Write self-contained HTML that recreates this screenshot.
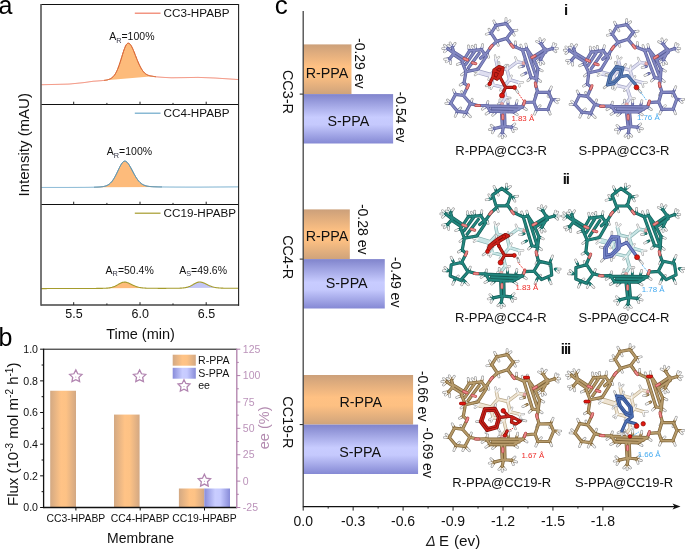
<!DOCTYPE html>
<html><head><meta charset="utf-8"><style>
html,body{margin:0;padding:0;background:#fff;}
svg{display:block;filter:blur(0.3px);}
text{font-family:"Liberation Sans", sans-serif;}
</style></head><body>
<svg width="685" height="549" viewBox="0 0 685 549">
<defs>
<linearGradient id="gRh" x1="0" x2="1" y1="0" y2="0">
 <stop offset="0" stop-color="#d3a983"/><stop offset="0.42" stop-color="#ffc386"/><stop offset="0.62" stop-color="#fdc285"/><stop offset="1" stop-color="#d3a883"/>
</linearGradient>
<linearGradient id="gSh" x1="0" x2="1" y1="0" y2="0">
 <stop offset="0" stop-color="#888cda"/><stop offset="0.42" stop-color="#c9cdff"/><stop offset="0.62" stop-color="#c6caff"/><stop offset="1" stop-color="#878bd8"/>
</linearGradient>
<linearGradient id="gRv" x1="0" x2="0" y1="0" y2="1">
 <stop offset="0" stop-color="#cca07a"/><stop offset="0.45" stop-color="#ffc183"/><stop offset="0.62" stop-color="#fdc082"/><stop offset="1" stop-color="#cfa37b"/>
</linearGradient>
<linearGradient id="gSv" x1="0" x2="0" y1="0" y2="1">
 <stop offset="0" stop-color="#8084cc"/><stop offset="0.47" stop-color="#c8ccff"/><stop offset="0.62" stop-color="#c5c9fd"/><stop offset="1" stop-color="#8589d4"/>
</linearGradient>
</defs>

<text x="-1.6" y="14.2" font-size="25">a</text>
<text x="-1.6" y="345.6" font-size="25">b</text>
<text x="274.7" y="14.4" font-size="26">c</text>
<path d="M106.00,80.13 L106.50,80.04 L107.00,79.95 L107.50,79.82 L108.00,79.68 L108.50,79.53 L109.00,79.35 L109.50,79.16 L110.00,78.93 L110.50,78.68 L111.00,78.39 L111.50,78.07 L112.00,77.70 L112.50,77.29 L113.00,76.82 L113.50,76.30 L114.00,75.71 L114.50,75.06 L115.00,74.33 L115.50,73.52 L116.00,72.64 L116.50,71.67 L117.00,70.62 L117.50,69.48 L118.00,68.26 L118.50,66.96 L119.00,65.59 L119.50,64.14 L120.00,62.63 L120.50,61.07 L121.00,59.47 L121.50,57.84 L122.00,56.21 L122.50,54.58 L123.00,52.97 L123.50,51.42 L124.00,49.94 L124.50,48.55 L125.00,47.27 L125.50,46.14 L126.00,45.17 L126.50,44.38 L127.00,43.79 L127.50,43.42 L128.00,43.27 L128.50,43.23 L129.00,43.36 L129.50,43.66 L130.00,44.11 L130.50,44.70 L131.00,45.43 L131.50,46.27 L132.00,47.23 L132.50,48.27 L133.00,49.39 L133.50,50.57 L134.00,51.80 L134.50,53.06 L135.00,54.35 L135.50,55.64 L136.00,56.93 L136.50,58.22 L137.00,59.48 L137.50,60.71 L138.00,61.90 L138.50,63.05 L139.00,64.15 L139.50,65.20 L140.00,66.20 L140.50,67.18 L141.00,68.10 L141.50,68.96 L142.00,69.75 L142.50,70.49 L143.00,71.16 L143.50,71.78 L144.00,72.35 L144.50,72.86 L145.00,73.31 L145.50,73.73 L146.00,74.09 L146.50,74.42 L147.00,74.71 L147.50,74.96 L148.00,75.19 L148.50,75.38 L149.00,75.55 L149.50,75.69 L150.00,75.82 L150.50,75.92 L151.00,76.01 L151.50,76.09 L152.00,76.15 L152.50,76.25 L153.00,76.35 Z" fill="#fdbb7b"/>
<path d="M41.00,84.74 L41.50,84.73 L42.00,84.72 L42.50,84.71 L43.00,84.70 L43.50,84.69 L44.00,84.67 L44.50,84.66 L45.00,84.65 L45.50,84.64 L46.00,84.63 L46.50,84.62 L47.00,84.61 L47.50,84.59 L48.00,84.58 L48.50,84.57 L49.00,84.56 L49.50,84.55 L50.00,84.54 L50.50,84.52 L51.00,84.51 L51.50,84.50 L52.00,84.49 L52.50,84.48 L53.00,84.47 L53.50,84.45 L54.00,84.44 L54.50,84.43 L55.00,84.42 L55.50,84.41 L56.00,84.40 L56.50,84.38 L57.00,84.37 L57.50,84.36 L58.00,84.35 L58.50,84.34 L59.00,84.32 L59.50,84.31 L60.00,84.30 L60.50,84.29 L61.00,84.28 L61.50,84.26 L62.00,84.25 L62.50,84.24 L63.00,84.23 L63.50,84.21 L64.00,84.20 L64.50,84.19 L65.00,84.18 L65.50,84.17 L66.00,84.15 L66.50,84.14 L67.00,84.13 L67.50,84.12 L68.00,84.10 L68.50,84.09 L69.00,84.08 L69.50,84.03 L70.00,83.98 L70.50,83.93 L71.00,83.88 L71.50,83.83 L72.00,83.78 L72.50,83.73 L73.00,83.69 L73.50,83.64 L74.00,83.59 L74.50,83.54 L75.00,83.49 L75.50,83.44 L76.00,83.39 L76.50,83.34 L77.00,83.29 L77.50,83.24 L78.00,83.19 L78.50,83.14 L79.00,83.09 L79.50,83.04 L80.00,82.99 L80.50,82.94 L81.00,82.89 L81.50,82.84 L82.00,82.79 L82.50,82.74 L83.00,82.68 L83.50,82.63 L84.00,82.58 L84.50,82.51 L85.00,82.44 L85.50,82.37 L86.00,82.29 L86.50,82.22 L87.00,82.15 L87.50,82.08 L88.00,82.00 L88.50,81.93 L89.00,81.86 L89.50,81.78 L90.00,81.71 L90.50,81.64 L91.00,81.56 L91.50,81.49 L92.00,81.41 L92.50,81.34 L93.00,81.26 L93.50,81.23 L94.00,81.20 L94.50,81.17 L95.00,81.14 L95.50,81.10 L96.00,81.07 L96.50,81.04 L97.00,81.00 L97.50,80.97 L98.00,80.93 L98.50,80.89 L99.00,80.86 L99.50,80.82 L100.00,80.78 L100.50,80.74 L101.00,80.70 L101.50,80.66 L102.00,80.61 L102.50,80.56 L103.00,80.51 L103.50,80.46 L104.00,80.41 L104.50,80.34 L105.00,80.28 L105.50,80.21 L106.00,80.13 L106.50,80.04 L107.00,79.95 L107.50,79.82 L108.00,79.68 L108.50,79.53 L109.00,79.35 L109.50,79.16 L110.00,78.93 L110.50,78.68 L111.00,78.39 L111.50,78.07 L112.00,77.70 L112.50,77.29 L113.00,76.82 L113.50,76.30 L114.00,75.71 L114.50,75.06 L115.00,74.33 L115.50,73.52 L116.00,72.64 L116.50,71.67 L117.00,70.62 L117.50,69.48 L118.00,68.26 L118.50,66.96 L119.00,65.59 L119.50,64.14 L120.00,62.63 L120.50,61.07 L121.00,59.47 L121.50,57.84 L122.00,56.21 L122.50,54.58 L123.00,52.97 L123.50,51.42 L124.00,49.94 L124.50,48.55 L125.00,47.27 L125.50,46.14 L126.00,45.17 L126.50,44.38 L127.00,43.79 L127.50,43.42 L128.00,43.27 L128.50,43.23 L129.00,43.36 L129.50,43.66 L130.00,44.11 L130.50,44.70 L131.00,45.43 L131.50,46.27 L132.00,47.23 L132.50,48.27 L133.00,49.39 L133.50,50.57 L134.00,51.80 L134.50,53.06 L135.00,54.35 L135.50,55.64 L136.00,56.93 L136.50,58.22 L137.00,59.48 L137.50,60.71 L138.00,61.90 L138.50,63.05 L139.00,64.15 L139.50,65.20 L140.00,66.20 L140.50,67.18 L141.00,68.10 L141.50,68.96 L142.00,69.75 L142.50,70.49 L143.00,71.16 L143.50,71.78 L144.00,72.35 L144.50,72.86 L145.00,73.31 L145.50,73.73 L146.00,74.09 L146.50,74.42 L147.00,74.71 L147.50,74.96 L148.00,75.19 L148.50,75.38 L149.00,75.55 L149.50,75.69 L150.00,75.82 L150.50,75.92 L151.00,76.01 L151.50,76.09 L152.00,76.15 L152.50,76.25 L153.00,76.35 L153.50,76.43 L154.00,76.51 L154.50,76.59 L155.00,76.65 L155.50,76.71 L156.00,76.77 L156.50,76.83 L157.00,76.88 L157.50,76.92 L158.00,76.97 L158.50,77.01 L159.00,77.05 L159.50,77.09 L160.00,77.13 L160.50,77.17 L161.00,77.20 L161.50,77.24 L162.00,77.27 L162.50,77.30 L163.00,77.34 L163.50,77.37 L164.00,77.40 L164.50,77.43 L165.00,77.46 L165.50,77.48 L166.00,77.51 L166.50,77.54 L167.00,77.57 L167.50,77.59 L168.00,77.62 L168.50,77.65 L169.00,77.67 L169.50,77.70 L170.00,77.72 L170.50,77.74 L171.00,77.77 L171.50,77.77 L172.00,77.76 L172.50,77.76 L173.00,77.75 L173.50,77.75 L174.00,77.75 L174.50,77.74 L175.00,77.74 L175.50,77.73 L176.00,77.73 L176.50,77.72 L177.00,77.71 L177.50,77.71 L178.00,77.70 L178.50,77.70 L179.00,77.69 L179.50,77.68 L180.00,77.68 L180.50,77.67 L181.00,77.66 L181.50,77.66 L182.00,77.65 L182.50,77.64 L183.00,77.63 L183.50,77.63 L184.00,77.62 L184.50,77.61 L185.00,77.60 L185.50,77.60 L186.00,77.59 L186.50,77.58 L187.00,77.57 L187.50,77.56 L188.00,77.56 L188.50,77.55 L189.00,77.54 L189.50,77.53 L190.00,77.52 L190.50,77.51 L191.00,77.50 L191.50,77.50 L192.00,77.49 L192.50,77.48 L193.00,77.47 L193.50,77.46 L194.00,77.45 L194.50,77.44 L195.00,77.43 L195.50,77.42 L196.00,77.41 L196.50,77.41 L197.00,77.40 L197.50,77.39 L198.00,77.38 L198.50,77.40 L199.00,77.42 L199.50,77.44 L200.00,77.45 L200.50,77.47 L201.00,77.49 L201.50,77.51 L202.00,77.53 L202.50,77.55 L203.00,77.57 L203.50,77.59 L204.00,77.61 L204.50,77.63 L205.00,77.65 L205.50,77.66 L206.00,77.68 L206.50,77.70 L207.00,77.72 L207.50,77.74 L208.00,77.76 L208.50,77.78 L209.00,77.80 L209.50,77.82 L210.00,77.83 L210.50,77.85 L211.00,77.87 L211.50,77.89 L212.00,77.91 L212.50,77.93 L213.00,77.95 L213.50,77.96 L214.00,77.98 L214.50,78.00 L215.00,78.02 L215.50,78.05 L216.00,78.09 L216.50,78.12 L217.00,78.15 L217.50,78.18 L218.00,78.22 L218.50,78.25 L219.00,78.28 L219.50,78.32 L220.00,78.35 L220.50,78.38 L221.00,78.41 L221.50,78.45 L222.00,78.48 L222.50,78.51 L223.00,78.54 L223.50,78.58 L224.00,78.61 L224.50,78.64 L225.00,78.67 L225.50,78.71 L226.00,78.74 L226.50,78.77 L227.00,78.80 L227.50,78.84 L228.00,78.87 L228.50,78.90 L229.00,78.93 L229.50,78.97 L230.00,79.00 L230.50,79.03 L231.00,79.06 L231.50,79.10 L232.00,79.13 L232.50,79.16 L233.00,79.19 L233.50,79.23 L234.00,79.26 L234.50,79.29 L235.00,79.32 L235.50,79.36 L236.00,79.39 L236.50,79.42 L237.00,79.45 L237.50,79.49 L238.00,79.52 L238.50,79.55" fill="none" stroke="#ef7b63" stroke-width="1"/>
<path d="M104.00,80.41 L104.50,80.34 L105.00,80.28 L105.50,80.21 L106.00,80.13 L106.50,80.04 L107.00,79.95 L107.50,79.82 L108.00,79.68 L108.50,79.53 L109.00,79.35 L109.50,79.16 L110.00,78.93 L110.50,78.68 L111.00,78.39 L111.50,78.07 L112.00,77.70 L112.50,77.29 L113.00,76.82 L113.50,76.30 L114.00,75.71 L114.50,75.06 L115.00,74.33 L115.50,73.52 L116.00,72.64 L116.50,71.67 L117.00,70.62 L117.50,69.48 L118.00,68.26 L118.50,66.96 L119.00,65.59 L119.50,64.14 L120.00,62.63 L120.50,61.07 L121.00,59.47 L121.50,57.84 L122.00,56.21 L122.50,54.58 L123.00,52.97 L123.50,51.42 L124.00,49.94 L124.50,48.55 L125.00,47.27 L125.50,46.14 L126.00,45.17 L126.50,44.38 L127.00,43.79 L127.50,43.42 L128.00,43.27 L128.50,43.23 L129.00,43.36 L129.50,43.66 L130.00,44.11 L130.50,44.70 L131.00,45.43 L131.50,46.27 L132.00,47.23 L132.50,48.27 L133.00,49.39 L133.50,50.57 L134.00,51.80 L134.50,53.06 L135.00,54.35 L135.50,55.64 L136.00,56.93 L136.50,58.22 L137.00,59.48 L137.50,60.71 L138.00,61.90 L138.50,63.05 L139.00,64.15 L139.50,65.20 L140.00,66.20 L140.50,67.18 L141.00,68.10 L141.50,68.96 L142.00,69.75 L142.50,70.49 L143.00,71.16 L143.50,71.78 L144.00,72.35 L144.50,72.86 L145.00,73.31 L145.50,73.73 L146.00,74.09 L146.50,74.42 L147.00,74.71 L147.50,74.96 L148.00,75.19 L148.50,75.38 L149.00,75.55 L149.50,75.69 L150.00,75.82 L150.50,75.92 L151.00,76.01 L151.50,76.09 L152.00,76.15 L152.50,76.25 L153.00,76.35 L153.50,76.43 L154.00,76.51 L154.50,76.59 L155.00,76.65 L155.50,76.71 L156.00,76.77" fill="none" stroke="#d4692e" stroke-width="1"/>
<path d="M94.00,187.20 L94.50,187.18 L95.00,187.17 L95.50,187.15 L96.00,187.13 L96.50,187.11 L97.00,187.09 L97.50,187.07 L98.00,187.04 L98.50,187.02 L99.00,186.99 L99.50,186.96 L100.00,186.92 L100.50,186.88 L101.00,186.84 L101.50,186.78 L102.00,186.73 L102.50,186.66 L103.00,186.58 L103.50,186.50 L104.00,186.40 L104.50,186.29 L105.00,186.16 L105.50,186.01 L106.00,185.85 L106.50,185.66 L107.00,185.44 L107.50,185.20 L108.00,184.93 L108.50,184.62 L109.00,184.28 L109.50,183.90 L110.00,183.48 L110.50,183.01 L111.00,182.50 L111.50,181.94 L112.00,181.33 L112.50,180.67 L113.00,179.97 L113.50,179.21 L114.00,178.40 L114.50,177.54 L115.00,176.64 L115.50,175.70 L116.00,174.73 L116.50,173.72 L117.00,172.69 L117.50,171.65 L118.00,170.59 L118.50,169.54 L119.00,168.50 L119.50,167.48 L120.00,166.49 L120.50,165.55 L121.00,164.67 L121.50,163.86 L122.00,163.14 L122.50,162.51 L123.00,161.99 L123.50,161.58 L124.00,161.30 L124.50,161.15 L125.00,161.13 L125.50,161.23 L126.00,161.44 L126.50,161.75 L127.00,162.17 L127.50,162.68 L128.00,163.27 L128.50,163.95 L129.00,164.69 L129.50,165.49 L130.00,166.34 L130.50,167.22 L131.00,168.14 L131.50,169.08 L132.00,170.04 L132.50,171.00 L133.00,171.95 L133.50,172.90 L134.00,173.83 L134.50,174.74 L135.00,175.62 L135.50,176.48 L136.00,177.30 L136.50,178.08 L137.00,178.82 L137.50,179.53 L138.00,180.19 L138.50,180.81 L139.00,181.39 L139.50,181.93 L140.00,182.43 L140.50,182.89 L141.00,183.31 L141.50,183.69 L142.00,184.04 L142.50,184.36 L143.00,184.64 L143.50,184.90 L144.00,185.13 L144.50,185.33 L145.00,185.52 L145.50,185.68 L146.00,185.83 L146.50,185.95 L147.00,186.07 L147.50,186.16 L148.00,186.25 L148.50,186.33 L149.00,186.40 L149.50,186.46 L150.00,186.51 L150.50,186.56 L151.00,186.60 L151.50,186.63 L152.00,186.67 L152.50,186.70 L153.00,186.72 L153.50,186.75 L154.00,186.77 L154.50,186.79 L155.00,186.81 L155.50,186.82 L156.00,186.84 L156.50,186.85 L157.00,186.87 L157.50,186.88 L158.00,186.89 L158.50,186.90 L159.00,186.91 L159.50,186.92 L160.00,186.93 L160.50,186.94 L161.00,186.94 L161.50,186.95 L162.00,186.96 Z" fill="#fdbb7b"/>
<path d="M41.00,187.45 L41.50,187.45 L42.00,187.45 L42.50,187.45 L43.00,187.45 L43.50,187.45 L44.00,187.45 L44.50,187.45 L45.00,187.45 L45.50,187.45 L46.00,187.45 L46.50,187.45 L47.00,187.45 L47.50,187.45 L48.00,187.45 L48.50,187.45 L49.00,187.45 L49.50,187.45 L50.00,187.45 L50.50,187.45 L51.00,187.45 L51.50,187.45 L52.00,187.45 L52.50,187.45 L53.00,187.45 L53.50,187.45 L54.00,187.45 L54.50,187.45 L55.00,187.45 L55.50,187.45 L56.00,187.45 L56.50,187.45 L57.00,187.45 L57.50,187.45 L58.00,187.45 L58.50,187.45 L59.00,187.45 L59.50,187.45 L60.00,187.45 L60.50,187.45 L61.00,187.45 L61.50,187.45 L62.00,187.45 L62.50,187.45 L63.00,187.45 L63.50,187.44 L64.00,187.44 L64.50,187.44 L65.00,187.44 L65.50,187.44 L66.00,187.44 L66.50,187.44 L67.00,187.44 L67.50,187.44 L68.00,187.44 L68.50,187.44 L69.00,187.44 L69.50,187.43 L70.00,187.43 L70.50,187.43 L71.00,187.43 L71.50,187.43 L72.00,187.43 L72.50,187.43 L73.00,187.42 L73.50,187.42 L74.00,187.42 L74.50,187.42 L75.00,187.42 L75.50,187.42 L76.00,187.41 L76.50,187.41 L77.00,187.41 L77.50,187.41 L78.00,187.40 L78.50,187.40 L79.00,187.40 L79.50,187.40 L80.00,187.39 L80.50,187.39 L81.00,187.39 L81.50,187.38 L82.00,187.38 L82.50,187.38 L83.00,187.37 L83.50,187.37 L84.00,187.36 L84.50,187.36 L85.00,187.36 L85.50,187.35 L86.00,187.35 L86.50,187.34 L87.00,187.34 L87.50,187.33 L88.00,187.32 L88.50,187.32 L89.00,187.31 L89.50,187.30 L90.00,187.30 L90.50,187.29 L91.00,187.28 L91.50,187.26 L92.00,187.25 L92.50,187.24 L93.00,187.23 L93.50,187.21 L94.00,187.20 L94.50,187.18 L95.00,187.17 L95.50,187.15 L96.00,187.13 L96.50,187.11 L97.00,187.09 L97.50,187.07 L98.00,187.04 L98.50,187.02 L99.00,186.99 L99.50,186.96 L100.00,186.92 L100.50,186.88 L101.00,186.84 L101.50,186.78 L102.00,186.73 L102.50,186.66 L103.00,186.58 L103.50,186.50 L104.00,186.40 L104.50,186.29 L105.00,186.16 L105.50,186.01 L106.00,185.85 L106.50,185.66 L107.00,185.44 L107.50,185.20 L108.00,184.93 L108.50,184.62 L109.00,184.28 L109.50,183.90 L110.00,183.48 L110.50,183.01 L111.00,182.50 L111.50,181.94 L112.00,181.33 L112.50,180.67 L113.00,179.97 L113.50,179.21 L114.00,178.40 L114.50,177.54 L115.00,176.64 L115.50,175.70 L116.00,174.73 L116.50,173.72 L117.00,172.69 L117.50,171.65 L118.00,170.59 L118.50,169.54 L119.00,168.50 L119.50,167.48 L120.00,166.49 L120.50,165.55 L121.00,164.67 L121.50,163.86 L122.00,163.14 L122.50,162.51 L123.00,161.99 L123.50,161.58 L124.00,161.30 L124.50,161.15 L125.00,161.13 L125.50,161.23 L126.00,161.44 L126.50,161.75 L127.00,162.17 L127.50,162.68 L128.00,163.27 L128.50,163.95 L129.00,164.69 L129.50,165.49 L130.00,166.34 L130.50,167.22 L131.00,168.14 L131.50,169.08 L132.00,170.04 L132.50,171.00 L133.00,171.95 L133.50,172.90 L134.00,173.83 L134.50,174.74 L135.00,175.62 L135.50,176.48 L136.00,177.30 L136.50,178.08 L137.00,178.82 L137.50,179.53 L138.00,180.19 L138.50,180.81 L139.00,181.39 L139.50,181.93 L140.00,182.43 L140.50,182.89 L141.00,183.31 L141.50,183.69 L142.00,184.04 L142.50,184.36 L143.00,184.64 L143.50,184.90 L144.00,185.13 L144.50,185.33 L145.00,185.52 L145.50,185.68 L146.00,185.83 L146.50,185.95 L147.00,186.07 L147.50,186.16 L148.00,186.25 L148.50,186.33 L149.00,186.40 L149.50,186.46 L150.00,186.51 L150.50,186.56 L151.00,186.60 L151.50,186.63 L152.00,186.67 L152.50,186.70 L153.00,186.72 L153.50,186.75 L154.00,186.77 L154.50,186.79 L155.00,186.81 L155.50,186.82 L156.00,186.84 L156.50,186.85 L157.00,186.87 L157.50,186.88 L158.00,186.89 L158.50,186.90 L159.00,186.91 L159.50,186.92 L160.00,186.93 L160.50,186.94 L161.00,186.94 L161.50,186.95 L162.00,186.96 L162.50,186.97 L163.00,186.97 L163.50,186.98 L164.00,186.98 L164.50,186.99 L165.00,187.00 L165.50,187.00 L166.00,187.01 L166.50,187.01 L167.00,187.02 L167.50,187.02 L168.00,187.03 L168.50,187.03 L169.00,187.03 L169.50,187.04 L170.00,187.04 L170.50,187.04 L171.00,187.05 L171.50,187.05 L172.00,187.05 L172.50,187.06 L173.00,187.06 L173.50,187.06 L174.00,187.07 L174.50,187.07 L175.00,187.07 L175.50,187.07 L176.00,187.08 L176.50,187.08 L177.00,187.08 L177.50,187.08 L178.00,187.08 L178.50,187.09 L179.00,187.09 L179.50,187.09 L180.00,187.09 L180.50,187.09 L181.00,187.09 L181.50,187.10 L182.00,187.10 L182.50,187.10 L183.00,187.10 L183.50,187.10 L184.00,187.10 L184.50,187.10 L185.00,187.10 L185.50,187.11 L186.00,187.11 L186.50,187.11 L187.00,187.11 L187.50,187.11 L188.00,187.11 L188.50,187.11 L189.00,187.11 L189.50,187.11 L190.00,187.11 L190.50,187.11 L191.00,187.11 L191.50,187.11 L192.00,187.11 L192.50,187.12 L193.00,187.12 L193.50,187.12 L194.00,187.12 L194.50,187.12 L195.00,187.12 L195.50,187.12 L196.00,187.12 L196.50,187.12 L197.00,187.12 L197.50,187.12 L198.00,187.12 L198.50,187.12 L199.00,187.12 L199.50,187.12 L200.00,187.12 L200.50,187.12 L201.00,187.11 L201.50,187.11 L202.00,187.11 L202.50,187.10 L203.00,187.10 L203.50,187.10 L204.00,187.10 L204.50,187.09 L205.00,187.09 L205.50,187.09 L206.00,187.08 L206.50,187.08 L207.00,187.08 L207.50,187.07 L208.00,187.07 L208.50,187.07 L209.00,187.06 L209.50,187.06 L210.00,187.06 L210.50,187.06 L211.00,187.05 L211.50,187.05 L212.00,187.05 L212.50,187.04 L213.00,187.04 L213.50,187.04 L214.00,187.03 L214.50,187.03 L215.00,187.03 L215.50,187.02 L216.00,187.02 L216.50,187.02 L217.00,187.01 L217.50,187.01 L218.00,187.01 L218.50,187.00 L219.00,187.00 L219.50,187.00 L220.00,186.99 L220.50,186.99 L221.00,186.99 L221.50,186.98 L222.00,186.98 L222.50,186.98 L223.00,186.97 L223.50,186.97 L224.00,186.97 L224.50,186.96 L225.00,186.96 L225.50,186.96 L226.00,186.95 L226.50,186.95 L227.00,186.95 L227.50,186.94 L228.00,186.94 L228.50,186.93 L229.00,186.93 L229.50,186.93 L230.00,186.92 L230.50,186.92 L231.00,186.92 L231.50,186.91 L232.00,186.91 L232.50,186.91 L233.00,186.90 L233.50,186.90 L234.00,186.90 L234.50,186.89 L235.00,186.89 L235.50,186.89 L236.00,186.88 L236.50,186.88 L237.00,186.87 L237.50,186.87 L238.00,186.87 L238.50,186.86" fill="none" stroke="#6ba7c9" stroke-width="1"/>
<path d="M94.00,187.20 L94.50,187.18 L95.00,187.17 L95.50,187.15 L96.00,187.13 L96.50,187.11 L97.00,187.09 L97.50,187.07 L98.00,187.04 L98.50,187.02 L99.00,186.99 L99.50,186.96 L100.00,186.92 L100.50,186.88 L101.00,186.84 L101.50,186.78 L102.00,186.73 L102.50,186.66 L103.00,186.58 L103.50,186.50 L104.00,186.40 L104.50,186.29 L105.00,186.16 L105.50,186.01 L106.00,185.85 L106.50,185.66 L107.00,185.44 L107.50,185.20 L108.00,184.93 L108.50,184.62 L109.00,184.28 L109.50,183.90 L110.00,183.48 L110.50,183.01 L111.00,182.50 L111.50,181.94 L112.00,181.33 L112.50,180.67 L113.00,179.97 L113.50,179.21 L114.00,178.40 L114.50,177.54 L115.00,176.64 L115.50,175.70 L116.00,174.73 L116.50,173.72 L117.00,172.69 L117.50,171.65 L118.00,170.59 L118.50,169.54 L119.00,168.50 L119.50,167.48 L120.00,166.49 L120.50,165.55 L121.00,164.67 L121.50,163.86 L122.00,163.14 L122.50,162.51 L123.00,161.99 L123.50,161.58 L124.00,161.30 L124.50,161.15 L125.00,161.13 L125.50,161.23 L126.00,161.44 L126.50,161.75 L127.00,162.17 L127.50,162.68 L128.00,163.27 L128.50,163.95 L129.00,164.69 L129.50,165.49 L130.00,166.34 L130.50,167.22 L131.00,168.14 L131.50,169.08 L132.00,170.04 L132.50,171.00 L133.00,171.95 L133.50,172.90 L134.00,173.83 L134.50,174.74 L135.00,175.62 L135.50,176.48 L136.00,177.30 L136.50,178.08 L137.00,178.82 L137.50,179.53 L138.00,180.19 L138.50,180.81 L139.00,181.39 L139.50,181.93 L140.00,182.43 L140.50,182.89 L141.00,183.31 L141.50,183.69 L142.00,184.04 L142.50,184.36 L143.00,184.64 L143.50,184.90 L144.00,185.13 L144.50,185.33 L145.00,185.52 L145.50,185.68 L146.00,185.83 L146.50,185.95 L147.00,186.07 L147.50,186.16 L148.00,186.25 L148.50,186.33 L149.00,186.40 L149.50,186.46 L150.00,186.51 L150.50,186.56 L151.00,186.60 L151.50,186.63 L152.00,186.67 L152.50,186.70 L153.00,186.72 L153.50,186.75 L154.00,186.77 L154.50,186.79 L155.00,186.81 L155.50,186.82 L156.00,186.84 L156.50,186.85 L157.00,186.87 L157.50,186.88 L158.00,186.89 L158.50,186.90 L159.00,186.91 L159.50,186.92 L160.00,186.93 L160.50,186.94 L161.00,186.94 L161.50,186.95 L162.00,186.96" fill="none" stroke="#5f8ea4" stroke-width="1"/>
<path d="M104.00,288.29 L104.50,288.28 L105.00,288.25 L105.50,288.23 L106.00,288.20 L106.50,288.17 L107.00,288.13 L107.50,288.09 L108.00,288.04 L108.50,287.98 L109.00,287.91 L109.50,287.84 L110.00,287.75 L110.50,287.66 L111.00,287.55 L111.50,287.43 L112.00,287.30 L112.50,287.15 L113.00,286.99 L113.50,286.81 L114.00,286.62 L114.50,286.41 L115.00,286.19 L115.50,285.95 L116.00,285.70 L116.50,285.44 L117.00,285.17 L117.50,284.89 L118.00,284.61 L118.50,284.32 L119.00,284.04 L119.50,283.76 L120.00,283.49 L120.50,283.23 L121.00,282.98 L121.50,282.76 L122.00,282.56 L122.50,282.40 L123.00,282.26 L123.50,282.17 L124.00,282.11 L124.50,282.10 L125.00,282.12 L125.50,282.17 L126.00,282.26 L126.50,282.37 L127.00,282.50 L127.50,282.66 L128.00,282.84 L128.50,283.04 L129.00,283.26 L129.50,283.48 L130.00,283.72 L130.50,283.96 L131.00,284.20 L131.50,284.45 L132.00,284.70 L132.50,284.94 L133.00,285.18 L133.50,285.41 L134.00,285.64 L134.50,285.85 L135.00,286.06 L135.50,286.26 L136.00,286.44 L136.50,286.62 L137.00,286.78 L137.50,286.93 L138.00,287.08 L138.50,287.21 L139.00,287.33 L139.50,287.43 L140.00,287.53 L140.50,287.62 L141.00,287.70 L141.50,287.78 L142.00,287.84 L142.50,287.90 L143.00,287.95 L143.50,288.00 L144.00,288.04 L144.50,288.07 L145.00,288.11 Z" fill="#fdbb7b"/>
<path d="M181.00,288.11 L181.50,288.08 L182.00,288.04 L182.50,288.00 L183.00,287.96 L183.50,287.90 L184.00,287.84 L184.50,287.77 L185.00,287.69 L185.50,287.60 L186.00,287.50 L186.50,287.38 L187.00,287.26 L187.50,287.12 L188.00,286.96 L188.50,286.79 L189.00,286.60 L189.50,286.40 L190.00,286.19 L190.50,285.96 L191.00,285.71 L191.50,285.46 L192.00,285.19 L192.50,284.92 L193.00,284.64 L193.50,284.35 L194.00,284.07 L194.50,283.78 L195.00,283.51 L195.50,283.24 L196.00,282.99 L196.50,282.76 L197.00,282.55 L197.50,282.37 L198.00,282.23 L198.50,282.12 L199.00,282.05 L199.50,282.02 L200.00,282.03 L200.50,282.07 L201.00,282.14 L201.50,282.24 L202.00,282.37 L202.50,282.52 L203.00,282.69 L203.50,282.88 L204.00,283.09 L204.50,283.31 L205.00,283.55 L205.50,283.79 L206.00,284.03 L206.50,284.28 L207.00,284.52 L207.50,284.77 L208.00,285.01 L208.50,285.25 L209.00,285.47 L209.50,285.70 L210.00,285.91 L210.50,286.11 L211.00,286.30 L211.50,286.48 L212.00,286.65 L212.50,286.81 L213.00,286.95 L213.50,287.09 L214.00,287.21 L214.50,287.33 L215.00,287.43 L215.50,287.52 L216.00,287.61 L216.50,287.69 L217.00,287.75 L217.50,287.82 L218.00,287.87 Z" fill="#c3c6f4"/>
<path d="M41.00,288.58 L41.50,288.58 L42.00,288.58 L42.50,288.58 L43.00,288.58 L43.50,288.58 L44.00,288.58 L44.50,288.58 L45.00,288.58 L45.50,288.58 L46.00,288.58 L46.50,288.58 L47.00,288.57 L47.50,288.57 L48.00,288.57 L48.50,288.57 L49.00,288.57 L49.50,288.57 L50.00,288.57 L50.50,288.57 L51.00,288.57 L51.50,288.57 L52.00,288.57 L52.50,288.57 L53.00,288.57 L53.50,288.56 L54.00,288.56 L54.50,288.56 L55.00,288.56 L55.50,288.56 L56.00,288.56 L56.50,288.56 L57.00,288.56 L57.50,288.56 L58.00,288.56 L58.50,288.56 L59.00,288.56 L59.50,288.55 L60.00,288.55 L60.50,288.55 L61.00,288.55 L61.50,288.55 L62.00,288.55 L62.50,288.55 L63.00,288.55 L63.50,288.55 L64.00,288.55 L64.50,288.55 L65.00,288.54 L65.50,288.54 L66.00,288.54 L66.50,288.54 L67.00,288.54 L67.50,288.54 L68.00,288.54 L68.50,288.54 L69.00,288.54 L69.50,288.54 L70.00,288.53 L70.50,288.53 L71.00,288.53 L71.50,288.53 L72.00,288.53 L72.50,288.53 L73.00,288.53 L73.50,288.53 L74.00,288.52 L74.50,288.52 L75.00,288.52 L75.50,288.52 L76.00,288.52 L76.50,288.52 L77.00,288.52 L77.50,288.52 L78.00,288.51 L78.50,288.51 L79.00,288.51 L79.50,288.51 L80.00,288.51 L80.50,288.51 L81.00,288.50 L81.50,288.50 L82.00,288.50 L82.50,288.50 L83.00,288.50 L83.50,288.50 L84.00,288.49 L84.50,288.49 L85.00,288.49 L85.50,288.49 L86.00,288.49 L86.50,288.48 L87.00,288.48 L87.50,288.48 L88.00,288.48 L88.50,288.47 L89.00,288.47 L89.50,288.47 L90.00,288.47 L90.50,288.46 L91.00,288.46 L91.50,288.46 L92.00,288.46 L92.50,288.45 L93.00,288.45 L93.50,288.45 L94.00,288.44 L94.50,288.44 L95.00,288.44 L95.50,288.43 L96.00,288.43 L96.50,288.42 L97.00,288.42 L97.50,288.41 L98.00,288.41 L98.50,288.40 L99.00,288.40 L99.50,288.39 L100.00,288.38 L100.50,288.38 L101.00,288.37 L101.50,288.36 L102.00,288.35 L102.50,288.34 L103.00,288.32 L103.50,288.31 L104.00,288.29 L104.50,288.28 L105.00,288.25 L105.50,288.23 L106.00,288.20 L106.50,288.17 L107.00,288.13 L107.50,288.09 L108.00,288.04 L108.50,287.98 L109.00,287.91 L109.50,287.84 L110.00,287.75 L110.50,287.66 L111.00,287.55 L111.50,287.43 L112.00,287.30 L112.50,287.15 L113.00,286.99 L113.50,286.81 L114.00,286.62 L114.50,286.41 L115.00,286.19 L115.50,285.95 L116.00,285.70 L116.50,285.44 L117.00,285.17 L117.50,284.89 L118.00,284.61 L118.50,284.32 L119.00,284.04 L119.50,283.76 L120.00,283.49 L120.50,283.23 L121.00,282.98 L121.50,282.76 L122.00,282.56 L122.50,282.40 L123.00,282.26 L123.50,282.17 L124.00,282.11 L124.50,282.10 L125.00,282.12 L125.50,282.17 L126.00,282.26 L126.50,282.37 L127.00,282.50 L127.50,282.66 L128.00,282.84 L128.50,283.04 L129.00,283.26 L129.50,283.48 L130.00,283.72 L130.50,283.96 L131.00,284.20 L131.50,284.45 L132.00,284.70 L132.50,284.94 L133.00,285.18 L133.50,285.41 L134.00,285.64 L134.50,285.85 L135.00,286.06 L135.50,286.26 L136.00,286.44 L136.50,286.62 L137.00,286.78 L137.50,286.93 L138.00,287.08 L138.50,287.21 L139.00,287.33 L139.50,287.43 L140.00,287.53 L140.50,287.62 L141.00,287.70 L141.50,287.78 L142.00,287.84 L142.50,287.90 L143.00,287.95 L143.50,288.00 L144.00,288.04 L144.50,288.07 L145.00,288.11 L145.50,288.13 L146.00,288.16 L146.50,288.18 L147.00,288.20 L147.50,288.21 L148.00,288.23 L148.50,288.24 L149.00,288.25 L149.50,288.26 L150.00,288.27 L150.50,288.28 L151.00,288.28 L151.50,288.29 L152.00,288.29 L152.50,288.30 L153.00,288.30 L153.50,288.31 L154.00,288.31 L154.50,288.31 L155.00,288.31 L155.50,288.32 L156.00,288.32 L156.50,288.32 L157.00,288.32 L157.50,288.32 L158.00,288.33 L158.50,288.33 L159.00,288.33 L159.50,288.33 L160.00,288.33 L160.50,288.33 L161.00,288.33 L161.50,288.33 L162.00,288.33 L162.50,288.33 L163.00,288.33 L163.50,288.33 L164.00,288.33 L164.50,288.33 L165.00,288.33 L165.50,288.33 L166.00,288.33 L166.50,288.32 L167.00,288.32 L167.50,288.32 L168.00,288.32 L168.50,288.32 L169.00,288.32 L169.50,288.31 L170.00,288.31 L170.50,288.31 L171.00,288.31 L171.50,288.30 L172.00,288.30 L172.50,288.30 L173.00,288.29 L173.50,288.29 L174.00,288.28 L174.50,288.28 L175.00,288.27 L175.50,288.27 L176.00,288.26 L176.50,288.25 L177.00,288.24 L177.50,288.23 L178.00,288.22 L178.50,288.21 L179.00,288.19 L179.50,288.18 L180.00,288.16 L180.50,288.13 L181.00,288.11 L181.50,288.08 L182.00,288.04 L182.50,288.00 L183.00,287.96 L183.50,287.90 L184.00,287.84 L184.50,287.77 L185.00,287.69 L185.50,287.60 L186.00,287.50 L186.50,287.38 L187.00,287.26 L187.50,287.12 L188.00,286.96 L188.50,286.79 L189.00,286.60 L189.50,286.40 L190.00,286.19 L190.50,285.96 L191.00,285.71 L191.50,285.46 L192.00,285.19 L192.50,284.92 L193.00,284.64 L193.50,284.35 L194.00,284.07 L194.50,283.78 L195.00,283.51 L195.50,283.24 L196.00,282.99 L196.50,282.76 L197.00,282.55 L197.50,282.37 L198.00,282.23 L198.50,282.12 L199.00,282.05 L199.50,282.02 L200.00,282.03 L200.50,282.07 L201.00,282.14 L201.50,282.24 L202.00,282.37 L202.50,282.52 L203.00,282.69 L203.50,282.88 L204.00,283.09 L204.50,283.31 L205.00,283.55 L205.50,283.79 L206.00,284.03 L206.50,284.28 L207.00,284.52 L207.50,284.77 L208.00,285.01 L208.50,285.25 L209.00,285.47 L209.50,285.70 L210.00,285.91 L210.50,286.11 L211.00,286.30 L211.50,286.48 L212.00,286.65 L212.50,286.81 L213.00,286.95 L213.50,287.09 L214.00,287.21 L214.50,287.33 L215.00,287.43 L215.50,287.52 L216.00,287.61 L216.50,287.69 L217.00,287.75 L217.50,287.82 L218.00,287.87 L218.50,287.92 L219.00,287.96 L219.50,288.00 L220.00,288.03 L220.50,288.06 L221.00,288.09 L221.50,288.11 L222.00,288.13 L222.50,288.15 L223.00,288.17 L223.50,288.18 L224.00,288.19 L224.50,288.20 L225.00,288.21 L225.50,288.22 L226.00,288.23 L226.50,288.24 L227.00,288.24 L227.50,288.25 L228.00,288.25 L228.50,288.26 L229.00,288.26 L229.50,288.27 L230.00,288.27 L230.50,288.28 L231.00,288.28 L231.50,288.28 L232.00,288.28 L232.50,288.29 L233.00,288.29 L233.50,288.29 L234.00,288.30 L234.50,288.30 L235.00,288.30 L235.50,288.30 L236.00,288.30 L236.50,288.31 L237.00,288.31 L237.50,288.31 L238.00,288.31 L238.50,288.31" fill="none" stroke="#a59c2c" stroke-width="1.1"/>
<line x1="41" y1="4.5" x2="238.6" y2="4.5" stroke="#111" stroke-width="1"/>
<line x1="41" y1="104.5" x2="238.6" y2="104.5" stroke="#111" stroke-width="1"/>
<line x1="41" y1="204.5" x2="238.6" y2="204.5" stroke="#111" stroke-width="1"/>
<line x1="41" y1="305" x2="239.1" y2="305" stroke="#444" stroke-width="1.5"/>
<line x1="41" y1="4" x2="41" y2="305.7" stroke="#555" stroke-width="1.6"/>
<line x1="238.6" y1="4" x2="238.6" y2="305.7" stroke="#222" stroke-width="1.1"/>
<line x1="73.7" y1="104.5" x2="73.7" y2="101.7" stroke="#222" stroke-width="1"/>
<line x1="106.9" y1="104.5" x2="106.9" y2="102.9" stroke="#222" stroke-width="1"/>
<line x1="140.0" y1="104.5" x2="140.0" y2="101.7" stroke="#222" stroke-width="1"/>
<line x1="173.0" y1="104.5" x2="173.0" y2="102.9" stroke="#222" stroke-width="1"/>
<line x1="206.2" y1="104.5" x2="206.2" y2="101.7" stroke="#222" stroke-width="1"/>
<line x1="73.7" y1="204.5" x2="73.7" y2="201.7" stroke="#222" stroke-width="1"/>
<line x1="106.9" y1="204.5" x2="106.9" y2="202.9" stroke="#222" stroke-width="1"/>
<line x1="140.0" y1="204.5" x2="140.0" y2="201.7" stroke="#222" stroke-width="1"/>
<line x1="173.0" y1="204.5" x2="173.0" y2="202.9" stroke="#222" stroke-width="1"/>
<line x1="206.2" y1="204.5" x2="206.2" y2="201.7" stroke="#222" stroke-width="1"/>
<line x1="73.7" y1="305" x2="73.7" y2="302.2" stroke="#222" stroke-width="1"/>
<line x1="106.9" y1="305" x2="106.9" y2="303.4" stroke="#222" stroke-width="1"/>
<line x1="140.0" y1="305" x2="140.0" y2="302.2" stroke="#222" stroke-width="1"/>
<line x1="173.0" y1="305" x2="173.0" y2="303.4" stroke="#222" stroke-width="1"/>
<line x1="206.2" y1="305" x2="206.2" y2="302.2" stroke="#222" stroke-width="1"/>
<line x1="134.8" y1="13.2" x2="160.5" y2="13.2" stroke="#ef7b63" stroke-width="1.2"/>
<text x="163.6" y="16.9" font-size="11.7" fill="#111">CC3-HPABP</text>
<line x1="134.8" y1="113.2" x2="160.5" y2="113.2" stroke="#6ba7c9" stroke-width="1.2"/>
<text x="163.6" y="116.9" font-size="11.7" fill="#111">CC4-HPABP</text>
<line x1="134.8" y1="213.2" x2="160.5" y2="213.2" stroke="#a59c2c" stroke-width="1.2"/>
<text x="163.6" y="216.89999999999998" font-size="11.7" fill="#111">CC19-HPABP</text>
<text x="109.2" y="40" font-size="10.5" fill="#111">A<tspan font-size="7.3" dy="2.5" fill="#334">R</tspan><tspan dy="-2.5">=100%</tspan></text>
<text x="106.8" y="155.3" font-size="10.5" fill="#111">A<tspan font-size="7.3" dy="2.5" fill="#334">R</tspan><tspan dy="-2.5">=100%</tspan></text>
<text x="105.6" y="273.9" font-size="10.5" fill="#111">A<tspan font-size="7.3" dy="2.5" fill="#334">R</tspan><tspan dy="-2.5">=50.4%</tspan></text>
<text x="179.2" y="273.9" font-size="10.5" fill="#111">A<tspan font-size="7.3" dy="2.5" fill="#334">S</tspan><tspan dy="-2.5">=49.6%</tspan></text>
<text x="74.0" y="318" font-size="12.5" text-anchor="middle" fill="#111">5.5</text>
<text x="140.3" y="318" font-size="12.5" text-anchor="middle" fill="#111">6.0</text>
<text x="206.5" y="318" font-size="12.5" text-anchor="middle" fill="#111">6.5</text>
<text x="140.5" y="339" font-size="14.5" text-anchor="middle" fill="#111">Time (min)</text>
<text transform="translate(29.3,196.4) rotate(-90)" font-size="15" fill="#111">Intensity (mAU)</text>
<rect x="50.2" y="390.75" width="25.80" height="116.75" fill="url(#gRh)"/>
<rect x="114" y="414.58" width="25.60" height="92.92" fill="url(#gRh)"/>
<rect x="178.9" y="488.50" width="25.40" height="19.00" fill="url(#gRh)"/>
<rect x="204.3" y="488.50" width="25.70" height="19.00" fill="url(#gSh)"/>
<line x1="43.6" y1="349.2" x2="236.8" y2="349.2" stroke="#111" stroke-width="1"/>
<line x1="43.6" y1="507.5" x2="236.8" y2="507.5" stroke="#111" stroke-width="1.4"/>
<line x1="43.6" y1="348.7" x2="43.6" y2="508.2" stroke="#111" stroke-width="1.3"/>
<line x1="236.8" y1="348.7" x2="236.8" y2="508.2" stroke="#b07fab" stroke-width="1.3"/>
<line x1="43.6" y1="507.50" x2="40.1" y2="507.50" stroke="#111" stroke-width="1"/>
<text x="38.0" y="511.20" font-size="10.6" text-anchor="end" fill="#111">0.0</text>
<line x1="43.6" y1="491.67" x2="41.6" y2="491.67" stroke="#111" stroke-width="1"/>
<line x1="43.6" y1="475.84" x2="40.1" y2="475.84" stroke="#111" stroke-width="1"/>
<text x="38.0" y="479.54" font-size="10.6" text-anchor="end" fill="#111">0.2</text>
<line x1="43.6" y1="460.01" x2="41.6" y2="460.01" stroke="#111" stroke-width="1"/>
<line x1="43.6" y1="444.18" x2="40.1" y2="444.18" stroke="#111" stroke-width="1"/>
<text x="38.0" y="447.88" font-size="10.6" text-anchor="end" fill="#111">0.4</text>
<line x1="43.6" y1="428.35" x2="41.6" y2="428.35" stroke="#111" stroke-width="1"/>
<line x1="43.6" y1="412.52" x2="40.1" y2="412.52" stroke="#111" stroke-width="1"/>
<text x="38.0" y="416.22" font-size="10.6" text-anchor="end" fill="#111">0.6</text>
<line x1="43.6" y1="396.69" x2="41.6" y2="396.69" stroke="#111" stroke-width="1"/>
<line x1="43.6" y1="380.86" x2="40.1" y2="380.86" stroke="#111" stroke-width="1"/>
<text x="38.0" y="384.56" font-size="10.6" text-anchor="end" fill="#111">0.8</text>
<line x1="43.6" y1="365.03" x2="41.6" y2="365.03" stroke="#111" stroke-width="1"/>
<line x1="43.6" y1="349.20" x2="40.1" y2="349.20" stroke="#111" stroke-width="1"/>
<text x="38.0" y="352.90" font-size="10.6" text-anchor="end" fill="#111">1.0</text>
<line x1="236.8" y1="507.50" x2="240.3" y2="507.50" stroke="#b07fab" stroke-width="1"/>
<text x="242.8" y="511.20" font-size="10.5" fill="#bb93ba">-25</text>
<line x1="236.8" y1="494.31" x2="238.8" y2="494.31" stroke="#b07fab" stroke-width="1"/>
<line x1="236.8" y1="481.12" x2="240.3" y2="481.12" stroke="#b07fab" stroke-width="1"/>
<text x="242.8" y="484.82" font-size="10.5" fill="#bb93ba">0</text>
<line x1="236.8" y1="467.93" x2="238.8" y2="467.93" stroke="#b07fab" stroke-width="1"/>
<line x1="236.8" y1="454.73" x2="240.3" y2="454.73" stroke="#b07fab" stroke-width="1"/>
<text x="242.8" y="458.43" font-size="10.5" fill="#bb93ba">25</text>
<line x1="236.8" y1="441.54" x2="238.8" y2="441.54" stroke="#b07fab" stroke-width="1"/>
<line x1="236.8" y1="428.35" x2="240.3" y2="428.35" stroke="#b07fab" stroke-width="1"/>
<text x="242.8" y="432.05" font-size="10.5" fill="#bb93ba">50</text>
<line x1="236.8" y1="415.16" x2="238.8" y2="415.16" stroke="#b07fab" stroke-width="1"/>
<line x1="236.8" y1="401.97" x2="240.3" y2="401.97" stroke="#b07fab" stroke-width="1"/>
<text x="242.8" y="405.67" font-size="10.5" fill="#bb93ba">75</text>
<line x1="236.8" y1="388.77" x2="238.8" y2="388.77" stroke="#b07fab" stroke-width="1"/>
<line x1="236.8" y1="375.58" x2="240.3" y2="375.58" stroke="#b07fab" stroke-width="1"/>
<text x="242.8" y="379.28" font-size="10.5" fill="#bb93ba">100</text>
<line x1="236.8" y1="362.39" x2="238.8" y2="362.39" stroke="#b07fab" stroke-width="1"/>
<line x1="236.8" y1="349.20" x2="240.3" y2="349.20" stroke="#b07fab" stroke-width="1"/>
<text x="242.8" y="352.90" font-size="10.5" fill="#bb93ba">125</text>
<line x1="75.9" y1="507.5" x2="75.9" y2="510.5" stroke="#111" stroke-width="1"/>
<line x1="140.2" y1="507.5" x2="140.2" y2="510.5" stroke="#111" stroke-width="1"/>
<line x1="204.5" y1="507.5" x2="204.5" y2="510.5" stroke="#111" stroke-width="1"/>
<text x="75.9" y="521.7" font-size="10.4" text-anchor="middle" fill="#111">CC3-HPABP</text>
<text x="140.2" y="521.7" font-size="10.4" text-anchor="middle" fill="#111">CC4-HPABP</text>
<text x="204.5" y="521.7" font-size="10.4" text-anchor="middle" fill="#111">CC19-HPABP</text>
<text x="140.5" y="542.6" font-size="14" text-anchor="middle" fill="#111">Membrane</text>
<text transform="translate(18.4,506) rotate(-90)" font-size="15" fill="#111">Flux (10<tspan font-size="10" dy="-5.8">-3</tspan><tspan dy="5.8"> mol m</tspan><tspan font-size="10" dy="-5.8">-2</tspan><tspan dy="5.8"> h</tspan><tspan font-size="10" dy="-5.8">-1</tspan><tspan dy="5.8">)</tspan></text>
<text transform="translate(269.2,449.2) rotate(-90)" font-size="14.5" fill="#b38bb0">ee (%)</text>
<polygon points="75.80,369.90 77.71,373.77 81.98,374.39 78.89,377.40 79.62,381.66 75.80,379.65 71.98,381.66 72.71,377.40 69.62,374.39 73.89,373.77" fill="#fff" stroke="#b184b0" stroke-width="1.3"/><circle cx="75.8" cy="376.9" r="0.5" fill="#b184b0"/>
<polygon points="139.60,369.90 141.51,373.77 145.78,374.39 142.69,377.40 143.42,381.66 139.60,379.65 135.78,381.66 136.51,377.40 133.42,374.39 137.69,373.77" fill="#fff" stroke="#b184b0" stroke-width="1.3"/><circle cx="139.6" cy="376.9" r="0.5" fill="#b184b0"/>
<polygon points="204.40,474.30 206.31,478.17 210.58,478.79 207.49,481.80 208.22,486.06 204.40,484.05 200.58,486.06 201.31,481.80 198.22,478.79 202.49,478.17" fill="#fff" stroke="#b184b0" stroke-width="1.3"/><circle cx="204.4" cy="481.3" r="0.5" fill="#b184b0"/>
<rect x="172.7" y="354.7" width="23.1" height="11" fill="url(#gRh)"/>
<rect x="172.7" y="367.8" width="23.1" height="10.9" fill="url(#gSh)"/>
<polygon points="184.00,379.70 185.85,383.45 189.99,384.05 187.00,386.97 187.70,391.10 184.00,389.15 180.30,391.10 181.00,386.97 178.01,384.05 182.15,383.45" fill="#fff" stroke="#b184b0" stroke-width="1.25"/><circle cx="184" cy="386.5" r="0.5" fill="#b184b0"/>
<text x="198.0" y="363.8" font-size="10.6" fill="#111">R-PPA</text>
<text x="198.2" y="376.6" font-size="10.6" fill="#111">S-PPA</text>
<text x="198.2" y="389.4" font-size="10.6" fill="#111">ee</text>
<rect x="303.2" y="44.4" width="48.28" height="49.70" fill="url(#gRv)"/>
<rect x="303.2" y="94.1" width="89.91" height="49.40" fill="url(#gSv)"/>
<text x="305.7" y="77.8" font-size="14.3" fill="#111">R-PPA</text>
<text x="327.4" y="125.6" font-size="14.3" fill="#111">S-PPA</text>
<line x1="299.7" y1="94.1" x2="303.2" y2="94.1" stroke="#222" stroke-width="1"/>
<rect x="303.2" y="209.4" width="46.62" height="49.70" fill="url(#gRv)"/>
<rect x="303.2" y="259.1" width="81.58" height="49.40" fill="url(#gSv)"/>
<text x="305.7" y="241.0" font-size="14.3" fill="#111">R-PPA</text>
<text x="325.8" y="288.4" font-size="14.3" fill="#111">S-PPA</text>
<line x1="299.7" y1="259.1" x2="303.2" y2="259.1" stroke="#222" stroke-width="1"/>
<rect x="303.2" y="375.0" width="109.89" height="49.60" fill="url(#gRv)"/>
<rect x="303.2" y="424.6" width="114.88" height="49.40" fill="url(#gSv)"/>
<text x="339.4" y="406.8" font-size="14.3" fill="#111">R-PPA</text>
<text x="339.2" y="457.1" font-size="14.3" fill="#111">S-PPA</text>
<line x1="299.7" y1="424.6" x2="303.2" y2="424.6" stroke="#222" stroke-width="1"/>
<text transform="translate(354.8,38.0) rotate(90)" font-size="14" fill="#111">-0.29 ev</text>
<text transform="translate(396.4,91.6) rotate(90)" font-size="14" fill="#111">-0.54 ev</text>
<text transform="translate(357.5,203.9) rotate(90)" font-size="14" fill="#111">-0.28 ev</text>
<text transform="translate(390.8,256.8) rotate(90)" font-size="14" fill="#111">-0.49 ev</text>
<text transform="translate(418.4,370.8) rotate(90)" font-size="14" fill="#111">-0.66 ev</text>
<text transform="translate(423.0,427.3) rotate(90)" font-size="14" fill="#111">-0.69 ev</text>
<text transform="translate(282.5,91.9) rotate(90)" font-size="14.4" text-anchor="middle" fill="#111">CC3-R</text>
<text transform="translate(282.5,257.2) rotate(90)" font-size="14.4" text-anchor="middle" fill="#111">CC4-R</text>
<text transform="translate(282.5,422.3) rotate(90)" font-size="14.4" text-anchor="middle" fill="#111">CC19-R</text>
<line x1="303.2" y1="11" x2="303.2" y2="507.20000000000005" stroke="#444" stroke-width="1.3"/>
<line x1="303.2" y1="506.6" x2="676" y2="506.6" stroke="#111" stroke-width="1.3"/>
<path d="M680.5,506.6 L672.5,503.6 L674.5,506.6 L672.5,509.6 Z" fill="#111"/>
<line x1="303.20" y1="506.6" x2="303.20" y2="510.6" stroke="#222" stroke-width="1"/>
<text x="303.20" y="525.5" font-size="14" text-anchor="middle" fill="#111">0.0</text>
<line x1="328.18" y1="506.6" x2="328.18" y2="508.6" stroke="#222" stroke-width="1"/>
<line x1="353.15" y1="506.6" x2="353.15" y2="510.6" stroke="#222" stroke-width="1"/>
<text x="353.15" y="525.5" font-size="14" text-anchor="middle" fill="#111">-0.3</text>
<line x1="378.12" y1="506.6" x2="378.12" y2="508.6" stroke="#222" stroke-width="1"/>
<line x1="403.10" y1="506.6" x2="403.10" y2="510.6" stroke="#222" stroke-width="1"/>
<text x="403.10" y="525.5" font-size="14" text-anchor="middle" fill="#111">-0.6</text>
<line x1="428.07" y1="506.6" x2="428.07" y2="508.6" stroke="#222" stroke-width="1"/>
<line x1="453.05" y1="506.6" x2="453.05" y2="510.6" stroke="#222" stroke-width="1"/>
<text x="453.05" y="525.5" font-size="14" text-anchor="middle" fill="#111">-0.9</text>
<line x1="478.02" y1="506.6" x2="478.02" y2="508.6" stroke="#222" stroke-width="1"/>
<line x1="503.00" y1="506.6" x2="503.00" y2="510.6" stroke="#222" stroke-width="1"/>
<text x="503.00" y="525.5" font-size="14" text-anchor="middle" fill="#111">-1.2</text>
<line x1="527.97" y1="506.6" x2="527.97" y2="508.6" stroke="#222" stroke-width="1"/>
<line x1="552.95" y1="506.6" x2="552.95" y2="510.6" stroke="#222" stroke-width="1"/>
<text x="552.95" y="525.5" font-size="14" text-anchor="middle" fill="#111">-1.5</text>
<line x1="577.92" y1="506.6" x2="577.92" y2="508.6" stroke="#222" stroke-width="1"/>
<line x1="602.90" y1="506.6" x2="602.90" y2="510.6" stroke="#222" stroke-width="1"/>
<text x="602.90" y="525.5" font-size="14" text-anchor="middle" fill="#111">-1.8</text>
<text x="426.0" y="545.8" font-size="14.5" font-style="italic" fill="#222">&#916;</text>
<text x="439.0" y="545.9" font-size="15" fill="#111">E</text>
<text x="454.0" y="545.9" font-size="15.3" fill="#111">(ev)</text>
<text x="566" y="14.9" font-size="15" font-weight="bold" text-anchor="middle" fill="#111">i</text>
<text x="565.8" y="184.3" font-size="15" font-weight="bold" text-anchor="middle" letter-spacing="-1" fill="#111">ii</text>
<text x="565.5" y="354" font-size="15" font-weight="bold" text-anchor="middle" letter-spacing="-1" fill="#111">iii</text>
<text x="455.3" y="154.5" font-size="13" fill="#111">R-PPA@CC3-R</text>
<text x="578.5" y="154.5" font-size="13" fill="#111">S-PPA@CC3-R</text>
<text x="455.0" y="322.2" font-size="13" fill="#111">R-PPA@CC4-R</text>
<text x="578.5" y="322.2" font-size="13" fill="#111">S-PPA@CC4-R</text>
<text x="452.3" y="486.8" font-size="13" fill="#111">R-PPA@CC19-R</text>
<text x="575.0" y="486.8" font-size="13" fill="#111">S-PPA@CC19-R</text>
<path d="M496.0,25.4 l-2.2,-4.4 M506.0,23.6 l0.0,-5.0 M506.0,23.6 l3.9,-2.8 M512.0,31.3 l5.0,-1.1 M512.0,31.3 l2.2,3.9 M491.2,33.1 l-5.0,1.1 M491.2,33.1 l-2.2,-3.9 M496.0,25.4 l2.2,4.4 M506.6,38.4 l2.8,3.3 M496.6,41.4 l1.7,3.9 M455.6,94.3 l-2.2,-4.4 M450.8,103.3 l-5.0,0.0 M450.8,103.3 l-3.3,-3.3 M457.4,111.3 l-2.2,5.0 M466.0,112.3 l4.4,4.4 M463.4,95.5 l-1.7,-3.9 M470.5,103.6 l1.7,-4.4 M457.4,111.3 l3.3,-3.3 M466.0,112.3 l-2.2,4.4 M549.2,91.9 l2.2,-5.0 M553.9,99.6 l5.0,0.0 M553.9,99.6 l3.3,3.3 M548.0,109.1 l2.2,5.0 M536.8,109.1 l-2.2,5.0 M537.4,91.3 l-2.2,3.9 M549.2,91.9 l-1.1,4.4 M536.8,109.1 l3.3,-3.3 M452.3,47.3 l-2.2,-4.4 M452.3,47.3 l2.8,-3.9 M447.7,48.6 l-5.0,0.0 M447.7,48.6 l-3.3,-3.3 M449.6,58.6 l-3.3,3.3 M449.6,58.6 l1.1,5.0 M447.7,48.6 l-3.3,3.3 M552.5,48.5 l3.3,-3.9 M552.5,48.5 l3.3,3.3 M552.5,48.5 l5.0,0.0 M541.0,43.6 l-1.1,-5.0 M541.0,43.6 l3.3,-3.9 M540.5,59.5 l0.0,5.0 M540.5,59.5 l3.3,3.9 M502.3,132.8 l-3.3,3.3 M502.3,132.8 l3.3,3.3 M494.5,128.5 l-5.0,1.1 M494.5,128.5 l-3.3,-3.3 M511.5,127.2 l5.0,1.7 M511.5,127.2 l3.3,-3.3 M469.5,50.8 l-1.1,-5.0 M475.5,50.2 l0.0,-5.0 M481.5,49.6 l1.1,-5.0 M462.3,62.3 l-5.0,2.2 M466.0,71.6 l-4.4,3.3 M486.9,52.8 l1.7,4.4 M478.0,69.2 l2.2,4.4 M522.5,50.1 l-1.7,-5.0 M526.9,49.0 l-1.1,-5.0 M537.8,68.7 l4.4,2.2 M536.7,78.6 l3.9,2.8 M531.2,77.5 l-3.3,3.3 M515.4,46.9 l0.0,-5.0 M486.8,105.9 l-4.4,3.3 M490.5,111.2 l-4.4,2.8 M513.3,111.9 l3.9,2.8 M522.4,106.8 l3.9,2.8 M496.0,112.0 l-3.3,3.3 M464.1,82.8 l-3.9,2.2 M486.8,105.5 l1.1,-3.9 M452.3,47.3 l-4.4,-1.7 M449.6,58.6 l-5.0,0.6 M541.0,43.6 l-4.4,-2.2 M552.5,48.5 l1.1,-5.0 M540.5,59.5 l-3.9,3.3 M502.3,132.8 l0.0,5.0 M494.5,128.5 l-2.2,4.4 M511.5,127.2 l1.7,4.4 M475.5,50.2 l-3.3,-3.9 M523.5,66.0 l-4.4,1.1 M526.0,73.0 l-4.4,2.2 M500.0,104.2 l0.0,-4.4 M508.0,104.4 l0.0,-4.4 M516.0,105.0 l1.1,-4.4 " stroke="#979797" stroke-width="2.7" stroke-linecap="round" fill="none"/>
<path d="M496.0,25.4 l-0.9,-1.8 M506.0,23.6 l0.0,-2.0 M506.0,23.6 l1.6,-1.1 M512.0,31.3 l2.0,-0.5 M512.0,31.3 l0.9,1.6 M491.2,33.1 l-2.0,0.5 M491.2,33.1 l-0.9,-1.6 M496.0,25.4 l0.9,1.8 M506.6,38.4 l1.1,1.4 M496.6,41.4 l0.7,1.6 M455.6,94.3 l-0.9,-1.8 M450.8,103.3 l-2.0,0.0 M450.8,103.3 l-1.4,-1.4 M457.4,111.3 l-0.9,2.0 M466.0,112.3 l1.8,1.8 M463.4,95.5 l-0.7,-1.6 M470.5,103.6 l0.7,-1.8 M457.4,111.3 l1.4,-1.4 M466.0,112.3 l-0.9,1.8 M549.2,91.9 l0.9,-2.0 M553.9,99.6 l2.0,0.0 M553.9,99.6 l1.4,1.4 M548.0,109.1 l0.9,2.0 M536.8,109.1 l-0.9,2.0 M537.4,91.3 l-0.9,1.6 M549.2,91.9 l-0.5,1.8 M536.8,109.1 l1.4,-1.4 M452.3,47.3 l-0.9,-1.8 M452.3,47.3 l1.1,-1.6 M447.7,48.6 l-2.0,0.0 M447.7,48.6 l-1.4,-1.4 M449.6,58.6 l-1.4,1.4 M449.6,58.6 l0.5,2.0 M447.7,48.6 l-1.4,1.4 M552.5,48.5 l1.4,-1.6 M552.5,48.5 l1.4,1.4 M552.5,48.5 l2.0,0.0 M541.0,43.6 l-0.5,-2.0 M541.0,43.6 l1.4,-1.6 M540.5,59.5 l0.0,2.0 M540.5,59.5 l1.4,1.6 M502.3,132.8 l-1.4,1.4 M502.3,132.8 l1.4,1.4 M494.5,128.5 l-2.0,0.5 M494.5,128.5 l-1.4,-1.4 M511.5,127.2 l2.0,0.7 M511.5,127.2 l1.4,-1.4 M469.5,50.8 l-0.5,-2.0 M475.5,50.2 l0.0,-2.0 M481.5,49.6 l0.5,-2.0 M462.3,62.3 l-2.0,0.9 M466.0,71.6 l-1.8,1.4 M486.9,52.8 l0.7,1.8 M478.0,69.2 l0.9,1.8 M522.5,50.1 l-0.7,-2.0 M526.9,49.0 l-0.5,-2.0 M537.8,68.7 l1.8,0.9 M536.7,78.6 l1.6,1.1 M531.2,77.5 l-1.4,1.4 M515.4,46.9 l0.0,-2.0 M486.8,105.9 l-1.8,1.4 M490.5,111.2 l-1.8,1.1 M513.3,111.9 l1.6,1.1 M522.4,106.8 l1.6,1.1 M496.0,112.0 l-1.4,1.4 M464.1,82.8 l-1.6,0.9 M486.8,105.5 l0.5,-1.6 M452.3,47.3 l-1.8,-0.7 M449.6,58.6 l-2.0,0.2 M541.0,43.6 l-1.8,-0.9 M552.5,48.5 l0.5,-2.0 M540.5,59.5 l-1.6,1.4 M502.3,132.8 l0.0,2.0 M494.5,128.5 l-0.9,1.8 M511.5,127.2 l0.7,1.8 M475.5,50.2 l-1.4,-1.6 M523.5,66.0 l-1.8,0.5 M526.0,73.0 l-1.8,0.9 M500.0,104.2 l0.0,-1.8 M508.0,104.4 l0.0,-1.8 M516.0,105.0 l0.5,-1.8 " stroke="#585d98" stroke-width="2.7" stroke-linecap="round" fill="none"/>
<path d="M496.0,25.4 l-0.9,-1.8 M506.0,23.6 l0.0,-2.0 M506.0,23.6 l1.6,-1.1 M512.0,31.3 l2.0,-0.5 M512.0,31.3 l0.9,1.6 M491.2,33.1 l-2.0,0.5 M491.2,33.1 l-0.9,-1.6 M496.0,25.4 l0.9,1.8 M506.6,38.4 l1.1,1.4 M496.6,41.4 l0.7,1.6 M455.6,94.3 l-0.9,-1.8 M450.8,103.3 l-2.0,0.0 M450.8,103.3 l-1.4,-1.4 M457.4,111.3 l-0.9,2.0 M466.0,112.3 l1.8,1.8 M463.4,95.5 l-0.7,-1.6 M470.5,103.6 l0.7,-1.8 M457.4,111.3 l1.4,-1.4 M466.0,112.3 l-0.9,1.8 M549.2,91.9 l0.9,-2.0 M553.9,99.6 l2.0,0.0 M553.9,99.6 l1.4,1.4 M548.0,109.1 l0.9,2.0 M536.8,109.1 l-0.9,2.0 M537.4,91.3 l-0.9,1.6 M549.2,91.9 l-0.5,1.8 M536.8,109.1 l1.4,-1.4 M452.3,47.3 l-0.9,-1.8 M452.3,47.3 l1.1,-1.6 M447.7,48.6 l-2.0,0.0 M447.7,48.6 l-1.4,-1.4 M449.6,58.6 l-1.4,1.4 M449.6,58.6 l0.5,2.0 M447.7,48.6 l-1.4,1.4 M552.5,48.5 l1.4,-1.6 M552.5,48.5 l1.4,1.4 M552.5,48.5 l2.0,0.0 M541.0,43.6 l-0.5,-2.0 M541.0,43.6 l1.4,-1.6 M540.5,59.5 l0.0,2.0 M540.5,59.5 l1.4,1.6 M502.3,132.8 l-1.4,1.4 M502.3,132.8 l1.4,1.4 M494.5,128.5 l-2.0,0.5 M494.5,128.5 l-1.4,-1.4 M511.5,127.2 l2.0,0.7 M511.5,127.2 l1.4,-1.4 M469.5,50.8 l-0.5,-2.0 M475.5,50.2 l0.0,-2.0 M481.5,49.6 l0.5,-2.0 M462.3,62.3 l-2.0,0.9 M466.0,71.6 l-1.8,1.4 M486.9,52.8 l0.7,1.8 M478.0,69.2 l0.9,1.8 M522.5,50.1 l-0.7,-2.0 M526.9,49.0 l-0.5,-2.0 M537.8,68.7 l1.8,0.9 M536.7,78.6 l1.6,1.1 M531.2,77.5 l-1.4,1.4 M515.4,46.9 l0.0,-2.0 M486.8,105.9 l-1.8,1.4 M490.5,111.2 l-1.8,1.1 M513.3,111.9 l1.6,1.1 M522.4,106.8 l1.6,1.1 M496.0,112.0 l-1.4,1.4 M464.1,82.8 l-1.6,0.9 M486.8,105.5 l0.5,-1.6 M452.3,47.3 l-1.8,-0.7 M449.6,58.6 l-2.0,0.2 M541.0,43.6 l-1.8,-0.9 M552.5,48.5 l0.5,-2.0 M540.5,59.5 l-1.6,1.4 M502.3,132.8 l0.0,2.0 M494.5,128.5 l-0.9,1.8 M511.5,127.2 l0.7,1.8 M475.5,50.2 l-1.4,-1.6 M523.5,66.0 l-1.8,0.5 M526.0,73.0 l-1.8,0.9 M500.0,104.2 l0.0,-1.8 M508.0,104.4 l0.0,-1.8 M516.0,105.0 l0.5,-1.8 " stroke="#8388c2" stroke-width="1.5" stroke-linecap="round" fill="none"/>
<path d="M495.0,23.4 l-1.2,-2.4 M506.0,21.3 l0.0,-2.7 M507.8,22.3 l2.1,-1.5 M514.3,30.8 l2.7,-0.6 M513.0,33.0 l1.2,2.1 M488.9,33.6 l-2.7,0.6 M490.2,31.4 l-1.2,-2.1 M497.0,27.4 l1.2,2.4 M507.9,39.9 l1.5,1.8 M497.3,43.2 l0.9,2.1 M454.6,92.3 l-1.2,-2.4 M448.5,103.3 l-2.7,0.0 M449.3,101.8 l-1.8,-1.8 M456.4,113.6 l-1.2,2.7 M468.0,114.3 l2.4,2.4 M462.6,93.8 l-0.9,-2.1 M471.2,101.6 l0.9,-2.4 M458.9,109.8 l1.8,-1.8 M465.0,114.3 l-1.2,2.4 M550.2,89.6 l1.2,-2.7 M556.2,99.6 l2.7,0.0 M555.4,101.1 l1.8,1.8 M549.0,111.3 l1.2,2.7 M535.8,111.4 l-1.2,2.7 M536.4,93.0 l-1.2,2.1 M548.7,93.9 l-0.6,2.4 M538.3,107.6 l1.8,-1.8 M451.3,45.3 l-1.2,-2.4 M453.5,45.6 l1.5,-2.1 M445.4,48.6 l-2.7,0.0 M446.2,47.1 l-1.8,-1.8 M448.1,60.1 l-1.8,1.8 M450.1,60.9 l0.6,2.7 M446.2,50.1 l-1.8,1.8 M554.0,46.7 l1.8,-2.1 M554.0,50.0 l1.8,1.8 M554.8,48.5 l2.7,0.0 M540.5,41.3 l-0.6,-2.7 M542.5,41.8 l1.8,-2.1 M540.5,61.7 l0.0,2.7 M542.0,61.2 l1.8,2.1 M500.8,134.3 l-1.8,1.8 M503.8,134.3 l1.8,1.8 M492.3,129.0 l-2.7,0.6 M493.0,127.0 l-1.8,-1.8 M513.8,128.0 l2.7,0.9 M513.0,125.7 l1.8,-1.8 M469.0,48.6 l-0.6,-2.7 M475.5,48.0 l0.0,-2.7 M482.0,47.4 l0.6,-2.7 M460.0,63.3 l-2.7,1.2 M464.0,73.1 l-2.4,1.8 M487.6,54.8 l0.9,2.4 M479.0,71.2 l1.2,2.4 M521.8,47.8 l-0.9,-2.7 M526.4,46.7 l-0.6,-2.7 M539.8,69.7 l2.4,1.2 M538.5,79.8 l2.1,1.5 M529.7,79.0 l-1.8,1.8 M515.4,44.6 l0.0,-2.7 M484.8,107.4 l-2.4,1.8 M488.5,112.5 l-2.4,1.5 M515.1,113.2 l2.1,1.5 M524.2,108.1 l2.1,1.5 M494.5,113.5 l-1.8,1.8 M462.3,83.8 l-2.1,1.2 M487.3,103.8 l0.6,-2.1 M450.3,46.6 l-2.4,-0.9 M447.3,58.9 l-2.7,0.3 M539.0,42.6 l-2.4,-1.2 M553.0,46.2 l0.6,-2.7 M538.8,61.0 l-2.1,1.8 M502.3,135.1 l0.0,2.7 M493.5,130.5 l-1.2,2.4 M512.3,129.2 l0.9,2.4 M474.0,48.5 l-1.8,-2.1 M521.5,66.5 l-2.4,0.6 M524.0,74.0 l-2.4,1.2 M500.0,102.2 l0.0,-2.4 M508.0,102.4 l0.0,-2.4 M516.5,103.0 l0.6,-2.4 " stroke="#f5f5f5" stroke-width="1.5" stroke-linecap="round" fill="none"/>
<path d="M479.0,72.0 l-4.0,3.0 M479.0,72.0 l-4.5,-0.5 M490.5,75.2 l-2.0,4.5 M507.0,69.5 l1.0,-4.5 M523.0,63.0 l2.0,-4.0 M502.0,103.0 l-4.0,1.0 M479.0,72.0 l-2.0,-4.0 M496.0,60.0 l-1.0,-4.5 M496.0,60.0 l3.0,-3.0 M517.3,61.9 l-2.0,-4.5 M518.5,82.3 l4.5,0.0 M518.5,82.3 l1.0,4.0 M505.8,97.5 l4.5,0.5 M493.0,84.8 l-4.0,2.5 M493.0,84.8 l-2.0,4.0 M509.6,79.7 l2.0,-4.0 M503.3,87.4 l-3.0,3.0 " stroke="#a3a3a3" stroke-width="2.3" stroke-linecap="round" fill="none"/>
<path d="M490.5,75.2 L497.5,67.0 L507.0,69.5 L509.6,79.7 L503.3,87.4 L493.0,84.8 L490.5,75.2 M479.0,71.2 L490.5,74.4 M478.6,72.9 L490.1,76.1 M507.0,69.5 L517.3,61.9 L523.0,63.0 M509.6,79.7 L518.5,82.3 M503.3,87.4 L505.8,97.5 L502.0,103.0 M497.5,67.0 L496.0,60.0" stroke="#a2a4c4" stroke-width="3.4" stroke-linecap="round" stroke-linejoin="round" fill="none"/>
<path d="M490.5,75.2 L497.5,67.0 L507.0,69.5 L509.6,79.7 L503.3,87.4 L493.0,84.8 L490.5,75.2 M479.0,71.2 L490.5,74.4 M478.6,72.9 L490.1,76.1 M507.0,69.5 L517.3,61.9 L523.0,63.0 M509.6,79.7 L518.5,82.3 M503.3,87.4 L505.8,97.5 L502.0,103.0 M497.5,67.0 L496.0,60.0" stroke="#dedef0" stroke-width="2.1" stroke-linecap="round" stroke-linejoin="round" fill="none"/>
<path d="M479.0,72.0 l-4.0,3.0 M479.0,72.0 l-4.5,-0.5 M490.5,75.2 l-2.0,4.5 M507.0,69.5 l1.0,-4.5 M523.0,63.0 l2.0,-4.0 M502.0,103.0 l-4.0,1.0 M479.0,72.0 l-2.0,-4.0 M496.0,60.0 l-1.0,-4.5 M496.0,60.0 l3.0,-3.0 M517.3,61.9 l-2.0,-4.5 M518.5,82.3 l4.5,0.0 M518.5,82.3 l1.0,4.0 M505.8,97.5 l4.5,0.5 M493.0,84.8 l-4.0,2.5 M493.0,84.8 l-2.0,4.0 M509.6,79.7 l2.0,-4.0 M503.3,87.4 l-3.0,3.0 " stroke="#f5f5f5" stroke-width="1.2" stroke-linecap="round" fill="none"/>
<circle cx="523.5" cy="63.2" r="1.5" fill="#eab0b0" stroke="#c87878" stroke-width="0.6"/>
<circle cx="502.0" cy="104.0" r="1.5" fill="#eab0b0" stroke="#c87878" stroke-width="0.6"/>
<path d="M496.0,25.4 L506.0,23.6 L512.0,31.3 L506.6,38.4 L496.6,41.4 L491.2,33.1 L496.0,25.4 M455.6,94.3 L463.4,95.5 L470.5,103.6 L466.0,112.3 L457.4,111.3 L450.8,103.3 L455.6,94.3 M537.1,92.3 L548.6,92.3 L551.9,99.7 L547.8,109.5 L536.7,109.5 L533.9,102.1 L537.1,92.3 M496.6,41.4 L491.0,46.8 L486.9,52.8 L480.5,58.2 M469.5,50.8 L481.5,49.6 L486.2,56.5 L478.0,69.2 L466.0,71.6 L462.3,62.3 L469.5,50.8 M479.2,53.2 L468.5,67.8 M474.5,51.5 L465.5,64.5 M466.0,71.6 L464.1,82.8 L467.8,86.4 L463.4,95.5 M463.5,58.0 L454.1,52.0 M463.0,60.8 L454.1,55.0 M454.1,53.5 L452.3,47.3 M454.1,53.5 L447.7,48.6 M454.1,53.5 L449.6,58.6 M470.5,103.6 L477.7,105.5 L486.8,105.5 M486.8,105.9 L522.4,106.8 M490.5,111.2 L513.3,111.9 M492.5,108.6 L518.5,109.4 M486.8,105.9 L490.5,111.2 M513.3,111.9 L522.4,106.8 M522.4,106.8 L524.2,102.7 L533.8,102.0 M501.5,112.0 L502.3,126.4 M504.5,112.0 L505.0,126.0 M503.5,126.4 L502.3,132.8 M503.5,126.4 L494.5,128.5 M503.5,126.4 L511.5,127.2 M537.4,91.3 L535.6,84.8 L536.7,78.6 M522.5,50.1 L531.2,77.5 M526.9,49.0 L536.7,78.6 M532.3,56.7 L537.8,68.7 M522.5,50.1 L526.9,49.0 L532.3,56.7 M531.2,77.5 L536.7,78.6 L537.8,68.7 M522.5,50.1 L515.4,46.9 L512.1,45.8 L506.6,38.4 M533.4,56.7 L545.4,49.0 M534.5,59.5 L545.8,52.2 M545.6,50.6 L552.5,48.5 M545.6,50.6 L541.0,43.6 M545.6,50.6 L540.5,59.5" stroke="#585d98" stroke-width="3.2" stroke-linecap="round" stroke-linejoin="round" fill="none"/>
<path d="M496.0,25.4 L506.0,23.6 L512.0,31.3 L506.6,38.4 L496.6,41.4 L491.2,33.1 L496.0,25.4 M455.6,94.3 L463.4,95.5 L470.5,103.6 L466.0,112.3 L457.4,111.3 L450.8,103.3 L455.6,94.3 M537.1,92.3 L548.6,92.3 L551.9,99.7 L547.8,109.5 L536.7,109.5 L533.9,102.1 L537.1,92.3 M496.6,41.4 L491.0,46.8 L486.9,52.8 L480.5,58.2 M469.5,50.8 L481.5,49.6 L486.2,56.5 L478.0,69.2 L466.0,71.6 L462.3,62.3 L469.5,50.8 M479.2,53.2 L468.5,67.8 M474.5,51.5 L465.5,64.5 M466.0,71.6 L464.1,82.8 L467.8,86.4 L463.4,95.5 M463.5,58.0 L454.1,52.0 M463.0,60.8 L454.1,55.0 M454.1,53.5 L452.3,47.3 M454.1,53.5 L447.7,48.6 M454.1,53.5 L449.6,58.6 M470.5,103.6 L477.7,105.5 L486.8,105.5 M486.8,105.9 L522.4,106.8 M490.5,111.2 L513.3,111.9 M492.5,108.6 L518.5,109.4 M486.8,105.9 L490.5,111.2 M513.3,111.9 L522.4,106.8 M522.4,106.8 L524.2,102.7 L533.8,102.0 M501.5,112.0 L502.3,126.4 M504.5,112.0 L505.0,126.0 M503.5,126.4 L502.3,132.8 M503.5,126.4 L494.5,128.5 M503.5,126.4 L511.5,127.2 M537.4,91.3 L535.6,84.8 L536.7,78.6 M522.5,50.1 L531.2,77.5 M526.9,49.0 L536.7,78.6 M532.3,56.7 L537.8,68.7 M522.5,50.1 L526.9,49.0 L532.3,56.7 M531.2,77.5 L536.7,78.6 L537.8,68.7 M522.5,50.1 L515.4,46.9 L512.1,45.8 L506.6,38.4 M533.4,56.7 L545.4,49.0 M534.5,59.5 L545.8,52.2 M545.6,50.6 L552.5,48.5 M545.6,50.6 L541.0,43.6 M545.6,50.6 L540.5,59.5" stroke="#8388c2" stroke-width="1.9" stroke-linecap="round" stroke-linejoin="round" fill="none"/>
<path d="M492.1,45.4 L489.9,48.2 M468.5,84.8 L467.1,88.1 M475.9,105.5 L479.5,105.5 M523.7,104.4 L524.7,101.0 M536.0,86.6 L535.3,83.0 M513.2,47.2 L511.0,44.4 M464.1,58.6 L467.5,60.0 M472.4,62.7 L475.8,63.7 M531.9,57.6 L535.0,55.8 M502.8,115.1 L502.8,118.7 " stroke="#b04848" stroke-width="3.0" stroke-linecap="round" fill="none"/>
<path d="M492.1,45.4 L489.9,48.2 M468.5,84.8 L467.1,88.1 M475.9,105.5 L479.5,105.5 M523.7,104.4 L524.7,101.0 M536.0,86.6 L535.3,83.0 M513.2,47.2 L511.0,44.4 M464.1,58.6 L467.5,60.0 M472.4,62.7 L475.8,63.7 M531.9,57.6 L535.0,55.8 M502.8,115.1 L502.8,118.7 " stroke="#ee8a8a" stroke-width="1.7" stroke-linecap="round" fill="none"/>
<path d="M515.5,89.0 l2.5,3.5 M489.6,84.0 l-3.5,2.0 M499.0,66.5 l0.0,-4.0 M503.0,68.0 l3.0,-3.0 " stroke="#8f8f8f" stroke-width="2.4" stroke-linecap="round" fill="none"/>
<path d="M516.5,90.4 l1.5,2.1 M488.2,84.8 l-2.1,1.2 M499.0,64.9 l0.0,-2.4 M504.2,66.8 l1.8,-1.8 " stroke="#f2f2f2" stroke-width="1.3" stroke-linecap="round" fill="none"/>
<path d="M494.0,70.0 L499.0,66.5 L503.0,68.0 L502.0,74.0 L497.0,79.0 L493.0,77.0 Z" fill="#c8221a"/>
<path d="M494.0,70.0 L499.0,66.5 L503.0,68.0 L502.0,74.0 L497.0,79.0 L493.0,77.0 L494.0,70.0 M494.0,70.0 L502.0,74.0 M497.0,79.0 L503.0,68.0 M500.0,77.0 L505.6,87.4 L502.0,95.0 M505.6,87.4 L514.5,87.4 M493.0,77.0 L489.6,83.8" stroke="#7e0c08" stroke-width="3.2" stroke-linecap="round" stroke-linejoin="round" fill="none"/>
<path d="M494.0,70.0 L499.0,66.5 L503.0,68.0 L502.0,74.0 L497.0,79.0 L493.0,77.0 L494.0,70.0 M494.0,70.0 L502.0,74.0 M497.0,79.0 L503.0,68.0 M500.0,77.0 L505.6,87.4 L502.0,95.0 M505.6,87.4 L514.5,87.4 M493.0,77.0 L489.6,83.8" stroke="#c8221a" stroke-width="1.9" stroke-linecap="round" stroke-linejoin="round" fill="none"/>
<circle cx="502.0" cy="95.5" r="2.5" fill="#e01810" stroke="#8a0a05" stroke-width="0.7"/>
<circle cx="514.5" cy="87.4" r="2.0" fill="#e01810" stroke="#8a0a05" stroke-width="0.7"/>
<circle cx="489.6" cy="84.0" r="1.8" fill="#e01810" stroke="#8a0a05" stroke-width="0.7"/>
<path d="M518.5,93.5 L523.5,101.0" stroke="#ee2a26" stroke-width="1" stroke-dasharray="1.2,0.9"/>
<path d="M616.7,26.5 l-2.2,-4.4 M626.7,24.6 l0.0,-5.0 M626.7,24.6 l3.9,-2.8 M633.1,32.2 l5.0,-1.1 M633.1,32.2 l2.2,3.9 M612.3,34.2 l-5.0,1.1 M612.3,34.2 l-2.2,-3.9 M616.7,26.5 l2.2,4.4 M628.0,39.3 l2.8,3.3 M618.1,42.4 l1.7,3.9 M579.4,95.4 l-2.2,-4.4 M575.0,104.4 l-5.0,0.0 M575.0,104.4 l-3.3,-3.3 M582.0,112.2 l-2.2,5.0 M590.8,113.1 l4.4,4.4 M587.3,96.4 l-1.7,-3.9 M594.9,104.4 l1.7,-4.4 M582.0,112.2 l3.3,-3.3 M590.8,113.1 l-2.2,4.4 M673.6,91.7 l2.2,-5.0 M678.8,99.3 l5.0,0.0 M678.8,99.3 l3.3,3.3 M673.3,108.8 l2.2,5.0 M662.0,108.9 l-2.2,5.0 M661.7,91.3 l-2.2,3.9 M673.6,91.7 l-1.1,4.4 M662.0,108.9 l3.3,-3.3 M573.7,48.8 l-2.2,-4.4 M573.7,48.8 l2.8,-3.9 M569.2,50.2 l-5.0,0.0 M569.2,50.2 l-3.3,-3.3 M571.6,60.1 l-3.3,3.3 M571.6,60.1 l1.1,5.0 M569.2,50.2 l-3.3,3.3 M674.8,48.6 l3.3,-3.9 M674.8,48.6 l3.3,3.3 M674.8,48.6 l5.0,0.0 M663.0,43.9 l-1.1,-5.0 M663.0,43.9 l3.3,-3.9 M663.3,59.7 l0.0,5.0 M663.3,59.7 l3.3,3.9 M628.4,132.9 l-3.3,3.3 M628.4,132.9 l3.3,3.3 M620.3,128.7 l-5.0,1.1 M620.3,128.7 l-3.3,-3.3 M637.4,127.2 l5.0,1.7 M637.4,127.2 l3.3,-3.3 M591.3,52.1 l-1.1,-5.0 M597.3,51.4 l0.0,-5.0 M603.3,50.7 l1.1,-5.0 M584.6,63.6 l-5.0,2.2 M588.8,72.7 l-4.4,3.3 M608.9,53.8 l1.7,4.4 M600.7,70.2 l2.2,4.4 M644.7,50.6 l-1.7,-5.0 M649.0,49.5 l-1.1,-5.0 M661.0,68.9 l4.4,2.2 M660.4,78.7 l3.9,2.8 M654.8,77.7 l-3.3,3.3 M637.3,47.6 l0.0,-5.0 M611.4,106.4 l-4.4,3.3 M615.4,111.6 l-4.4,2.8 M638.4,112.0 l3.9,2.8 M647.4,106.8 l3.9,2.8 M621.0,112.3 l-3.3,3.3 M587.4,83.9 l-3.9,2.2 M611.4,106.0 l1.1,-3.9 M573.7,48.8 l-4.4,-1.7 M571.6,60.1 l-5.0,0.6 M663.0,43.9 l-4.4,-2.2 M674.8,48.6 l1.1,-5.0 M663.3,59.7 l-3.9,3.3 M628.4,132.9 l0.0,5.0 M620.3,128.7 l-2.2,4.4 M637.4,127.2 l1.7,4.4 M597.3,51.4 l-3.3,-3.9 M646.5,66.4 l-4.4,1.1 M649.3,73.3 l-4.4,2.2 M624.6,104.6 l0.0,-4.4 M632.7,104.6 l0.0,-4.4 M640.8,105.1 l1.1,-4.4 " stroke="#979797" stroke-width="2.7" stroke-linecap="round" fill="none"/>
<path d="M616.7,26.5 l-0.9,-1.8 M626.7,24.6 l0.0,-2.0 M626.7,24.6 l1.6,-1.1 M633.1,32.2 l2.0,-0.5 M633.1,32.2 l0.9,1.6 M612.3,34.2 l-2.0,0.5 M612.3,34.2 l-0.9,-1.6 M616.7,26.5 l0.9,1.8 M628.0,39.3 l1.1,1.4 M618.1,42.4 l0.7,1.6 M579.4,95.4 l-0.9,-1.8 M575.0,104.4 l-2.0,0.0 M575.0,104.4 l-1.4,-1.4 M582.0,112.2 l-0.9,2.0 M590.8,113.1 l1.8,1.8 M587.3,96.4 l-0.7,-1.6 M594.9,104.4 l0.7,-1.8 M582.0,112.2 l1.4,-1.4 M590.8,113.1 l-0.9,1.8 M673.6,91.7 l0.9,-2.0 M678.8,99.3 l2.0,0.0 M678.8,99.3 l1.4,1.4 M673.3,108.8 l0.9,2.0 M662.0,108.9 l-0.9,2.0 M661.7,91.3 l-0.9,1.6 M673.6,91.7 l-0.5,1.8 M662.0,108.9 l1.4,-1.4 M573.7,48.8 l-0.9,-1.8 M573.7,48.8 l1.1,-1.6 M569.2,50.2 l-2.0,0.0 M569.2,50.2 l-1.4,-1.4 M571.6,60.1 l-1.4,1.4 M571.6,60.1 l0.5,2.0 M569.2,50.2 l-1.4,1.4 M674.8,48.6 l1.4,-1.6 M674.8,48.6 l1.4,1.4 M674.8,48.6 l2.0,0.0 M663.0,43.9 l-0.5,-2.0 M663.0,43.9 l1.4,-1.6 M663.3,59.7 l0.0,2.0 M663.3,59.7 l1.4,1.6 M628.4,132.9 l-1.4,1.4 M628.4,132.9 l1.4,1.4 M620.3,128.7 l-2.0,0.5 M620.3,128.7 l-1.4,-1.4 M637.4,127.2 l2.0,0.7 M637.4,127.2 l1.4,-1.4 M591.3,52.1 l-0.5,-2.0 M597.3,51.4 l0.0,-2.0 M603.3,50.7 l0.5,-2.0 M584.6,63.6 l-2.0,0.9 M588.8,72.7 l-1.8,1.4 M608.9,53.8 l0.7,1.8 M600.7,70.2 l0.9,1.8 M644.7,50.6 l-0.7,-2.0 M649.0,49.5 l-0.5,-2.0 M661.0,68.9 l1.8,0.9 M660.4,78.7 l1.6,1.1 M654.8,77.7 l-1.4,1.4 M637.3,47.6 l0.0,-2.0 M611.4,106.4 l-1.8,1.4 M615.4,111.6 l-1.8,1.1 M638.4,112.0 l1.6,1.1 M647.4,106.8 l1.6,1.1 M621.0,112.3 l-1.4,1.4 M587.4,83.9 l-1.6,0.9 M611.4,106.0 l0.5,-1.6 M573.7,48.8 l-1.8,-0.7 M571.6,60.1 l-2.0,0.2 M663.0,43.9 l-1.8,-0.9 M674.8,48.6 l0.5,-2.0 M663.3,59.7 l-1.6,1.4 M628.4,132.9 l0.0,2.0 M620.3,128.7 l-0.9,1.8 M637.4,127.2 l0.7,1.8 M597.3,51.4 l-1.4,-1.6 M646.5,66.4 l-1.8,0.5 M649.3,73.3 l-1.8,0.9 M624.6,104.6 l0.0,-1.8 M632.7,104.6 l0.0,-1.8 M640.8,105.1 l0.5,-1.8 " stroke="#585d98" stroke-width="2.7" stroke-linecap="round" fill="none"/>
<path d="M616.7,26.5 l-0.9,-1.8 M626.7,24.6 l0.0,-2.0 M626.7,24.6 l1.6,-1.1 M633.1,32.2 l2.0,-0.5 M633.1,32.2 l0.9,1.6 M612.3,34.2 l-2.0,0.5 M612.3,34.2 l-0.9,-1.6 M616.7,26.5 l0.9,1.8 M628.0,39.3 l1.1,1.4 M618.1,42.4 l0.7,1.6 M579.4,95.4 l-0.9,-1.8 M575.0,104.4 l-2.0,0.0 M575.0,104.4 l-1.4,-1.4 M582.0,112.2 l-0.9,2.0 M590.8,113.1 l1.8,1.8 M587.3,96.4 l-0.7,-1.6 M594.9,104.4 l0.7,-1.8 M582.0,112.2 l1.4,-1.4 M590.8,113.1 l-0.9,1.8 M673.6,91.7 l0.9,-2.0 M678.8,99.3 l2.0,0.0 M678.8,99.3 l1.4,1.4 M673.3,108.8 l0.9,2.0 M662.0,108.9 l-0.9,2.0 M661.7,91.3 l-0.9,1.6 M673.6,91.7 l-0.5,1.8 M662.0,108.9 l1.4,-1.4 M573.7,48.8 l-0.9,-1.8 M573.7,48.8 l1.1,-1.6 M569.2,50.2 l-2.0,0.0 M569.2,50.2 l-1.4,-1.4 M571.6,60.1 l-1.4,1.4 M571.6,60.1 l0.5,2.0 M569.2,50.2 l-1.4,1.4 M674.8,48.6 l1.4,-1.6 M674.8,48.6 l1.4,1.4 M674.8,48.6 l2.0,0.0 M663.0,43.9 l-0.5,-2.0 M663.0,43.9 l1.4,-1.6 M663.3,59.7 l0.0,2.0 M663.3,59.7 l1.4,1.6 M628.4,132.9 l-1.4,1.4 M628.4,132.9 l1.4,1.4 M620.3,128.7 l-2.0,0.5 M620.3,128.7 l-1.4,-1.4 M637.4,127.2 l2.0,0.7 M637.4,127.2 l1.4,-1.4 M591.3,52.1 l-0.5,-2.0 M597.3,51.4 l0.0,-2.0 M603.3,50.7 l0.5,-2.0 M584.6,63.6 l-2.0,0.9 M588.8,72.7 l-1.8,1.4 M608.9,53.8 l0.7,1.8 M600.7,70.2 l0.9,1.8 M644.7,50.6 l-0.7,-2.0 M649.0,49.5 l-0.5,-2.0 M661.0,68.9 l1.8,0.9 M660.4,78.7 l1.6,1.1 M654.8,77.7 l-1.4,1.4 M637.3,47.6 l0.0,-2.0 M611.4,106.4 l-1.8,1.4 M615.4,111.6 l-1.8,1.1 M638.4,112.0 l1.6,1.1 M647.4,106.8 l1.6,1.1 M621.0,112.3 l-1.4,1.4 M587.4,83.9 l-1.6,0.9 M611.4,106.0 l0.5,-1.6 M573.7,48.8 l-1.8,-0.7 M571.6,60.1 l-2.0,0.2 M663.0,43.9 l-1.8,-0.9 M674.8,48.6 l0.5,-2.0 M663.3,59.7 l-1.6,1.4 M628.4,132.9 l0.0,2.0 M620.3,128.7 l-0.9,1.8 M637.4,127.2 l0.7,1.8 M597.3,51.4 l-1.4,-1.6 M646.5,66.4 l-1.8,0.5 M649.3,73.3 l-1.8,0.9 M624.6,104.6 l0.0,-1.8 M632.7,104.6 l0.0,-1.8 M640.8,105.1 l0.5,-1.8 " stroke="#8388c2" stroke-width="1.5" stroke-linecap="round" fill="none"/>
<path d="M615.7,24.5 l-1.2,-2.4 M626.7,22.4 l0.0,-2.7 M628.5,23.4 l2.1,-1.5 M635.4,31.7 l2.7,-0.6 M634.1,33.9 l1.2,2.1 M610.0,34.7 l-2.7,0.6 M611.3,32.5 l-1.2,-2.1 M617.7,28.5 l1.2,2.4 M629.3,40.8 l1.5,1.8 M618.9,44.1 l0.9,2.1 M578.4,93.4 l-1.2,-2.4 M572.7,104.4 l-2.7,0.0 M573.5,102.9 l-1.8,-1.8 M581.0,114.4 l-1.2,2.7 M592.8,115.1 l2.4,2.4 M586.6,94.7 l-0.9,-2.1 M595.6,102.4 l0.9,-2.4 M583.5,110.7 l1.8,-1.8 M589.8,115.1 l-1.2,2.4 M674.6,89.4 l1.2,-2.7 M681.0,99.3 l2.7,0.0 M680.3,100.8 l1.8,1.8 M674.3,111.0 l1.2,2.7 M661.0,111.2 l-1.2,2.7 M660.7,93.0 l-1.2,2.1 M673.1,93.7 l-0.6,2.4 M663.5,107.4 l1.8,-1.8 M572.7,46.8 l-1.2,-2.4 M575.0,47.1 l1.5,-2.1 M566.9,50.2 l-2.7,0.0 M567.7,48.7 l-1.8,-1.8 M570.1,61.6 l-1.8,1.8 M572.1,62.3 l0.6,2.7 M567.7,51.7 l-1.8,1.8 M676.3,46.9 l1.8,-2.1 M676.3,50.1 l1.8,1.8 M677.1,48.6 l2.7,0.0 M662.5,41.7 l-0.6,-2.7 M664.5,42.2 l1.8,-2.1 M663.3,62.0 l0.0,2.7 M664.8,61.5 l1.8,2.1 M626.9,134.4 l-1.8,1.8 M629.9,134.4 l1.8,1.8 M618.1,129.2 l-2.7,0.6 M618.8,127.2 l-1.8,-1.8 M639.6,127.9 l2.7,0.9 M638.9,125.7 l1.8,-1.8 M590.8,49.8 l-0.6,-2.7 M597.3,49.1 l0.0,-2.7 M603.8,48.5 l0.6,-2.7 M582.3,64.6 l-2.7,1.2 M586.8,74.2 l-2.4,1.8 M609.6,55.8 l0.9,2.4 M601.7,72.2 l1.2,2.4 M643.9,48.4 l-0.9,-2.7 M648.5,47.2 l-0.6,-2.7 M663.0,69.9 l2.4,1.2 M662.1,79.9 l2.1,1.5 M653.3,79.2 l-1.8,1.8 M637.3,45.3 l0.0,-2.7 M609.4,107.9 l-2.4,1.8 M613.4,112.9 l-2.4,1.5 M640.2,113.3 l2.1,1.5 M649.1,108.1 l2.1,1.5 M619.5,113.8 l-1.8,1.8 M585.6,84.9 l-2.1,1.2 M611.9,104.3 l0.6,-2.1 M571.7,48.1 l-2.4,-0.9 M569.3,60.3 l-2.7,0.3 M661.0,42.9 l-2.4,-1.2 M675.3,46.4 l0.6,-2.7 M661.5,61.2 l-2.1,1.8 M628.4,135.1 l0.0,2.7 M619.3,130.7 l-1.2,2.4 M638.1,129.2 l0.9,2.4 M595.8,49.6 l-1.8,-2.1 M644.5,66.9 l-2.4,0.6 M647.3,74.3 l-2.4,1.2 M624.6,102.6 l0.0,-2.4 M632.7,102.6 l0.0,-2.4 M641.3,103.1 l0.6,-2.4 " stroke="#f5f5f5" stroke-width="1.5" stroke-linecap="round" fill="none"/>
<path d="M601.9,72.9 l-4.0,3.0 M601.9,72.9 l-4.5,-0.5 M613.6,76.0 l-2.0,4.5 M630.0,70.1 l1.0,-4.5 M645.8,63.4 l2.0,-4.0 M626.6,103.3 l-4.0,1.0 M601.9,72.9 l-2.0,-4.0 M618.4,60.8 l-1.0,-4.5 M618.4,60.8 l3.0,-3.0 M640.0,62.4 l-2.0,-4.5 M642.2,82.6 l4.5,0.0 M642.2,82.6 l1.0,4.0 M630.2,97.8 l4.5,0.5 M616.6,85.4 l-4.0,2.5 M616.6,85.4 l-2.0,4.0 M633.1,80.2 l2.0,-4.0 M627.1,87.9 l-3.0,3.0 " stroke="#a3a3a3" stroke-width="2.3" stroke-linecap="round" fill="none"/>
<path d="M613.6,76.0 L620.3,67.7 L630.0,70.1 L633.1,80.2 L627.1,87.9 L616.6,85.4 L613.6,76.0 M601.8,72.2 L613.6,75.2 M601.5,73.8 L613.3,76.9 M630.0,70.1 L640.0,62.4 L645.8,63.4 M633.1,80.2 L642.2,82.6 M627.1,87.9 L630.2,97.8 L626.6,103.3 M620.3,67.7 L618.4,60.8" stroke="#a2a4c4" stroke-width="3.4" stroke-linecap="round" stroke-linejoin="round" fill="none"/>
<path d="M613.6,76.0 L620.3,67.7 L630.0,70.1 L633.1,80.2 L627.1,87.9 L616.6,85.4 L613.6,76.0 M601.8,72.2 L613.6,75.2 M601.5,73.8 L613.3,76.9 M630.0,70.1 L640.0,62.4 L645.8,63.4 M633.1,80.2 L642.2,82.6 M627.1,87.9 L630.2,97.8 L626.6,103.3 M620.3,67.7 L618.4,60.8" stroke="#dedef0" stroke-width="2.1" stroke-linecap="round" stroke-linejoin="round" fill="none"/>
<path d="M601.9,72.9 l-4.0,3.0 M601.9,72.9 l-4.5,-0.5 M613.6,76.0 l-2.0,4.5 M630.0,70.1 l1.0,-4.5 M645.8,63.4 l2.0,-4.0 M626.6,103.3 l-4.0,1.0 M601.9,72.9 l-2.0,-4.0 M618.4,60.8 l-1.0,-4.5 M618.4,60.8 l3.0,-3.0 M640.0,62.4 l-2.0,-4.5 M642.2,82.6 l4.5,0.0 M642.2,82.6 l1.0,4.0 M630.2,97.8 l4.5,0.5 M616.6,85.4 l-4.0,2.5 M616.6,85.4 l-2.0,4.0 M633.1,80.2 l2.0,-4.0 M627.1,87.9 l-3.0,3.0 " stroke="#f5f5f5" stroke-width="1.2" stroke-linecap="round" fill="none"/>
<circle cx="646.3" cy="63.6" r="1.5" fill="#eab0b0" stroke="#c87878" stroke-width="0.6"/>
<circle cx="626.7" cy="104.3" r="1.5" fill="#eab0b0" stroke="#c87878" stroke-width="0.6"/>
<path d="M616.7,26.5 L626.7,24.6 L633.1,32.2 L628.0,39.3 L618.1,42.4 L612.3,34.2 L616.7,26.5 M579.4,95.4 L587.3,96.4 L594.9,104.4 L590.8,113.1 L582.0,112.2 L575.0,104.4 L579.4,95.4 M661.5,92.3 L673.1,92.1 L676.7,99.4 L673.1,109.2 L661.9,109.3 L658.7,102.0 L661.5,92.3 M618.1,42.4 L612.7,47.8 L608.9,53.8 L602.7,59.3 M591.3,52.1 L603.3,50.7 L608.4,57.5 L600.7,70.2 L588.8,72.7 L584.6,63.6 L591.3,52.1 M601.2,54.3 L591.1,68.9 M596.3,52.7 L587.9,65.7 M588.8,72.7 L587.4,83.9 L591.3,87.4 L587.3,96.4 M585.6,59.3 L575.8,53.5 M585.2,62.1 L575.9,56.4 M575.9,55.0 L573.7,48.8 M575.9,55.0 L569.2,50.2 M575.9,55.0 L571.6,60.1 M594.9,104.4 L602.2,106.2 L611.4,106.0 M611.4,106.4 L647.4,106.8 M615.4,111.6 L638.4,112.0 M617.3,109.0 L643.6,109.5 M611.4,106.4 L615.4,111.6 M638.4,112.0 L647.4,106.8 M647.4,106.8 L649.0,102.7 L658.6,101.9 M626.5,112.3 L628.1,126.5 M629.6,112.2 L630.8,126.1 M629.3,126.5 L628.4,132.9 M629.3,126.5 L620.3,128.7 M629.3,126.5 L637.4,127.2 M661.7,91.3 L659.6,84.8 L660.4,78.7 M644.7,50.6 L654.8,77.7 M649.0,49.5 L660.4,78.7 M654.9,57.0 L661.0,68.9 M644.7,50.6 L649.0,49.5 L654.9,57.0 M654.8,77.7 L660.4,78.7 L661.0,68.9 M644.7,50.6 L637.3,47.6 L634.0,46.5 L628.0,39.3 M656.0,57.0 L667.7,49.2 M657.2,59.8 L668.3,52.4 M668.0,50.8 L674.8,48.6 M668.0,50.8 L663.0,43.9 M668.0,50.8 L663.3,59.7" stroke="#585d98" stroke-width="3.2" stroke-linecap="round" stroke-linejoin="round" fill="none"/>
<path d="M616.7,26.5 L626.7,24.6 L633.1,32.2 L628.0,39.3 L618.1,42.4 L612.3,34.2 L616.7,26.5 M579.4,95.4 L587.3,96.4 L594.9,104.4 L590.8,113.1 L582.0,112.2 L575.0,104.4 L579.4,95.4 M661.5,92.3 L673.1,92.1 L676.7,99.4 L673.1,109.2 L661.9,109.3 L658.7,102.0 L661.5,92.3 M618.1,42.4 L612.7,47.8 L608.9,53.8 L602.7,59.3 M591.3,52.1 L603.3,50.7 L608.4,57.5 L600.7,70.2 L588.8,72.7 L584.6,63.6 L591.3,52.1 M601.2,54.3 L591.1,68.9 M596.3,52.7 L587.9,65.7 M588.8,72.7 L587.4,83.9 L591.3,87.4 L587.3,96.4 M585.6,59.3 L575.8,53.5 M585.2,62.1 L575.9,56.4 M575.9,55.0 L573.7,48.8 M575.9,55.0 L569.2,50.2 M575.9,55.0 L571.6,60.1 M594.9,104.4 L602.2,106.2 L611.4,106.0 M611.4,106.4 L647.4,106.8 M615.4,111.6 L638.4,112.0 M617.3,109.0 L643.6,109.5 M611.4,106.4 L615.4,111.6 M638.4,112.0 L647.4,106.8 M647.4,106.8 L649.0,102.7 L658.6,101.9 M626.5,112.3 L628.1,126.5 M629.6,112.2 L630.8,126.1 M629.3,126.5 L628.4,132.9 M629.3,126.5 L620.3,128.7 M629.3,126.5 L637.4,127.2 M661.7,91.3 L659.6,84.8 L660.4,78.7 M644.7,50.6 L654.8,77.7 M649.0,49.5 L660.4,78.7 M654.9,57.0 L661.0,68.9 M644.7,50.6 L649.0,49.5 L654.9,57.0 M654.8,77.7 L660.4,78.7 L661.0,68.9 M644.7,50.6 L637.3,47.6 L634.0,46.5 L628.0,39.3 M656.0,57.0 L667.7,49.2 M657.2,59.8 L668.3,52.4 M668.0,50.8 L674.8,48.6 M668.0,50.8 L663.0,43.9 M668.0,50.8 L663.3,59.7" stroke="#8388c2" stroke-width="1.9" stroke-linecap="round" stroke-linejoin="round" fill="none"/>
<path d="M613.8,46.4 L611.7,49.3 M592.0,85.7 L590.6,89.0 M600.4,106.2 L604.0,106.2 M648.5,104.5 L649.5,101.0 M659.9,86.6 L659.2,83.1 M635.0,48.0 L632.9,45.1 M586.3,59.9 L589.6,61.2 M594.8,63.8 L598.2,64.8 M654.4,58.0 L657.5,56.1 M628.1,115.3 L628.1,118.9 " stroke="#b04848" stroke-width="3.0" stroke-linecap="round" fill="none"/>
<path d="M613.8,46.4 L611.7,49.3 M592.0,85.7 L590.6,89.0 M600.4,106.2 L604.0,106.2 M648.5,104.5 L649.5,101.0 M659.9,86.6 L659.2,83.1 M635.0,48.0 L632.9,45.1 M586.3,59.9 L589.6,61.2 M594.8,63.8 L598.2,64.8 M654.4,58.0 L657.5,56.1 M628.1,115.3 L628.1,118.9 " stroke="#ee8a8a" stroke-width="1.7" stroke-linecap="round" fill="none"/>
<path d="M607.5,85.0 l-3.5,3.0 M613.4,83.8 l-1.0,4.5 M616.4,66.6 l-1.0,-4.5 M622.9,67.8 l3.0,-3.5 M609.9,75.5 l-4.0,-1.0 M638.5,89.5 l2.5,3.0 " stroke="#8f8f8f" stroke-width="2.4" stroke-linecap="round" fill="none"/>
<path d="M606.1,86.2 l-2.1,1.8 M613.0,85.6 l-0.6,2.7 M616.0,64.8 l-0.6,-2.7 M624.1,66.4 l1.8,-2.1 M608.3,75.1 l-2.4,-0.6 M639.5,90.7 l1.5,1.8 " stroke="#f2f2f2" stroke-width="1.3" stroke-linecap="round" fill="none"/>
<path d="M616.4,66.6 L622.9,67.8 L620.5,76.7 L613.4,83.8 L607.5,85.0 L609.9,75.5 L616.4,66.6 M620.5,76.7 L627.6,75.5 L635.9,85.0 M620.5,76.7 L622.9,67.8" stroke="#34528a" stroke-width="3.2" stroke-linecap="round" stroke-linejoin="round" fill="none"/>
<path d="M616.4,66.6 L622.9,67.8 L620.5,76.7 L613.4,83.8 L607.5,85.0 L609.9,75.5 L616.4,66.6 M620.5,76.7 L627.6,75.5 L635.9,85.0 M620.5,76.7 L622.9,67.8" stroke="#5a7cb4" stroke-width="1.9" stroke-linecap="round" stroke-linejoin="round" fill="none"/>
<path d="M616.0,69.2 L620.7,70.1 L619.0,76.5 L613.9,81.6 L609.6,82.5 L611.4,75.6 Z" stroke="#34528a" stroke-width="2.4" fill="none"/>
<path d="M616.0,69.2 L620.7,70.1 L619.0,76.5 L613.9,81.6 L609.6,82.5 L611.4,75.6 Z" stroke="#5a7cb4" stroke-width="1.3" fill="none"/>
<circle cx="636.5" cy="87.4" r="2.4" fill="#e01810" stroke="#8a0a05" stroke-width="0.7"/>
<path d="M640.6,92.1 L646.6,100.4" stroke="#44aaf0" stroke-width="1" stroke-dasharray="1.2,0.9"/>
<path d="M496.2,190.8 l-2.2,-4.4 M506.6,189.2 l0.0,-5.0 M506.6,189.2 l3.9,-2.8 M512.7,197.3 l5.0,-1.1 M512.7,197.3 l2.2,3.9 M491.1,198.7 l-5.0,1.1 M491.1,198.7 l-2.2,-3.9 M496.2,190.8 l2.2,4.4 M507.0,204.5 l2.8,3.3 M496.6,207.5 l1.7,3.9 M453.3,261.6 l-2.2,-4.4 M448.2,270.8 l-5.0,0.0 M448.2,270.8 l-3.3,-3.3 M455.0,279.3 l-2.2,5.0 M463.9,280.5 l4.4,4.4 M461.4,263.0 l-1.7,-3.9 M468.6,271.5 l1.7,-4.4 M455.0,279.3 l3.3,-3.3 M463.9,280.5 l-2.2,4.4 M550.4,261.0 l2.2,-5.0 M555.2,269.1 l5.0,0.0 M555.2,269.1 l3.3,3.3 M548.9,278.8 l2.2,5.0 M537.3,278.6 l-2.2,5.0 M538.2,260.1 l-2.2,3.9 M550.4,261.0 l-1.1,4.4 M537.3,278.6 l3.3,-3.3 M450.6,212.7 l-2.2,-4.4 M450.6,212.7 l2.8,-3.9 M445.8,213.9 l-5.0,0.0 M445.8,213.9 l-3.3,-3.3 M447.6,224.4 l-3.3,3.3 M447.6,224.4 l1.1,5.0 M445.8,213.9 l-3.3,3.3 M554.4,216.0 l3.3,-3.9 M554.4,216.0 l3.3,3.3 M554.4,216.0 l5.0,0.0 M542.6,210.7 l-1.1,-5.0 M542.6,210.7 l3.3,-3.9 M541.8,227.2 l0.0,5.0 M541.8,227.2 l3.3,3.9 M501.2,302.5 l-3.3,3.3 M501.2,302.5 l3.3,3.3 M493.2,297.9 l-5.0,1.1 M493.2,297.9 l-3.3,-3.3 M510.8,296.9 l5.0,1.7 M510.8,296.9 l3.3,-3.3 M468.4,216.7 l-1.1,-5.0 M474.6,216.2 l0.0,-5.0 M480.8,215.7 l1.1,-5.0 M460.7,228.5 l-5.0,2.2 M464.4,238.2 l-4.4,3.3 M486.4,219.1 l1.7,4.4 M476.9,236.0 l2.2,4.4 M523.3,217.0 l-1.7,-5.0 M527.9,216.0 l-1.1,-5.0 M538.9,236.7 l4.4,2.2 M537.6,246.9 l3.9,2.8 M531.9,245.7 l-3.3,3.3 M516.0,213.6 l0.0,-5.0 M485.5,274.2 l-4.4,3.3 M489.3,279.8 l-4.4,2.8 M512.9,281.0 l3.9,2.8 M522.4,275.9 l3.9,2.8 M495.0,280.8 l-3.3,3.3 M462.3,249.8 l-3.9,2.2 M485.5,273.8 l1.1,-3.9 M450.6,212.7 l-4.4,-1.7 M447.6,224.4 l-5.0,0.6 M542.6,210.7 l-4.4,-2.2 M554.4,216.0 l1.1,-5.0 M541.8,227.2 l-3.9,3.3 M501.2,302.5 l0.0,5.0 M493.2,297.9 l-2.2,4.4 M510.8,296.9 l1.7,4.4 M474.6,216.2 l-3.3,-3.9 M524.1,233.6 l-4.4,1.1 M526.6,240.9 l-4.4,2.2 M499.2,272.8 l0.0,-4.4 M507.5,273.1 l0.0,-4.4 M515.8,273.9 l1.1,-4.4 " stroke="#979797" stroke-width="2.7" stroke-linecap="round" fill="none"/>
<path d="M496.2,190.8 l-0.9,-1.8 M506.6,189.2 l0.0,-2.0 M506.6,189.2 l1.6,-1.1 M512.7,197.3 l2.0,-0.5 M512.7,197.3 l0.9,1.6 M491.1,198.7 l-2.0,0.5 M491.1,198.7 l-0.9,-1.6 M496.2,190.8 l0.9,1.8 M507.0,204.5 l1.1,1.4 M496.6,207.5 l0.7,1.6 M453.3,261.6 l-0.9,-1.8 M448.2,270.8 l-2.0,0.0 M448.2,270.8 l-1.4,-1.4 M455.0,279.3 l-0.9,2.0 M463.9,280.5 l1.8,1.8 M461.4,263.0 l-0.7,-1.6 M468.6,271.5 l0.7,-1.8 M455.0,279.3 l1.4,-1.4 M463.9,280.5 l-0.9,1.8 M550.4,261.0 l0.9,-2.0 M555.2,269.1 l2.0,0.0 M555.2,269.1 l1.4,1.4 M548.9,278.8 l0.9,2.0 M537.3,278.6 l-0.9,2.0 M538.2,260.1 l-0.9,1.6 M550.4,261.0 l-0.5,1.8 M537.3,278.6 l1.4,-1.4 M450.6,212.7 l-0.9,-1.8 M450.6,212.7 l1.1,-1.6 M445.8,213.9 l-2.0,0.0 M445.8,213.9 l-1.4,-1.4 M447.6,224.4 l-1.4,1.4 M447.6,224.4 l0.5,2.0 M445.8,213.9 l-1.4,1.4 M554.4,216.0 l1.4,-1.6 M554.4,216.0 l1.4,1.4 M554.4,216.0 l2.0,0.0 M542.6,210.7 l-0.5,-2.0 M542.6,210.7 l1.4,-1.6 M541.8,227.2 l0.0,2.0 M541.8,227.2 l1.4,1.6 M501.2,302.5 l-1.4,1.4 M501.2,302.5 l1.4,1.4 M493.2,297.9 l-2.0,0.5 M493.2,297.9 l-1.4,-1.4 M510.8,296.9 l2.0,0.7 M510.8,296.9 l1.4,-1.4 M468.4,216.7 l-0.5,-2.0 M474.6,216.2 l0.0,-2.0 M480.8,215.7 l0.5,-2.0 M460.7,228.5 l-2.0,0.9 M464.4,238.2 l-1.8,1.4 M486.4,219.1 l0.7,1.8 M476.9,236.0 l0.9,1.8 M523.3,217.0 l-0.7,-2.0 M527.9,216.0 l-0.5,-2.0 M538.9,236.7 l1.8,0.9 M537.6,246.9 l1.6,1.1 M531.9,245.7 l-1.4,1.4 M516.0,213.6 l0.0,-2.0 M485.5,274.2 l-1.8,1.4 M489.3,279.8 l-1.8,1.1 M512.9,281.0 l1.6,1.1 M522.4,275.9 l1.6,1.1 M495.0,280.8 l-1.4,1.4 M462.3,249.8 l-1.6,0.9 M485.5,273.8 l0.5,-1.6 M450.6,212.7 l-1.8,-0.7 M447.6,224.4 l-2.0,0.2 M542.6,210.7 l-1.8,-0.9 M554.4,216.0 l0.5,-2.0 M541.8,227.2 l-1.6,1.4 M501.2,302.5 l0.0,2.0 M493.2,297.9 l-0.9,1.8 M510.8,296.9 l0.7,1.8 M474.6,216.2 l-1.4,-1.6 M524.1,233.6 l-1.8,0.5 M526.6,240.9 l-1.8,0.9 M499.2,272.8 l0.0,-1.8 M507.5,273.1 l0.0,-1.8 M515.8,273.9 l0.5,-1.8 " stroke="#145a55" stroke-width="2.7" stroke-linecap="round" fill="none"/>
<path d="M496.2,190.8 l-0.9,-1.8 M506.6,189.2 l0.0,-2.0 M506.6,189.2 l1.6,-1.1 M512.7,197.3 l2.0,-0.5 M512.7,197.3 l0.9,1.6 M491.1,198.7 l-2.0,0.5 M491.1,198.7 l-0.9,-1.6 M496.2,190.8 l0.9,1.8 M507.0,204.5 l1.1,1.4 M496.6,207.5 l0.7,1.6 M453.3,261.6 l-0.9,-1.8 M448.2,270.8 l-2.0,0.0 M448.2,270.8 l-1.4,-1.4 M455.0,279.3 l-0.9,2.0 M463.9,280.5 l1.8,1.8 M461.4,263.0 l-0.7,-1.6 M468.6,271.5 l0.7,-1.8 M455.0,279.3 l1.4,-1.4 M463.9,280.5 l-0.9,1.8 M550.4,261.0 l0.9,-2.0 M555.2,269.1 l2.0,0.0 M555.2,269.1 l1.4,1.4 M548.9,278.8 l0.9,2.0 M537.3,278.6 l-0.9,2.0 M538.2,260.1 l-0.9,1.6 M550.4,261.0 l-0.5,1.8 M537.3,278.6 l1.4,-1.4 M450.6,212.7 l-0.9,-1.8 M450.6,212.7 l1.1,-1.6 M445.8,213.9 l-2.0,0.0 M445.8,213.9 l-1.4,-1.4 M447.6,224.4 l-1.4,1.4 M447.6,224.4 l0.5,2.0 M445.8,213.9 l-1.4,1.4 M554.4,216.0 l1.4,-1.6 M554.4,216.0 l1.4,1.4 M554.4,216.0 l2.0,0.0 M542.6,210.7 l-0.5,-2.0 M542.6,210.7 l1.4,-1.6 M541.8,227.2 l0.0,2.0 M541.8,227.2 l1.4,1.6 M501.2,302.5 l-1.4,1.4 M501.2,302.5 l1.4,1.4 M493.2,297.9 l-2.0,0.5 M493.2,297.9 l-1.4,-1.4 M510.8,296.9 l2.0,0.7 M510.8,296.9 l1.4,-1.4 M468.4,216.7 l-0.5,-2.0 M474.6,216.2 l0.0,-2.0 M480.8,215.7 l0.5,-2.0 M460.7,228.5 l-2.0,0.9 M464.4,238.2 l-1.8,1.4 M486.4,219.1 l0.7,1.8 M476.9,236.0 l0.9,1.8 M523.3,217.0 l-0.7,-2.0 M527.9,216.0 l-0.5,-2.0 M538.9,236.7 l1.8,0.9 M537.6,246.9 l1.6,1.1 M531.9,245.7 l-1.4,1.4 M516.0,213.6 l0.0,-2.0 M485.5,274.2 l-1.8,1.4 M489.3,279.8 l-1.8,1.1 M512.9,281.0 l1.6,1.1 M522.4,275.9 l1.6,1.1 M495.0,280.8 l-1.4,1.4 M462.3,249.8 l-1.6,0.9 M485.5,273.8 l0.5,-1.6 M450.6,212.7 l-1.8,-0.7 M447.6,224.4 l-2.0,0.2 M542.6,210.7 l-1.8,-0.9 M554.4,216.0 l0.5,-2.0 M541.8,227.2 l-1.6,1.4 M501.2,302.5 l0.0,2.0 M493.2,297.9 l-0.9,1.8 M510.8,296.9 l0.7,1.8 M474.6,216.2 l-1.4,-1.6 M524.1,233.6 l-1.8,0.5 M526.6,240.9 l-1.8,0.9 M499.2,272.8 l0.0,-1.8 M507.5,273.1 l0.0,-1.8 M515.8,273.9 l0.5,-1.8 " stroke="#22877f" stroke-width="1.5" stroke-linecap="round" fill="none"/>
<path d="M495.2,188.8 l-1.2,-2.4 M506.6,186.9 l0.0,-2.7 M508.3,187.9 l2.1,-1.5 M515.0,196.8 l2.7,-0.6 M513.7,199.0 l1.2,2.1 M488.9,199.2 l-2.7,0.6 M490.1,197.0 l-1.2,-2.1 M497.2,192.8 l1.2,2.4 M508.3,206.0 l1.5,1.8 M497.3,209.2 l0.9,2.1 M452.3,259.6 l-1.2,-2.4 M446.0,270.8 l-2.7,0.0 M446.7,269.3 l-1.8,-1.8 M454.0,281.5 l-1.2,2.7 M465.9,282.5 l2.4,2.4 M460.6,261.2 l-0.9,-2.1 M469.4,269.5 l0.9,-2.4 M456.5,277.8 l1.8,-1.8 M462.9,282.5 l-1.2,2.4 M551.4,258.7 l1.2,-2.7 M557.4,269.1 l2.7,0.0 M556.7,270.6 l1.8,1.8 M549.9,281.1 l1.2,2.7 M536.3,280.8 l-1.2,2.7 M537.2,261.9 l-1.2,2.1 M549.9,263.0 l-0.6,2.4 M538.8,277.1 l1.8,-1.8 M449.6,210.7 l-1.2,-2.4 M451.8,210.9 l1.5,-2.1 M443.5,213.9 l-2.7,0.0 M444.3,212.4 l-1.8,-1.8 M446.1,225.9 l-1.8,1.8 M448.1,226.6 l0.6,2.7 M444.3,215.4 l-1.8,1.8 M555.9,214.2 l1.8,-2.1 M555.9,217.5 l1.8,1.8 M556.7,216.0 l2.7,0.0 M542.1,208.4 l-0.6,-2.7 M544.1,208.9 l1.8,-2.1 M541.8,229.4 l0.0,2.7 M543.3,228.9 l1.8,2.1 M499.7,304.0 l-1.8,1.8 M502.7,304.0 l1.8,1.8 M490.9,298.4 l-2.7,0.6 M491.7,296.4 l-1.8,-1.8 M513.1,297.6 l2.7,0.9 M512.3,295.4 l1.8,-1.8 M467.9,214.4 l-0.6,-2.7 M474.6,213.9 l0.0,-2.7 M481.3,213.4 l0.6,-2.7 M458.5,229.5 l-2.7,1.2 M462.4,239.7 l-2.4,1.8 M487.1,221.1 l0.9,2.4 M477.9,238.0 l1.2,2.4 M522.6,214.8 l-0.9,-2.7 M527.4,213.7 l-0.6,-2.7 M540.9,237.7 l2.4,1.2 M539.4,248.2 l2.1,1.5 M530.4,247.2 l-1.8,1.8 M516.0,211.3 l0.0,-2.7 M483.5,275.7 l-2.4,1.8 M487.3,281.1 l-2.4,1.5 M514.6,282.3 l2.1,1.5 M524.2,277.2 l2.1,1.5 M493.5,282.3 l-1.8,1.8 M460.6,250.8 l-2.1,1.2 M486.0,272.1 l0.6,-2.1 M448.6,211.9 l-2.4,-0.9 M445.4,224.6 l-2.7,0.3 M540.6,209.7 l-2.4,-1.2 M554.9,213.7 l0.6,-2.7 M540.1,228.7 l-2.1,1.8 M501.2,304.8 l0.0,2.7 M492.2,299.9 l-1.2,2.4 M511.6,298.9 l0.9,2.4 M473.1,214.4 l-1.8,-2.1 M522.1,234.1 l-2.4,0.6 M524.6,241.9 l-2.4,1.2 M499.2,270.8 l0.0,-2.4 M507.5,271.1 l0.0,-2.4 M516.3,271.9 l0.6,-2.4 " stroke="#f5f5f5" stroke-width="1.5" stroke-linecap="round" fill="none"/>
<path d="M477.9,238.9 l-4.0,3.0 M477.9,238.9 l-4.5,-0.5 M489.8,242.4 l-2.0,4.5 M507.0,236.9 l1.0,-4.5 M523.7,230.4 l2.0,-4.0 M501.3,271.5 l-4.0,1.0 M477.9,238.9 l-2.0,-4.0 M495.7,226.8 l-1.0,-4.5 M495.7,226.8 l3.0,-3.0 M517.8,229.2 l-2.0,-4.5 M518.7,250.4 l4.5,0.0 M518.7,250.4 l1.0,4.0 M505.3,265.9 l4.5,0.5 M492.2,252.5 l-4.0,2.5 M492.2,252.5 l-2.0,4.0 M509.5,247.5 l2.0,-4.0 M502.9,255.4 l-3.0,3.0 " stroke="#a3a3a3" stroke-width="2.3" stroke-linecap="round" fill="none"/>
<path d="M489.8,242.4 L497.2,234.1 L507.0,236.9 L509.5,247.5 L502.9,255.4 L492.2,252.5 L489.8,242.4 M477.9,238.0 L489.8,241.6 M477.5,239.8 L489.4,243.4 M507.0,236.9 L517.8,229.2 L523.7,230.4 M509.5,247.5 L518.7,250.4 M502.9,255.4 L505.3,265.9 L501.3,271.5 M497.2,234.1 L495.7,226.8" stroke="#86b0b0" stroke-width="3.4" stroke-linecap="round" stroke-linejoin="round" fill="none"/>
<path d="M489.8,242.4 L497.2,234.1 L507.0,236.9 L509.5,247.5 L502.9,255.4 L492.2,252.5 L489.8,242.4 M477.9,238.0 L489.8,241.6 M477.5,239.8 L489.4,243.4 M507.0,236.9 L517.8,229.2 L523.7,230.4 M509.5,247.5 L518.7,250.4 M502.9,255.4 L505.3,265.9 L501.3,271.5 M497.2,234.1 L495.7,226.8" stroke="#c9e6e6" stroke-width="2.1" stroke-linecap="round" stroke-linejoin="round" fill="none"/>
<path d="M477.9,238.9 l-4.0,3.0 M477.9,238.9 l-4.5,-0.5 M489.8,242.4 l-2.0,4.5 M507.0,236.9 l1.0,-4.5 M523.7,230.4 l2.0,-4.0 M501.3,271.5 l-4.0,1.0 M477.9,238.9 l-2.0,-4.0 M495.7,226.8 l-1.0,-4.5 M495.7,226.8 l3.0,-3.0 M517.8,229.2 l-2.0,-4.5 M518.7,250.4 l4.5,0.0 M518.7,250.4 l1.0,4.0 M505.3,265.9 l4.5,0.5 M492.2,252.5 l-4.0,2.5 M492.2,252.5 l-2.0,4.0 M509.5,247.5 l2.0,-4.0 M502.9,255.4 l-3.0,3.0 " stroke="#f5f5f5" stroke-width="1.2" stroke-linecap="round" fill="none"/>
<circle cx="524.2" cy="230.7" r="1.5" fill="#eab0b0" stroke="#c87878" stroke-width="0.6"/>
<circle cx="501.3" cy="272.6" r="1.5" fill="#eab0b0" stroke="#c87878" stroke-width="0.6"/>
<path d="M501.8,188.4 L510.8,195.2 L507.2,205.8 L496.0,205.6 L492.7,194.9 L501.8,188.4 M467.9,272.0 L460.6,280.4 L450.2,276.0 L451.2,264.8 L462.1,262.3 L467.9,272.0 M551.7,275.1 L541.4,279.5 L534.0,271.0 L539.7,261.4 L550.7,263.9 L551.7,275.1 M496.6,207.5 L490.7,213.0 L486.4,219.1 L479.7,224.6 M468.4,216.7 L480.8,215.7 L485.6,222.9 L476.9,236.0 L464.4,238.2 L460.7,228.5 L468.4,216.7 M478.4,219.4 L467.1,234.3 M473.5,217.5 L464.0,230.8 M464.4,238.2 L462.3,249.8 L466.1,253.6 L461.4,263.0 M462.0,224.0 L452.4,217.6 M461.5,226.9 L452.3,220.7 M452.4,219.2 L450.6,212.7 M452.4,219.2 L445.8,213.9 M452.4,219.2 L447.6,224.4 M468.6,271.5 L476.1,273.6 L485.5,273.8 M485.5,274.2 L522.4,275.9 M489.3,279.8 L512.9,281.0 M491.4,277.2 L518.3,278.5 M485.5,274.2 L489.3,279.8 M512.9,281.0 L522.4,275.9 M522.4,275.9 L524.3,271.7 L534.3,271.2 M500.7,280.9 L501.3,295.9 M503.8,280.9 L504.1,295.5 M502.5,295.9 L501.2,302.5 M502.5,295.9 L493.2,297.9 M502.5,295.9 L510.8,296.9 M538.2,260.1 L536.4,253.3 L537.6,246.9 M523.3,217.0 L531.9,245.7 M527.9,216.0 L537.6,246.9 M533.4,224.1 L538.9,236.7 M523.3,217.0 L527.9,216.0 L533.4,224.1 M531.9,245.7 L537.6,246.9 L538.9,236.7 M523.3,217.0 L516.0,213.6 L512.6,212.3 L507.0,204.5 M534.5,224.1 L547.1,216.3 M535.6,227.0 L547.4,219.7 M547.3,218.0 L554.4,216.0 M547.3,218.0 L542.6,210.7 M547.3,218.0 L541.8,227.2" stroke="#145a55" stroke-width="3.2" stroke-linecap="round" stroke-linejoin="round" fill="none"/>
<path d="M501.8,188.4 L510.8,195.2 L507.2,205.8 L496.0,205.6 L492.7,194.9 L501.8,188.4 M467.9,272.0 L460.6,280.4 L450.2,276.0 L451.2,264.8 L462.1,262.3 L467.9,272.0 M551.7,275.1 L541.4,279.5 L534.0,271.0 L539.7,261.4 L550.7,263.9 L551.7,275.1 M496.6,207.5 L490.7,213.0 L486.4,219.1 L479.7,224.6 M468.4,216.7 L480.8,215.7 L485.6,222.9 L476.9,236.0 L464.4,238.2 L460.7,228.5 L468.4,216.7 M478.4,219.4 L467.1,234.3 M473.5,217.5 L464.0,230.8 M464.4,238.2 L462.3,249.8 L466.1,253.6 L461.4,263.0 M462.0,224.0 L452.4,217.6 M461.5,226.9 L452.3,220.7 M452.4,219.2 L450.6,212.7 M452.4,219.2 L445.8,213.9 M452.4,219.2 L447.6,224.4 M468.6,271.5 L476.1,273.6 L485.5,273.8 M485.5,274.2 L522.4,275.9 M489.3,279.8 L512.9,281.0 M491.4,277.2 L518.3,278.5 M485.5,274.2 L489.3,279.8 M512.9,281.0 L522.4,275.9 M522.4,275.9 L524.3,271.7 L534.3,271.2 M500.7,280.9 L501.3,295.9 M503.8,280.9 L504.1,295.5 M502.5,295.9 L501.2,302.5 M502.5,295.9 L493.2,297.9 M502.5,295.9 L510.8,296.9 M538.2,260.1 L536.4,253.3 L537.6,246.9 M523.3,217.0 L531.9,245.7 M527.9,216.0 L537.6,246.9 M533.4,224.1 L538.9,236.7 M523.3,217.0 L527.9,216.0 L533.4,224.1 M531.9,245.7 L537.6,246.9 L538.9,236.7 M523.3,217.0 L516.0,213.6 L512.6,212.3 L507.0,204.5 M534.5,224.1 L547.1,216.3 M535.6,227.0 L547.4,219.7 M547.3,218.0 L554.4,216.0 M547.3,218.0 L542.6,210.7 M547.3,218.0 L541.8,227.2" stroke="#22877f" stroke-width="1.9" stroke-linecap="round" stroke-linejoin="round" fill="none"/>
<path d="M491.8,211.5 L489.6,214.4 M466.8,252.0 L465.4,255.3 M474.3,273.6 L477.9,273.6 M523.8,273.4 L524.8,270.0 M536.8,255.1 L536.1,251.6 M513.7,213.8 L511.5,210.9 M462.7,224.8 L466.1,226.1 M471.2,229.1 L474.7,230.2 M533.0,225.0 L536.1,223.2 M501.9,284.2 L501.9,287.8 " stroke="#b04848" stroke-width="3.0" stroke-linecap="round" fill="none"/>
<path d="M491.8,211.5 L489.6,214.4 M466.8,252.0 L465.4,255.3 M474.3,273.6 L477.9,273.6 M523.8,273.4 L524.8,270.0 M536.8,255.1 L536.1,251.6 M513.7,213.8 L511.5,210.9 M462.7,224.8 L466.1,226.1 M471.2,229.1 L474.7,230.2 M533.0,225.0 L536.1,223.2 M501.9,284.2 L501.9,287.8 " stroke="#ee8a8a" stroke-width="1.7" stroke-linecap="round" fill="none"/>
<path d="M517.5,258.0 l1.5,4.0 M487.0,252.0 l-4.0,3.0 M509.0,236.0 l3.0,-2.0 M497.0,239.5 l-1.0,-4.5 M493.0,247.0 l-3.0,3.0 " stroke="#8f8f8f" stroke-width="2.4" stroke-linecap="round" fill="none"/>
<path d="M518.1,259.6 l0.9,2.4 M485.4,253.2 l-2.4,1.8 M510.2,235.2 l1.8,-1.2 M496.6,237.7 l-0.6,-2.7 M491.8,248.2 l-1.8,1.8 " stroke="#f2f2f2" stroke-width="1.3" stroke-linecap="round" fill="none"/>
<path d="M487.5,251.0 L492.0,246.0 L500.0,241.0 L508.3,235.8 L505.5,234.5 L497.0,239.5 L489.5,245.5 L487.5,251.0 M499.0,246.1 L504.4,255.4 L500.6,262.5 M504.4,255.4 L514.3,255.4 M499.0,246.1 L497.0,239.5 M492.0,246.0 L489.5,245.5" stroke="#7e0c08" stroke-width="3.2" stroke-linecap="round" stroke-linejoin="round" fill="none"/>
<path d="M487.5,251.0 L492.0,246.0 L500.0,241.0 L508.3,235.8 L505.5,234.5 L497.0,239.5 L489.5,245.5 L487.5,251.0 M499.0,246.1 L504.4,255.4 L500.6,262.5 M504.4,255.4 L514.3,255.4 M499.0,246.1 L497.0,239.5 M492.0,246.0 L489.5,245.5" stroke="#c8221a" stroke-width="1.9" stroke-linecap="round" stroke-linejoin="round" fill="none"/>
<circle cx="500.6" cy="262.5" r="2.5" fill="#e01810" stroke="#8a0a05" stroke-width="0.7"/>
<circle cx="514.3" cy="255.4" r="2.0" fill="#e01810" stroke="#8a0a05" stroke-width="0.7"/>
<circle cx="487.5" cy="251.5" r="1.9" fill="#e01810" stroke="#8a0a05" stroke-width="0.7"/>
<circle cx="504.0" cy="236.5" r="1.7" fill="#e01810" stroke="#8a0a05" stroke-width="0.7"/>
<circle cx="499.0" cy="246.1" r="1.5" fill="#e01810" stroke="#8a0a05" stroke-width="0.7"/>
<path d="M518.0,262.5 L525.5,271.5" stroke="#ee2a26" stroke-width="1" stroke-dasharray="1.2,0.9"/>
<path d="M615.5,191.0 l-2.2,-4.4 M625.6,189.0 l0.0,-5.0 M625.6,189.0 l3.9,-2.8 M632.2,197.0 l5.0,-1.1 M632.2,197.0 l2.2,3.9 M611.0,199.2 l-5.0,1.1 M611.0,199.2 l-2.2,-3.9 M615.5,191.0 l2.2,4.4 M627.1,204.6 l2.8,3.3 M617.0,207.9 l1.7,3.9 M577.8,264.3 l-2.2,-4.4 M573.4,273.8 l-5.0,0.0 M573.4,273.8 l-3.3,-3.3 M580.6,282.2 l-2.2,5.0 M589.5,283.1 l4.4,4.4 M585.9,265.4 l-1.7,-3.9 M593.7,273.9 l1.7,-4.4 M580.6,282.2 l3.3,-3.3 M589.5,283.1 l-2.2,4.4 M673.9,260.5 l2.2,-5.0 M679.2,268.6 l5.0,0.0 M679.2,268.6 l3.3,3.3 M673.6,278.7 l2.2,5.0 M662.1,278.8 l-2.2,5.0 M661.7,260.0 l-2.2,3.9 M673.9,260.5 l-1.1,4.4 M662.1,278.8 l3.3,-3.3 M571.8,214.7 l-2.2,-4.4 M571.8,214.7 l2.8,-3.9 M567.1,216.1 l-5.0,0.0 M567.1,216.1 l-3.3,-3.3 M569.6,226.7 l-3.3,3.3 M569.6,226.7 l1.1,5.0 M567.1,216.1 l-3.3,3.3 M674.8,214.6 l3.3,-3.9 M674.8,214.6 l3.3,3.3 M674.8,214.6 l5.0,0.0 M662.7,209.6 l-1.1,-5.0 M662.7,209.6 l3.3,-3.9 M663.1,226.4 l0.0,5.0 M663.1,226.4 l3.3,3.9 M628.0,304.3 l-3.3,3.3 M628.0,304.3 l3.3,3.3 M619.7,299.9 l-5.0,1.1 M619.7,299.9 l-3.3,-3.3 M637.1,298.3 l5.0,1.7 M637.1,298.3 l3.3,-3.3 M589.7,218.2 l-1.1,-5.0 M595.8,217.4 l0.0,-5.0 M601.9,216.7 l1.1,-5.0 M582.9,230.4 l-5.0,2.2 M587.2,240.2 l-4.4,3.3 M607.7,220.0 l1.7,4.4 M599.4,237.5 l2.2,4.4 M644.1,216.7 l-1.7,-5.0 M648.6,215.5 l-1.1,-5.0 M660.9,236.2 l4.4,2.2 M660.3,246.6 l3.9,2.8 M654.6,245.5 l-3.3,3.3 M636.6,213.4 l0.0,-5.0 M610.6,276.1 l-4.4,3.3 M614.7,281.7 l-4.4,2.8 M638.1,282.1 l3.9,2.8 M647.2,276.6 l3.9,2.8 M620.4,282.4 l-3.3,3.3 M585.9,252.0 l-3.9,2.2 M610.5,275.7 l1.1,-3.9 M571.8,214.7 l-4.4,-1.7 M569.6,226.7 l-5.0,0.6 M662.7,209.6 l-4.4,-2.2 M674.8,214.6 l1.1,-5.0 M663.1,226.4 l-3.9,3.3 M628.0,304.3 l0.0,5.0 M619.7,299.9 l-2.2,4.4 M637.1,298.3 l1.7,4.4 M595.8,217.4 l-3.3,-3.9 M646.0,233.5 l-4.4,1.1 M649.0,240.9 l-4.4,2.2 M624.0,274.1 l0.0,-4.4 M632.3,274.3 l0.0,-4.4 M640.5,274.8 l1.1,-4.4 " stroke="#979797" stroke-width="2.7" stroke-linecap="round" fill="none"/>
<path d="M615.5,191.0 l-0.9,-1.8 M625.6,189.0 l0.0,-2.0 M625.6,189.0 l1.6,-1.1 M632.2,197.0 l2.0,-0.5 M632.2,197.0 l0.9,1.6 M611.0,199.2 l-2.0,0.5 M611.0,199.2 l-0.9,-1.6 M615.5,191.0 l0.9,1.8 M627.1,204.6 l1.1,1.4 M617.0,207.9 l0.7,1.6 M577.8,264.3 l-0.9,-1.8 M573.4,273.8 l-2.0,0.0 M573.4,273.8 l-1.4,-1.4 M580.6,282.2 l-0.9,2.0 M589.5,283.1 l1.8,1.8 M585.9,265.4 l-0.7,-1.6 M593.7,273.9 l0.7,-1.8 M580.6,282.2 l1.4,-1.4 M589.5,283.1 l-0.9,1.8 M673.9,260.5 l0.9,-2.0 M679.2,268.6 l2.0,0.0 M679.2,268.6 l1.4,1.4 M673.6,278.7 l0.9,2.0 M662.1,278.8 l-0.9,2.0 M661.7,260.0 l-0.9,1.6 M673.9,260.5 l-0.5,1.8 M662.1,278.8 l1.4,-1.4 M571.8,214.7 l-0.9,-1.8 M571.8,214.7 l1.1,-1.6 M567.1,216.1 l-2.0,0.0 M567.1,216.1 l-1.4,-1.4 M569.6,226.7 l-1.4,1.4 M569.6,226.7 l0.5,2.0 M567.1,216.1 l-1.4,1.4 M674.8,214.6 l1.4,-1.6 M674.8,214.6 l1.4,1.4 M674.8,214.6 l2.0,0.0 M662.7,209.6 l-0.5,-2.0 M662.7,209.6 l1.4,-1.6 M663.1,226.4 l0.0,2.0 M663.1,226.4 l1.4,1.6 M628.0,304.3 l-1.4,1.4 M628.0,304.3 l1.4,1.4 M619.7,299.9 l-2.0,0.5 M619.7,299.9 l-1.4,-1.4 M637.1,298.3 l2.0,0.7 M637.1,298.3 l1.4,-1.4 M589.7,218.2 l-0.5,-2.0 M595.8,217.4 l0.0,-2.0 M601.9,216.7 l0.5,-2.0 M582.9,230.4 l-2.0,0.9 M587.2,240.2 l-1.8,1.4 M607.7,220.0 l0.7,1.8 M599.4,237.5 l0.9,1.8 M644.1,216.7 l-0.7,-2.0 M648.6,215.5 l-0.5,-2.0 M660.9,236.2 l1.8,0.9 M660.3,246.6 l1.6,1.1 M654.6,245.5 l-1.4,1.4 M636.6,213.4 l0.0,-2.0 M610.6,276.1 l-1.8,1.4 M614.7,281.7 l-1.8,1.1 M638.1,282.1 l1.6,1.1 M647.2,276.6 l1.6,1.1 M620.4,282.4 l-1.4,1.4 M585.9,252.0 l-1.6,0.9 M610.5,275.7 l0.5,-1.6 M571.8,214.7 l-1.8,-0.7 M569.6,226.7 l-2.0,0.2 M662.7,209.6 l-1.8,-0.9 M674.8,214.6 l0.5,-2.0 M663.1,226.4 l-1.6,1.4 M628.0,304.3 l0.0,2.0 M619.7,299.9 l-0.9,1.8 M637.1,298.3 l0.7,1.8 M595.8,217.4 l-1.4,-1.6 M646.0,233.5 l-1.8,0.5 M649.0,240.9 l-1.8,0.9 M624.0,274.1 l0.0,-1.8 M632.3,274.3 l0.0,-1.8 M640.5,274.8 l0.5,-1.8 " stroke="#145a55" stroke-width="2.7" stroke-linecap="round" fill="none"/>
<path d="M615.5,191.0 l-0.9,-1.8 M625.6,189.0 l0.0,-2.0 M625.6,189.0 l1.6,-1.1 M632.2,197.0 l2.0,-0.5 M632.2,197.0 l0.9,1.6 M611.0,199.2 l-2.0,0.5 M611.0,199.2 l-0.9,-1.6 M615.5,191.0 l0.9,1.8 M627.1,204.6 l1.1,1.4 M617.0,207.9 l0.7,1.6 M577.8,264.3 l-0.9,-1.8 M573.4,273.8 l-2.0,0.0 M573.4,273.8 l-1.4,-1.4 M580.6,282.2 l-0.9,2.0 M589.5,283.1 l1.8,1.8 M585.9,265.4 l-0.7,-1.6 M593.7,273.9 l0.7,-1.8 M580.6,282.2 l1.4,-1.4 M589.5,283.1 l-0.9,1.8 M673.9,260.5 l0.9,-2.0 M679.2,268.6 l2.0,0.0 M679.2,268.6 l1.4,1.4 M673.6,278.7 l0.9,2.0 M662.1,278.8 l-0.9,2.0 M661.7,260.0 l-0.9,1.6 M673.9,260.5 l-0.5,1.8 M662.1,278.8 l1.4,-1.4 M571.8,214.7 l-0.9,-1.8 M571.8,214.7 l1.1,-1.6 M567.1,216.1 l-2.0,0.0 M567.1,216.1 l-1.4,-1.4 M569.6,226.7 l-1.4,1.4 M569.6,226.7 l0.5,2.0 M567.1,216.1 l-1.4,1.4 M674.8,214.6 l1.4,-1.6 M674.8,214.6 l1.4,1.4 M674.8,214.6 l2.0,0.0 M662.7,209.6 l-0.5,-2.0 M662.7,209.6 l1.4,-1.6 M663.1,226.4 l0.0,2.0 M663.1,226.4 l1.4,1.6 M628.0,304.3 l-1.4,1.4 M628.0,304.3 l1.4,1.4 M619.7,299.9 l-2.0,0.5 M619.7,299.9 l-1.4,-1.4 M637.1,298.3 l2.0,0.7 M637.1,298.3 l1.4,-1.4 M589.7,218.2 l-0.5,-2.0 M595.8,217.4 l0.0,-2.0 M601.9,216.7 l0.5,-2.0 M582.9,230.4 l-2.0,0.9 M587.2,240.2 l-1.8,1.4 M607.7,220.0 l0.7,1.8 M599.4,237.5 l0.9,1.8 M644.1,216.7 l-0.7,-2.0 M648.6,215.5 l-0.5,-2.0 M660.9,236.2 l1.8,0.9 M660.3,246.6 l1.6,1.1 M654.6,245.5 l-1.4,1.4 M636.6,213.4 l0.0,-2.0 M610.6,276.1 l-1.8,1.4 M614.7,281.7 l-1.8,1.1 M638.1,282.1 l1.6,1.1 M647.2,276.6 l1.6,1.1 M620.4,282.4 l-1.4,1.4 M585.9,252.0 l-1.6,0.9 M610.5,275.7 l0.5,-1.6 M571.8,214.7 l-1.8,-0.7 M569.6,226.7 l-2.0,0.2 M662.7,209.6 l-1.8,-0.9 M674.8,214.6 l0.5,-2.0 M663.1,226.4 l-1.6,1.4 M628.0,304.3 l0.0,2.0 M619.7,299.9 l-0.9,1.8 M637.1,298.3 l0.7,1.8 M595.8,217.4 l-1.4,-1.6 M646.0,233.5 l-1.8,0.5 M649.0,240.9 l-1.8,0.9 M624.0,274.1 l0.0,-1.8 M632.3,274.3 l0.0,-1.8 M640.5,274.8 l0.5,-1.8 " stroke="#22877f" stroke-width="1.5" stroke-linecap="round" fill="none"/>
<path d="M614.5,189.0 l-1.2,-2.4 M625.6,186.7 l0.0,-2.7 M627.4,187.7 l2.1,-1.5 M634.5,196.5 l2.7,-0.6 M633.2,198.8 l1.2,2.1 M608.7,199.7 l-2.7,0.6 M610.0,197.4 l-1.2,-2.1 M616.5,193.0 l1.2,2.4 M628.3,206.1 l1.5,1.8 M617.7,209.6 l0.9,2.1 M576.8,262.3 l-1.2,-2.4 M571.2,273.8 l-2.7,0.0 M571.9,272.3 l-1.8,-1.8 M579.6,284.5 l-1.2,2.7 M591.5,285.1 l2.4,2.4 M585.2,263.7 l-0.9,-2.1 M594.4,271.9 l0.9,-2.4 M582.1,280.7 l1.8,-1.8 M588.5,285.1 l-1.2,2.4 M674.9,258.3 l1.2,-2.7 M681.4,268.6 l2.7,0.0 M680.7,270.1 l1.8,1.8 M674.6,280.9 l1.2,2.7 M661.1,281.1 l-1.2,2.7 M660.7,261.8 l-1.2,2.1 M673.4,262.5 l-0.6,2.4 M663.6,277.3 l1.8,-1.8 M570.8,212.7 l-1.2,-2.4 M573.0,212.9 l1.5,-2.1 M564.9,216.1 l-2.7,0.0 M565.6,214.6 l-1.8,-1.8 M568.1,228.2 l-1.8,1.8 M570.1,228.9 l0.6,2.7 M565.6,217.6 l-1.8,1.8 M676.3,212.9 l1.8,-2.1 M676.3,216.1 l1.8,1.8 M677.1,214.6 l2.7,0.0 M662.2,207.4 l-0.6,-2.7 M664.2,207.9 l1.8,-2.1 M663.1,228.7 l0.0,2.7 M664.6,228.2 l1.8,2.1 M626.5,305.8 l-1.8,1.8 M629.5,305.8 l1.8,1.8 M617.5,300.4 l-2.7,0.6 M618.2,298.4 l-1.8,-1.8 M639.4,299.0 l2.7,0.9 M638.6,296.8 l1.8,-1.8 M589.2,215.9 l-0.6,-2.7 M595.8,215.2 l0.0,-2.7 M602.4,214.5 l0.6,-2.7 M580.7,231.4 l-2.7,1.2 M585.2,241.7 l-2.4,1.8 M608.4,222.0 l0.9,2.4 M600.4,239.5 l1.2,2.4 M643.4,214.5 l-0.9,-2.7 M648.1,213.3 l-0.6,-2.7 M662.9,237.2 l2.4,1.2 M662.1,247.9 l2.1,1.5 M653.1,247.0 l-1.8,1.8 M636.6,211.2 l0.0,-2.7 M608.6,277.6 l-2.4,1.8 M612.7,282.9 l-2.4,1.5 M639.9,283.4 l2.1,1.5 M649.0,277.8 l2.1,1.5 M618.9,283.9 l-1.8,1.8 M584.2,253.0 l-2.1,1.2 M611.0,273.9 l0.6,-2.1 M569.8,213.9 l-2.4,-0.9 M567.4,226.9 l-2.7,0.3 M660.7,208.6 l-2.4,-1.2 M675.3,212.4 l0.6,-2.7 M661.4,227.9 l-2.1,1.8 M628.0,306.6 l0.0,2.7 M618.7,301.9 l-1.2,2.4 M637.9,300.3 l0.9,2.4 M594.3,215.7 l-1.8,-2.1 M644.0,234.0 l-2.4,0.6 M647.0,241.9 l-2.4,1.2 M624.0,272.1 l0.0,-2.4 M632.3,272.3 l0.0,-2.4 M641.0,272.8 l0.6,-2.4 " stroke="#f5f5f5" stroke-width="1.5" stroke-linecap="round" fill="none"/>
<path d="M600.6,240.4 l-4.0,3.0 M600.6,240.4 l-4.5,-0.5 M612.6,243.6 l-2.0,4.5 M629.3,237.4 l1.0,-4.5 M645.3,230.3 l2.0,-4.0 M626.0,272.9 l-4.0,1.0 M600.6,240.4 l-2.0,-4.0 M617.4,227.5 l-1.0,-4.5 M617.4,227.5 l3.0,-3.0 M639.4,229.3 l-2.0,-4.5 M641.8,250.8 l4.5,0.0 M641.8,250.8 l1.0,4.0 M629.6,267.0 l4.5,0.5 M615.7,253.8 l-4.0,2.5 M615.7,253.8 l-2.0,4.0 M632.5,248.1 l2.0,-4.0 M626.5,256.4 l-3.0,3.0 " stroke="#a3a3a3" stroke-width="2.3" stroke-linecap="round" fill="none"/>
<path d="M612.6,243.6 L619.4,234.9 L629.3,237.4 L632.5,248.1 L626.5,256.4 L615.7,253.8 L612.6,243.6 M600.6,239.6 L612.6,242.8 M600.3,241.4 L612.3,244.6 M629.3,237.4 L639.4,229.3 L645.3,230.3 M632.5,248.1 L641.8,250.8 M626.5,256.4 L629.6,267.0 L626.0,272.9 M619.4,234.9 L617.4,227.5" stroke="#86b0b0" stroke-width="3.4" stroke-linecap="round" stroke-linejoin="round" fill="none"/>
<path d="M612.6,243.6 L619.4,234.9 L629.3,237.4 L632.5,248.1 L626.5,256.4 L615.7,253.8 L612.6,243.6 M600.6,239.6 L612.6,242.8 M600.3,241.4 L612.3,244.6 M629.3,237.4 L639.4,229.3 L645.3,230.3 M632.5,248.1 L641.8,250.8 M626.5,256.4 L629.6,267.0 L626.0,272.9 M619.4,234.9 L617.4,227.5" stroke="#c9e6e6" stroke-width="2.1" stroke-linecap="round" stroke-linejoin="round" fill="none"/>
<path d="M600.6,240.4 l-4.0,3.0 M600.6,240.4 l-4.5,-0.5 M612.6,243.6 l-2.0,4.5 M629.3,237.4 l1.0,-4.5 M645.3,230.3 l2.0,-4.0 M626.0,272.9 l-4.0,1.0 M600.6,240.4 l-2.0,-4.0 M617.4,227.5 l-1.0,-4.5 M617.4,227.5 l3.0,-3.0 M639.4,229.3 l-2.0,-4.5 M641.8,250.8 l4.5,0.0 M641.8,250.8 l1.0,4.0 M629.6,267.0 l4.5,0.5 M615.7,253.8 l-4.0,2.5 M615.7,253.8 l-2.0,4.0 M632.5,248.1 l2.0,-4.0 M626.5,256.4 l-3.0,3.0 " stroke="#f5f5f5" stroke-width="1.2" stroke-linecap="round" fill="none"/>
<circle cx="645.9" cy="230.5" r="1.5" fill="#eab0b0" stroke="#c87878" stroke-width="0.6"/>
<circle cx="626.1" cy="273.9" r="1.5" fill="#eab0b0" stroke="#c87878" stroke-width="0.6"/>
<path d="M620.9,188.4 L630.2,195.0 L627.4,205.9 L616.3,206.0 L612.2,195.2 L620.9,188.4 M593.0,274.4 L586.3,283.2 L575.8,279.1 L575.9,267.6 L586.6,264.7 L593.0,274.4 M676.1,274.9 L666.2,279.6 L658.3,271.2 L663.4,261.3 L674.4,263.5 L676.1,274.9 M617.0,207.9 L611.5,213.7 L607.7,220.0 L601.4,225.8 M589.7,218.2 L601.9,216.7 L607.1,224.0 L599.4,237.5 L587.2,240.2 L582.9,230.4 L589.7,218.2 M599.8,220.6 L589.6,236.1 M594.8,218.8 L586.3,232.7 M587.2,240.2 L585.9,252.0 L589.9,255.8 L585.9,265.4 M583.9,225.8 L573.9,219.6 M583.5,228.8 L574.1,222.8 M574.0,221.2 L571.8,214.7 M574.0,221.2 L567.1,216.1 M574.0,221.2 L569.6,226.7 M593.7,273.9 L601.2,275.8 L610.5,275.7 M610.6,276.1 L647.2,276.6 M614.7,281.7 L638.1,282.1 M616.6,278.9 L643.3,279.4 M610.6,276.1 L614.7,281.7 M638.1,282.1 L647.2,276.6 M647.2,276.6 L648.8,272.2 L658.6,271.4 M626.0,282.4 L627.6,297.6 M629.1,282.3 L630.4,297.1 M628.9,297.5 L628.0,304.3 M628.9,297.5 L619.7,299.9 M628.9,297.5 L637.1,298.3 M661.7,260.0 L659.5,253.2 L660.3,246.6 M644.1,216.7 L654.6,245.5 M648.6,215.5 L660.3,246.6 M654.5,223.6 L660.9,236.2 M644.1,216.7 L648.6,215.5 L654.5,223.6 M654.6,245.5 L660.3,246.6 L660.9,236.2 M644.1,216.7 L636.6,213.4 L633.2,212.3 L627.1,204.6 M655.7,223.5 L667.6,215.3 M657.0,226.5 L668.2,218.6 M667.9,216.9 L674.8,214.6 M667.9,216.9 L662.7,209.6 M667.9,216.9 L663.1,226.4" stroke="#145a55" stroke-width="3.2" stroke-linecap="round" stroke-linejoin="round" fill="none"/>
<path d="M620.9,188.4 L630.2,195.0 L627.4,205.9 L616.3,206.0 L612.2,195.2 L620.9,188.4 M593.0,274.4 L586.3,283.2 L575.8,279.1 L575.9,267.6 L586.6,264.7 L593.0,274.4 M676.1,274.9 L666.2,279.6 L658.3,271.2 L663.4,261.3 L674.4,263.5 L676.1,274.9 M617.0,207.9 L611.5,213.7 L607.7,220.0 L601.4,225.8 M589.7,218.2 L601.9,216.7 L607.1,224.0 L599.4,237.5 L587.2,240.2 L582.9,230.4 L589.7,218.2 M599.8,220.6 L589.6,236.1 M594.8,218.8 L586.3,232.7 M587.2,240.2 L585.9,252.0 L589.9,255.8 L585.9,265.4 M583.9,225.8 L573.9,219.6 M583.5,228.8 L574.1,222.8 M574.0,221.2 L571.8,214.7 M574.0,221.2 L567.1,216.1 M574.0,221.2 L569.6,226.7 M593.7,273.9 L601.2,275.8 L610.5,275.7 M610.6,276.1 L647.2,276.6 M614.7,281.7 L638.1,282.1 M616.6,278.9 L643.3,279.4 M610.6,276.1 L614.7,281.7 M638.1,282.1 L647.2,276.6 M647.2,276.6 L648.8,272.2 L658.6,271.4 M626.0,282.4 L627.6,297.6 M629.1,282.3 L630.4,297.1 M628.9,297.5 L628.0,304.3 M628.9,297.5 L619.7,299.9 M628.9,297.5 L637.1,298.3 M661.7,260.0 L659.5,253.2 L660.3,246.6 M644.1,216.7 L654.6,245.5 M648.6,215.5 L660.3,246.6 M654.5,223.6 L660.9,236.2 M644.1,216.7 L648.6,215.5 L654.5,223.6 M654.6,245.5 L660.3,246.6 L660.9,236.2 M644.1,216.7 L636.6,213.4 L633.2,212.3 L627.1,204.6 M655.7,223.5 L667.6,215.3 M657.0,226.5 L668.2,218.6 M667.9,216.9 L674.8,214.6 M667.9,216.9 L662.7,209.6 M667.9,216.9 L663.1,226.4" stroke="#22877f" stroke-width="1.9" stroke-linecap="round" stroke-linejoin="round" fill="none"/>
<path d="M612.6,212.2 L610.5,215.1 M590.7,254.1 L589.2,257.4 M599.4,275.8 L603.0,275.8 M648.3,274.0 L649.3,270.5 M659.9,255.0 L659.2,251.4 M634.2,213.8 L632.1,210.9 M584.7,226.5 L588.0,227.9 M593.4,230.7 L596.8,231.7 M654.1,224.5 L657.2,222.6 M627.6,285.7 L627.6,289.3 " stroke="#b04848" stroke-width="3.0" stroke-linecap="round" fill="none"/>
<path d="M612.6,212.2 L610.5,215.1 M590.7,254.1 L589.2,257.4 M599.4,275.8 L603.0,275.8 M648.3,274.0 L649.3,270.5 M659.9,255.0 L659.2,251.4 M634.2,213.8 L632.1,210.9 M584.7,226.5 L588.0,227.9 M593.4,230.7 L596.8,231.7 M654.1,224.5 L657.2,222.6 M627.6,285.7 L627.6,289.3 " stroke="#ee8a8a" stroke-width="1.7" stroke-linecap="round" fill="none"/>
<path d="M611.9,236.5 l0.0,-4.5 M604.8,248.0 l-4.5,-1.0 M604.8,257.8 l-3.5,3.5 M611.4,256.1 l0.0,4.5 M626.7,242.5 l0.0,-4.0 M639.5,260.0 l3.0,3.5 " stroke="#8f8f8f" stroke-width="2.4" stroke-linecap="round" fill="none"/>
<path d="M611.9,234.7 l0.0,-2.7 M603.0,247.6 l-2.7,-0.6 M603.4,259.2 l-2.1,2.1 M611.4,257.9 l0.0,2.7 M626.7,240.9 l0.0,-2.4 M640.7,261.4 l1.8,2.1 " stroke="#f2f2f2" stroke-width="1.3" stroke-linecap="round" fill="none"/>
<path d="M611.9,236.5 L618.5,237.0 L619.0,248.5 L611.4,256.1 L604.8,257.8 L604.8,248.0 L611.9,236.5 M619.0,248.5 L620.1,245.8 L626.7,242.5 L635.4,254.5 M618.5,237.0 L620.1,245.8" stroke="#44509a" stroke-width="3.2" stroke-linecap="round" stroke-linejoin="round" fill="none"/>
<path d="M611.9,236.5 L618.5,237.0 L619.0,248.5 L611.4,256.1 L604.8,257.8 L604.8,248.0 L611.9,236.5 M619.0,248.5 L620.1,245.8 L626.7,242.5 L635.4,254.5 M618.5,237.0 L620.1,245.8" stroke="#7484c6" stroke-width="1.9" stroke-linecap="round" stroke-linejoin="round" fill="none"/>
<path d="M611.9,239.5 L616.6,239.9 L617.0,248.2 L611.5,253.6 L606.7,254.9 L606.7,247.8 Z" stroke="#44509a" stroke-width="2.4" fill="none"/>
<path d="M611.9,239.5 L616.6,239.9 L617.0,248.2 L611.5,253.6 L606.7,254.9 L606.7,247.8 Z" stroke="#7484c6" stroke-width="1.3" fill="none"/>
<circle cx="637.1" cy="257.2" r="2.5" fill="#e01810" stroke="#8a0a05" stroke-width="0.7"/>
<path d="M642.0,264.9 L648.0,272.0" stroke="#44aaf0" stroke-width="1" stroke-dasharray="1.2,0.9"/>
<path d="M496.8,356.7 l-2.2,-4.4 M507.1,354.6 l0.0,-5.0 M507.1,354.6 l3.9,-2.8 M513.2,362.3 l5.0,-1.1 M513.2,362.3 l2.2,3.9 M491.8,364.7 l-5.0,1.1 M491.8,364.7 l-2.2,-3.9 M496.8,356.7 l2.2,4.4 M507.6,369.7 l2.8,3.3 M497.3,373.0 l1.7,3.9 M454.4,428.2 l-2.2,-4.4 M449.4,437.5 l-5.0,0.0 M449.4,437.5 l-3.3,-3.3 M456.1,445.5 l-2.2,5.0 M465.0,446.3 l4.4,4.4 M462.5,429.2 l-1.7,-3.9 M469.7,437.3 l1.7,-4.4 M456.1,445.5 l3.3,-3.3 M465.0,446.3 l-2.2,4.4 M550.9,423.2 l2.2,-5.0 M555.7,431.0 l5.0,0.0 M555.7,431.0 l3.3,3.3 M549.5,440.8 l2.2,5.0 M538.0,441.1 l-2.2,5.0 M538.8,422.9 l-2.2,3.9 M550.9,423.2 l-1.1,4.4 M538.0,441.1 l3.3,-3.3 M451.5,380.2 l-2.2,-4.4 M451.5,380.2 l2.8,-3.9 M446.8,381.7 l-5.0,0.0 M446.8,381.7 l-3.3,-3.3 M448.6,391.8 l-3.3,3.3 M448.6,391.8 l1.1,5.0 M446.8,381.7 l-3.3,3.3 M554.8,378.8 l3.3,-3.9 M554.8,378.8 l3.3,3.3 M554.8,378.8 l5.0,0.0 M543.0,374.1 l-1.1,-5.0 M543.0,374.1 l3.3,-3.9 M542.3,390.4 l0.0,5.0 M542.3,390.4 l3.3,3.9 M502.2,466.3 l-3.3,3.3 M502.2,466.3 l3.3,3.3 M494.2,462.1 l-5.0,1.1 M494.2,462.1 l-3.3,-3.3 M511.7,460.3 l5.0,1.7 M511.7,460.3 l3.3,-3.3 M469.2,383.3 l-1.1,-5.0 M475.4,382.6 l0.0,-5.0 M481.6,381.8 l1.1,-5.0 M461.7,395.3 l-5.0,2.2 M465.4,404.7 l-4.4,3.3 M487.1,384.9 l1.7,4.4 M477.8,401.9 l2.2,4.4 M523.9,381.2 l-1.7,-5.0 M528.4,380.0 l-1.1,-5.0 M539.4,399.8 l4.4,2.2 M538.2,410.0 l3.9,2.8 M532.5,409.0 l-3.3,3.3 M516.6,378.1 l0.0,-5.0 M486.5,439.2 l-4.4,3.3 M490.2,444.5 l-4.4,2.8 M513.7,444.6 l3.9,2.8 M523.1,439.2 l3.9,2.8 M495.9,445.2 l-3.3,3.3 M463.3,416.2 l-3.9,2.2 M486.5,438.8 l1.1,-3.9 M451.5,380.2 l-4.4,-1.7 M448.6,391.8 l-5.0,0.6 M543.0,374.1 l-4.4,-2.2 M554.8,378.8 l1.1,-5.0 M542.3,390.4 l-3.9,3.3 M502.2,466.3 l0.0,5.0 M494.2,462.1 l-2.2,4.4 M511.7,460.3 l1.7,4.4 M475.4,382.6 l-3.3,-3.9 M524.7,397.4 l-4.4,1.1 M527.2,404.5 l-4.4,2.2 M500.1,437.1 l0.0,-4.4 M508.3,437.1 l0.0,-4.4 M516.6,437.5 l1.1,-4.4 " stroke="#979797" stroke-width="2.7" stroke-linecap="round" fill="none"/>
<path d="M496.8,356.7 l-0.9,-1.8 M507.1,354.6 l0.0,-2.0 M507.1,354.6 l1.6,-1.1 M513.2,362.3 l2.0,-0.5 M513.2,362.3 l0.9,1.6 M491.8,364.7 l-2.0,0.5 M491.8,364.7 l-0.9,-1.6 M496.8,356.7 l0.9,1.8 M507.6,369.7 l1.1,1.4 M497.3,373.0 l0.7,1.6 M454.4,428.2 l-0.9,-1.8 M449.4,437.5 l-2.0,0.0 M449.4,437.5 l-1.4,-1.4 M456.1,445.5 l-0.9,2.0 M465.0,446.3 l1.8,1.8 M462.5,429.2 l-0.7,-1.6 M469.7,437.3 l0.7,-1.8 M456.1,445.5 l1.4,-1.4 M465.0,446.3 l-0.9,1.8 M550.9,423.2 l0.9,-2.0 M555.7,431.0 l2.0,0.0 M555.7,431.0 l1.4,1.4 M549.5,440.8 l0.9,2.0 M538.0,441.1 l-0.9,2.0 M538.8,422.9 l-0.9,1.6 M550.9,423.2 l-0.5,1.8 M538.0,441.1 l1.4,-1.4 M451.5,380.2 l-0.9,-1.8 M451.5,380.2 l1.1,-1.6 M446.8,381.7 l-2.0,0.0 M446.8,381.7 l-1.4,-1.4 M448.6,391.8 l-1.4,1.4 M448.6,391.8 l0.5,2.0 M446.8,381.7 l-1.4,1.4 M554.8,378.8 l1.4,-1.6 M554.8,378.8 l1.4,1.4 M554.8,378.8 l2.0,0.0 M543.0,374.1 l-0.5,-2.0 M543.0,374.1 l1.4,-1.6 M542.3,390.4 l0.0,2.0 M542.3,390.4 l1.4,1.6 M502.2,466.3 l-1.4,1.4 M502.2,466.3 l1.4,1.4 M494.2,462.1 l-2.0,0.5 M494.2,462.1 l-1.4,-1.4 M511.7,460.3 l2.0,0.7 M511.7,460.3 l1.4,-1.4 M469.2,383.3 l-0.5,-2.0 M475.4,382.6 l0.0,-2.0 M481.6,381.8 l0.5,-2.0 M461.7,395.3 l-2.0,0.9 M465.4,404.7 l-1.8,1.4 M487.1,384.9 l0.7,1.8 M477.8,401.9 l0.9,1.8 M523.9,381.2 l-0.7,-2.0 M528.4,380.0 l-0.5,-2.0 M539.4,399.8 l1.8,0.9 M538.2,410.0 l1.6,1.1 M532.5,409.0 l-1.4,1.4 M516.6,378.1 l0.0,-2.0 M486.5,439.2 l-1.8,1.4 M490.2,444.5 l-1.8,1.1 M513.7,444.6 l1.6,1.1 M523.1,439.2 l1.6,1.1 M495.9,445.2 l-1.4,1.4 M463.3,416.2 l-1.6,0.9 M486.5,438.8 l0.5,-1.6 M451.5,380.2 l-1.8,-0.7 M448.6,391.8 l-2.0,0.2 M543.0,374.1 l-1.8,-0.9 M554.8,378.8 l0.5,-2.0 M542.3,390.4 l-1.6,1.4 M502.2,466.3 l0.0,2.0 M494.2,462.1 l-0.9,1.8 M511.7,460.3 l0.7,1.8 M475.4,382.6 l-1.4,-1.6 M524.7,397.4 l-1.8,0.5 M527.2,404.5 l-1.8,0.9 M500.1,437.1 l0.0,-1.8 M508.3,437.1 l0.0,-1.8 M516.6,437.5 l0.5,-1.8 " stroke="#7a6036" stroke-width="2.7" stroke-linecap="round" fill="none"/>
<path d="M496.8,356.7 l-0.9,-1.8 M507.1,354.6 l0.0,-2.0 M507.1,354.6 l1.6,-1.1 M513.2,362.3 l2.0,-0.5 M513.2,362.3 l0.9,1.6 M491.8,364.7 l-2.0,0.5 M491.8,364.7 l-0.9,-1.6 M496.8,356.7 l0.9,1.8 M507.6,369.7 l1.1,1.4 M497.3,373.0 l0.7,1.6 M454.4,428.2 l-0.9,-1.8 M449.4,437.5 l-2.0,0.0 M449.4,437.5 l-1.4,-1.4 M456.1,445.5 l-0.9,2.0 M465.0,446.3 l1.8,1.8 M462.5,429.2 l-0.7,-1.6 M469.7,437.3 l0.7,-1.8 M456.1,445.5 l1.4,-1.4 M465.0,446.3 l-0.9,1.8 M550.9,423.2 l0.9,-2.0 M555.7,431.0 l2.0,0.0 M555.7,431.0 l1.4,1.4 M549.5,440.8 l0.9,2.0 M538.0,441.1 l-0.9,2.0 M538.8,422.9 l-0.9,1.6 M550.9,423.2 l-0.5,1.8 M538.0,441.1 l1.4,-1.4 M451.5,380.2 l-0.9,-1.8 M451.5,380.2 l1.1,-1.6 M446.8,381.7 l-2.0,0.0 M446.8,381.7 l-1.4,-1.4 M448.6,391.8 l-1.4,1.4 M448.6,391.8 l0.5,2.0 M446.8,381.7 l-1.4,1.4 M554.8,378.8 l1.4,-1.6 M554.8,378.8 l1.4,1.4 M554.8,378.8 l2.0,0.0 M543.0,374.1 l-0.5,-2.0 M543.0,374.1 l1.4,-1.6 M542.3,390.4 l0.0,2.0 M542.3,390.4 l1.4,1.6 M502.2,466.3 l-1.4,1.4 M502.2,466.3 l1.4,1.4 M494.2,462.1 l-2.0,0.5 M494.2,462.1 l-1.4,-1.4 M511.7,460.3 l2.0,0.7 M511.7,460.3 l1.4,-1.4 M469.2,383.3 l-0.5,-2.0 M475.4,382.6 l0.0,-2.0 M481.6,381.8 l0.5,-2.0 M461.7,395.3 l-2.0,0.9 M465.4,404.7 l-1.8,1.4 M487.1,384.9 l0.7,1.8 M477.8,401.9 l0.9,1.8 M523.9,381.2 l-0.7,-2.0 M528.4,380.0 l-0.5,-2.0 M539.4,399.8 l1.8,0.9 M538.2,410.0 l1.6,1.1 M532.5,409.0 l-1.4,1.4 M516.6,378.1 l0.0,-2.0 M486.5,439.2 l-1.8,1.4 M490.2,444.5 l-1.8,1.1 M513.7,444.6 l1.6,1.1 M523.1,439.2 l1.6,1.1 M495.9,445.2 l-1.4,1.4 M463.3,416.2 l-1.6,0.9 M486.5,438.8 l0.5,-1.6 M451.5,380.2 l-1.8,-0.7 M448.6,391.8 l-2.0,0.2 M543.0,374.1 l-1.8,-0.9 M554.8,378.8 l0.5,-2.0 M542.3,390.4 l-1.6,1.4 M502.2,466.3 l0.0,2.0 M494.2,462.1 l-0.9,1.8 M511.7,460.3 l0.7,1.8 M475.4,382.6 l-1.4,-1.6 M524.7,397.4 l-1.8,0.5 M527.2,404.5 l-1.8,0.9 M500.1,437.1 l0.0,-1.8 M508.3,437.1 l0.0,-1.8 M516.6,437.5 l0.5,-1.8 " stroke="#b69a6a" stroke-width="1.5" stroke-linecap="round" fill="none"/>
<path d="M495.8,354.7 l-1.2,-2.4 M507.1,352.3 l0.0,-2.7 M508.9,353.3 l2.1,-1.5 M515.5,361.8 l2.7,-0.6 M514.2,364.1 l1.2,2.1 M489.5,365.2 l-2.7,0.6 M490.8,362.9 l-1.2,-2.1 M497.8,358.7 l1.2,2.4 M508.8,371.2 l1.5,1.8 M498.0,374.8 l0.9,2.1 M453.4,426.2 l-1.2,-2.4 M447.1,437.5 l-2.7,0.0 M447.9,436.0 l-1.8,-1.8 M455.1,447.7 l-1.2,2.7 M467.0,448.3 l2.4,2.4 M461.7,427.4 l-0.9,-2.1 M470.4,435.3 l0.9,-2.4 M457.6,444.0 l1.8,-1.8 M464.0,448.3 l-1.2,2.4 M551.9,421.0 l1.2,-2.7 M557.9,431.0 l2.7,0.0 M557.2,432.5 l1.8,1.8 M550.5,443.1 l1.2,2.7 M537.0,443.4 l-1.2,2.7 M537.8,424.7 l-1.2,2.1 M550.4,425.2 l-0.6,2.4 M539.5,439.6 l1.8,-1.8 M450.5,378.2 l-1.2,-2.4 M452.8,378.5 l1.5,-2.1 M444.5,381.7 l-2.7,0.0 M445.3,380.2 l-1.8,-1.8 M447.1,393.3 l-1.8,1.8 M449.1,394.1 l0.6,2.7 M445.3,383.2 l-1.8,1.8 M556.3,377.1 l1.8,-2.1 M556.3,380.3 l1.8,1.8 M557.0,378.8 l2.7,0.0 M542.5,371.9 l-0.6,-2.7 M544.5,372.4 l1.8,-2.1 M542.3,392.6 l0.0,2.7 M543.8,392.1 l1.8,2.1 M500.7,467.8 l-1.8,1.8 M503.7,467.8 l1.8,1.8 M491.9,462.6 l-2.7,0.6 M492.7,460.6 l-1.8,-1.8 M513.9,461.0 l2.7,0.9 M513.2,458.8 l1.8,-1.8 M468.7,381.1 l-0.6,-2.7 M475.4,380.3 l0.0,-2.7 M482.1,379.6 l0.6,-2.7 M459.4,396.3 l-2.7,1.2 M463.4,406.2 l-2.4,1.8 M487.9,386.9 l0.9,2.4 M478.8,403.9 l1.2,2.4 M523.1,379.0 l-0.9,-2.7 M527.9,377.7 l-0.6,-2.7 M541.4,400.8 l2.4,1.2 M539.9,411.2 l2.1,1.5 M531.0,410.5 l-1.8,1.8 M516.6,375.9 l0.0,-2.7 M484.5,440.7 l-2.4,1.8 M488.2,445.7 l-2.4,1.5 M515.5,445.9 l2.1,1.5 M524.9,440.4 l2.1,1.5 M494.4,446.7 l-1.8,1.8 M461.6,417.2 l-2.1,1.2 M487.0,437.0 l0.6,-2.1 M449.5,379.5 l-2.4,-0.9 M446.4,392.1 l-2.7,0.3 M541.0,373.1 l-2.4,-1.2 M555.3,376.6 l0.6,-2.7 M540.6,391.9 l-2.1,1.8 M502.2,468.5 l0.0,2.7 M493.2,464.1 l-1.2,2.4 M512.4,462.3 l0.9,2.4 M473.9,380.8 l-1.8,-2.1 M522.7,397.9 l-2.4,0.6 M525.2,405.5 l-2.4,1.2 M500.1,435.1 l0.0,-2.4 M508.3,435.1 l0.0,-2.4 M517.1,435.5 l0.6,-2.4 " stroke="#f5f5f5" stroke-width="1.5" stroke-linecap="round" fill="none"/>
<path d="M478.8,404.8 l-4.0,3.0 M478.8,404.8 l-4.5,-0.5 M490.6,407.7 l-2.0,4.5 M507.7,401.5 l1.0,-4.5 M524.2,394.4 l2.0,-4.0 M502.2,435.8 l-4.0,1.0 M478.8,404.8 l-2.0,-4.0 M496.4,392.0 l-1.0,-4.5 M496.4,392.0 l3.0,-3.0 M518.4,393.4 l-2.0,-4.5 M519.4,414.2 l4.5,0.0 M519.4,414.2 l1.0,4.0 M506.1,430.1 l4.5,0.5 M493.1,417.5 l-4.0,2.5 M493.1,417.5 l-2.0,4.0 M510.2,411.8 l2.0,-4.0 M503.7,419.8 l-3.0,3.0 " stroke="#a3a3a3" stroke-width="2.3" stroke-linecap="round" fill="none"/>
<path d="M490.6,407.7 L497.9,399.2 L507.7,401.5 L510.2,411.8 L503.7,419.8 L493.1,417.5 L490.6,407.7 M478.8,403.9 L490.6,406.9 M478.4,405.7 L490.2,408.6 M507.7,401.5 L518.4,393.4 L524.2,394.4 M510.2,411.8 L519.4,414.2 M503.7,419.8 L506.1,430.1 L502.2,435.8 M497.9,399.2 L496.4,392.0" stroke="#b8a888" stroke-width="3.4" stroke-linecap="round" stroke-linejoin="round" fill="none"/>
<path d="M490.6,407.7 L497.9,399.2 L507.7,401.5 L510.2,411.8 L503.7,419.8 L493.1,417.5 L490.6,407.7 M478.8,403.9 L490.6,406.9 M478.4,405.7 L490.2,408.6 M507.7,401.5 L518.4,393.4 L524.2,394.4 M510.2,411.8 L519.4,414.2 M503.7,419.8 L506.1,430.1 L502.2,435.8 M497.9,399.2 L496.4,392.0" stroke="#efe4d2" stroke-width="2.1" stroke-linecap="round" stroke-linejoin="round" fill="none"/>
<path d="M478.8,404.8 l-4.0,3.0 M478.8,404.8 l-4.5,-0.5 M490.6,407.7 l-2.0,4.5 M507.7,401.5 l1.0,-4.5 M524.2,394.4 l2.0,-4.0 M502.2,435.8 l-4.0,1.0 M478.8,404.8 l-2.0,-4.0 M496.4,392.0 l-1.0,-4.5 M496.4,392.0 l3.0,-3.0 M518.4,393.4 l-2.0,-4.5 M519.4,414.2 l4.5,0.0 M519.4,414.2 l1.0,4.0 M506.1,430.1 l4.5,0.5 M493.1,417.5 l-4.0,2.5 M493.1,417.5 l-2.0,4.0 M510.2,411.8 l2.0,-4.0 M503.7,419.8 l-3.0,3.0 " stroke="#f5f5f5" stroke-width="1.2" stroke-linecap="round" fill="none"/>
<circle cx="524.7" cy="394.6" r="1.5" fill="#eab0b0" stroke="#c87878" stroke-width="0.6"/>
<circle cx="502.1" cy="436.8" r="1.5" fill="#eab0b0" stroke="#c87878" stroke-width="0.6"/>
<path d="M496.8,356.7 L507.1,354.6 L513.2,362.3 L507.6,369.7 L497.3,373.0 L491.8,364.7 L496.8,356.7 M454.4,428.2 L462.5,429.2 L469.7,437.3 L465.0,446.3 L456.1,445.5 L449.4,437.5 L454.4,428.2 M538.5,424.0 L550.3,423.7 L553.6,431.1 L549.3,441.3 L537.9,441.5 L535.1,434.1 L538.5,424.0 M497.3,373.0 L491.4,378.7 L487.1,384.9 L480.5,390.6 M469.2,383.3 L481.6,381.8 L486.4,388.7 L477.8,401.9 L465.4,404.7 L461.7,395.3 L469.2,383.3 M479.2,385.5 L468.0,400.7 M474.4,383.9 L464.9,397.4 M465.4,404.7 L463.3,416.2 L467.1,419.8 L462.5,429.2 M463.0,390.9 L453.3,385.0 M462.4,393.7 L453.3,388.0 M453.3,386.5 L451.5,380.2 M453.3,386.5 L446.8,381.7 M453.3,386.5 L448.6,391.8 M469.7,437.3 L477.1,439.0 L486.5,438.8 M486.5,439.2 L523.1,439.2 M490.2,444.5 L513.7,444.6 M492.3,441.8 L519.1,441.9 M486.5,439.2 L490.2,444.5 M513.7,444.6 L523.1,439.2 M523.1,439.2 L525.0,434.9 L534.9,434.0 M501.5,445.0 L502.2,459.7 M504.6,444.9 L505.0,459.2 M503.5,459.7 L502.2,466.3 M503.5,459.7 L494.2,462.1 M503.5,459.7 L511.7,460.3 M538.8,422.9 L537.0,416.3 L538.2,410.0 M523.9,381.2 L532.5,409.0 M528.4,380.0 L538.2,410.0 M533.9,387.7 L539.4,399.8 M523.9,381.2 L528.4,380.0 L533.9,387.7 M532.5,409.0 L538.2,410.0 L539.4,399.8 M523.9,381.2 L516.6,378.1 L513.2,377.1 L507.6,369.7 M535.0,387.7 L547.5,379.5 M536.1,390.5 L547.9,382.8 M547.7,381.1 L554.8,378.8 M547.7,381.1 L543.0,374.1 M547.7,381.1 L542.3,390.4" stroke="#7a6036" stroke-width="3.2" stroke-linecap="round" stroke-linejoin="round" fill="none"/>
<path d="M496.8,356.7 L507.1,354.6 L513.2,362.3 L507.6,369.7 L497.3,373.0 L491.8,364.7 L496.8,356.7 M454.4,428.2 L462.5,429.2 L469.7,437.3 L465.0,446.3 L456.1,445.5 L449.4,437.5 L454.4,428.2 M538.5,424.0 L550.3,423.7 L553.6,431.1 L549.3,441.3 L537.9,441.5 L535.1,434.1 L538.5,424.0 M497.3,373.0 L491.4,378.7 L487.1,384.9 L480.5,390.6 M469.2,383.3 L481.6,381.8 L486.4,388.7 L477.8,401.9 L465.4,404.7 L461.7,395.3 L469.2,383.3 M479.2,385.5 L468.0,400.7 M474.4,383.9 L464.9,397.4 M465.4,404.7 L463.3,416.2 L467.1,419.8 L462.5,429.2 M463.0,390.9 L453.3,385.0 M462.4,393.7 L453.3,388.0 M453.3,386.5 L451.5,380.2 M453.3,386.5 L446.8,381.7 M453.3,386.5 L448.6,391.8 M469.7,437.3 L477.1,439.0 L486.5,438.8 M486.5,439.2 L523.1,439.2 M490.2,444.5 L513.7,444.6 M492.3,441.8 L519.1,441.9 M486.5,439.2 L490.2,444.5 M513.7,444.6 L523.1,439.2 M523.1,439.2 L525.0,434.9 L534.9,434.0 M501.5,445.0 L502.2,459.7 M504.6,444.9 L505.0,459.2 M503.5,459.7 L502.2,466.3 M503.5,459.7 L494.2,462.1 M503.5,459.7 L511.7,460.3 M538.8,422.9 L537.0,416.3 L538.2,410.0 M523.9,381.2 L532.5,409.0 M528.4,380.0 L538.2,410.0 M533.9,387.7 L539.4,399.8 M523.9,381.2 L528.4,380.0 L533.9,387.7 M532.5,409.0 L538.2,410.0 L539.4,399.8 M523.9,381.2 L516.6,378.1 L513.2,377.1 L507.6,369.7 M535.0,387.7 L547.5,379.5 M536.1,390.5 L547.9,382.8 M547.7,381.1 L554.8,378.8 M547.7,381.1 L543.0,374.1 M547.7,381.1 L542.3,390.4" stroke="#b69a6a" stroke-width="1.9" stroke-linecap="round" stroke-linejoin="round" fill="none"/>
<path d="M492.5,377.3 L490.3,380.1 M467.8,418.1 L466.4,421.4 M475.3,439.0 L478.9,439.0 M524.5,436.6 L525.6,433.2 M537.3,418.1 L536.6,414.6 M514.3,378.6 L512.1,375.7 M463.6,391.5 L467.0,392.8 M472.1,395.4 L475.6,396.4 M533.5,388.6 L536.6,386.8 M502.8,448.2 L502.8,451.8 " stroke="#b04848" stroke-width="3.0" stroke-linecap="round" fill="none"/>
<path d="M492.5,377.3 L490.3,380.1 M467.8,418.1 L466.4,421.4 M475.3,439.0 L478.9,439.0 M524.5,436.6 L525.6,433.2 M537.3,418.1 L536.6,414.6 M514.3,378.6 L512.1,375.7 M463.6,391.5 L467.0,392.8 M472.1,395.4 L475.6,396.4 M533.5,388.6 L536.6,386.8 M502.8,448.2 L502.8,451.8 " stroke="#ee8a8a" stroke-width="1.7" stroke-linecap="round" fill="none"/>
<path d="M480.9,421.2 l-4.5,0.5 M486.9,428.3 l-1.0,4.5 M496.8,426.7 l2.5,4.0 M494.6,409.2 l1.0,-4.5 M522.0,420.0 l4.0,1.0 M514.0,425.0 l1.5,4.0 " stroke="#8f8f8f" stroke-width="2.4" stroke-linecap="round" fill="none"/>
<path d="M479.1,421.4 l-2.7,0.3 M486.5,430.1 l-0.6,2.7 M497.8,428.3 l1.5,2.4 M495.0,407.4 l0.6,-2.7 M523.6,420.4 l2.4,0.6 M514.6,426.6 l0.9,2.4 " stroke="#f2f2f2" stroke-width="1.3" stroke-linecap="round" fill="none"/>
<path d="M484.5,408.9 L495.2,408.4 L499.8,417.1 L496.8,427.8 L487.1,430.4 L480.4,421.7 L484.5,408.9 M500.1,417.4 L508.8,416.3 L512.1,416.9 M508.8,416.3 L503.3,410.8 M512.1,416.9 L520.3,421.2 L516.0,424.0 L511.5,422.3 L512.1,416.9 M505.0,435.4 L507.0,431.0" stroke="#7e0c08" stroke-width="3.2" stroke-linecap="round" stroke-linejoin="round" fill="none"/>
<path d="M484.5,408.9 L495.2,408.4 L499.8,417.1 L496.8,427.8 L487.1,430.4 L480.4,421.7 L484.5,408.9 M500.1,417.4 L508.8,416.3 L512.1,416.9 M508.8,416.3 L503.3,410.8 M512.1,416.9 L520.3,421.2 L516.0,424.0 L511.5,422.3 L512.1,416.9 M505.0,435.4 L507.0,431.0" stroke="#c8221a" stroke-width="1.9" stroke-linecap="round" stroke-linejoin="round" fill="none"/>
<path d="M485.7,410.9 L494.3,410.5 L498.0,417.5 L495.6,426.1 L487.8,428.1 L482.4,421.2 Z" stroke="#7e0c08" stroke-width="2.4" fill="none"/>
<path d="M485.7,410.9 L494.3,410.5 L498.0,417.5 L495.6,426.1 L487.8,428.1 L482.4,421.2 Z" stroke="#c8221a" stroke-width="1.3" fill="none"/>
<circle cx="503.3" cy="410.8" r="2.3" fill="#e01810" stroke="#8a0a05" stroke-width="0.7"/>
<circle cx="505.0" cy="435.4" r="1.8" fill="#e01810" stroke="#8a0a05" stroke-width="0.7"/>
<circle cx="519.5" cy="421.5" r="1.4" fill="#e01810" stroke="#8a0a05" stroke-width="0.7"/>
<path d="M506.5,432.0 L513.7,427.8" stroke="#ee2a26" stroke-width="1" stroke-dasharray="1.2,0.9"/>
<path d="M620.0,351.5 l-2.2,-4.4 M630.1,349.7 l0.0,-5.0 M630.1,349.7 l3.9,-2.8 M636.2,357.9 l5.0,-1.1 M636.2,357.9 l2.2,3.9 M615.2,359.5 l-5.0,1.1 M615.2,359.5 l-2.2,-3.9 M620.0,351.5 l2.2,4.4 M630.8,365.3 l2.8,3.3 M620.7,368.3 l1.7,3.9 M579.8,423.6 l-2.2,-4.4 M575.0,433.0 l-5.0,0.0 M575.0,433.0 l-3.3,-3.3 M581.7,441.5 l-2.2,5.0 M590.4,442.7 l4.4,4.4 M587.6,424.9 l-1.7,-3.9 M594.9,433.6 l1.7,-4.4 M581.7,441.5 l3.3,-3.3 M590.4,442.7 l-2.2,4.4 M674.1,422.2 l2.2,-5.0 M678.9,430.4 l5.0,0.0 M678.9,430.4 l3.3,3.3 M673.0,440.3 l2.2,5.0 M661.7,440.2 l-2.2,5.0 M662.2,421.4 l-2.2,3.9 M674.1,422.2 l-1.1,4.4 M661.7,440.2 l3.3,-3.3 M576.1,374.0 l-2.2,-4.4 M576.1,374.0 l2.8,-3.9 M571.5,375.3 l-5.0,0.0 M571.5,375.3 l-3.3,-3.3 M573.5,385.9 l-3.3,3.3 M573.5,385.9 l1.1,5.0 M571.5,375.3 l-3.3,3.3 M677.1,376.5 l3.3,-3.9 M677.1,376.5 l3.3,3.3 M677.1,376.5 l5.0,0.0 M665.5,371.2 l-1.1,-5.0 M665.5,371.2 l3.3,-3.9 M665.1,388.0 l0.0,5.0 M665.1,388.0 l3.3,3.9 M627.1,464.7 l-3.3,3.3 M627.1,464.7 l3.3,3.3 M619.2,460.1 l-5.0,1.1 M619.2,460.1 l-3.3,-3.3 M636.4,458.9 l5.0,1.7 M636.4,458.9 l3.3,-3.3 M593.5,377.9 l-1.1,-5.0 M599.5,377.3 l0.0,-5.0 M605.6,376.8 l1.1,-5.0 M586.3,389.9 l-5.0,2.2 M590.1,399.8 l-4.4,3.3 M611.0,380.2 l1.7,4.4 M602.2,397.4 l2.2,4.4 M646.9,377.8 l-1.7,-5.0 M651.3,376.7 l-1.1,-5.0 M662.5,397.6 l4.4,2.2 M661.4,408.0 l3.9,2.8 M655.9,406.8 l-3.3,3.3 M639.7,374.4 l0.0,-5.0 M611.3,436.2 l-4.4,3.3 M615.1,441.8 l-4.4,2.8 M638.1,442.8 l3.9,2.8 M647.2,437.6 l3.9,2.8 M620.6,442.7 l-3.3,3.3 M588.3,411.6 l-3.9,2.2 M611.3,435.8 l1.1,-3.9 M576.1,374.0 l-4.4,-1.7 M573.5,385.9 l-5.0,0.6 M665.5,371.2 l-4.4,-2.2 M677.1,376.5 l1.1,-5.0 M665.1,388.0 l-3.9,3.3 M627.1,464.7 l0.0,5.0 M619.2,460.1 l-2.2,4.4 M636.4,458.9 l1.7,4.4 M599.5,377.3 l-3.3,-3.9 M648.0,394.6 l-4.4,1.1 M650.6,402.0 l-4.4,2.2 M624.6,434.5 l0.0,-4.4 M632.7,434.9 l0.0,-4.4 M640.7,435.6 l1.1,-4.4 " stroke="#979797" stroke-width="2.7" stroke-linecap="round" fill="none"/>
<path d="M620.0,351.5 l-0.9,-1.8 M630.1,349.7 l0.0,-2.0 M630.1,349.7 l1.6,-1.1 M636.2,357.9 l2.0,-0.5 M636.2,357.9 l0.9,1.6 M615.2,359.5 l-2.0,0.5 M615.2,359.5 l-0.9,-1.6 M620.0,351.5 l0.9,1.8 M630.8,365.3 l1.1,1.4 M620.7,368.3 l0.7,1.6 M579.8,423.6 l-0.9,-1.8 M575.0,433.0 l-2.0,0.0 M575.0,433.0 l-1.4,-1.4 M581.7,441.5 l-0.9,2.0 M590.4,442.7 l1.8,1.8 M587.6,424.9 l-0.7,-1.6 M594.9,433.6 l0.7,-1.8 M581.7,441.5 l1.4,-1.4 M590.4,442.7 l-0.9,1.8 M674.1,422.2 l0.9,-2.0 M678.9,430.4 l2.0,0.0 M678.9,430.4 l1.4,1.4 M673.0,440.3 l0.9,2.0 M661.7,440.2 l-0.9,2.0 M662.2,421.4 l-0.9,1.6 M674.1,422.2 l-0.5,1.8 M661.7,440.2 l1.4,-1.4 M576.1,374.0 l-0.9,-1.8 M576.1,374.0 l1.1,-1.6 M571.5,375.3 l-2.0,0.0 M571.5,375.3 l-1.4,-1.4 M573.5,385.9 l-1.4,1.4 M573.5,385.9 l0.5,2.0 M571.5,375.3 l-1.4,1.4 M677.1,376.5 l1.4,-1.6 M677.1,376.5 l1.4,1.4 M677.1,376.5 l2.0,0.0 M665.5,371.2 l-0.5,-2.0 M665.5,371.2 l1.4,-1.6 M665.1,388.0 l0.0,2.0 M665.1,388.0 l1.4,1.6 M627.1,464.7 l-1.4,1.4 M627.1,464.7 l1.4,1.4 M619.2,460.1 l-2.0,0.5 M619.2,460.1 l-1.4,-1.4 M636.4,458.9 l2.0,0.7 M636.4,458.9 l1.4,-1.4 M593.5,377.9 l-0.5,-2.0 M599.5,377.3 l0.0,-2.0 M605.6,376.8 l0.5,-2.0 M586.3,389.9 l-2.0,0.9 M590.1,399.8 l-1.8,1.4 M611.0,380.2 l0.7,1.8 M602.2,397.4 l0.9,1.8 M646.9,377.8 l-0.7,-2.0 M651.3,376.7 l-0.5,-2.0 M662.5,397.6 l1.8,0.9 M661.4,408.0 l1.6,1.1 M655.9,406.8 l-1.4,1.4 M639.7,374.4 l0.0,-2.0 M611.3,436.2 l-1.8,1.4 M615.1,441.8 l-1.8,1.1 M638.1,442.8 l1.6,1.1 M647.2,437.6 l1.6,1.1 M620.6,442.7 l-1.4,1.4 M588.3,411.6 l-1.6,0.9 M611.3,435.8 l0.5,-1.6 M576.1,374.0 l-1.8,-0.7 M573.5,385.9 l-2.0,0.2 M665.5,371.2 l-1.8,-0.9 M677.1,376.5 l0.5,-2.0 M665.1,388.0 l-1.6,1.4 M627.1,464.7 l0.0,2.0 M619.2,460.1 l-0.9,1.8 M636.4,458.9 l0.7,1.8 M599.5,377.3 l-1.4,-1.6 M648.0,394.6 l-1.8,0.5 M650.6,402.0 l-1.8,0.9 M624.6,434.5 l0.0,-1.8 M632.7,434.9 l0.0,-1.8 M640.7,435.6 l0.5,-1.8 " stroke="#7a6036" stroke-width="2.7" stroke-linecap="round" fill="none"/>
<path d="M620.0,351.5 l-0.9,-1.8 M630.1,349.7 l0.0,-2.0 M630.1,349.7 l1.6,-1.1 M636.2,357.9 l2.0,-0.5 M636.2,357.9 l0.9,1.6 M615.2,359.5 l-2.0,0.5 M615.2,359.5 l-0.9,-1.6 M620.0,351.5 l0.9,1.8 M630.8,365.3 l1.1,1.4 M620.7,368.3 l0.7,1.6 M579.8,423.6 l-0.9,-1.8 M575.0,433.0 l-2.0,0.0 M575.0,433.0 l-1.4,-1.4 M581.7,441.5 l-0.9,2.0 M590.4,442.7 l1.8,1.8 M587.6,424.9 l-0.7,-1.6 M594.9,433.6 l0.7,-1.8 M581.7,441.5 l1.4,-1.4 M590.4,442.7 l-0.9,1.8 M674.1,422.2 l0.9,-2.0 M678.9,430.4 l2.0,0.0 M678.9,430.4 l1.4,1.4 M673.0,440.3 l0.9,2.0 M661.7,440.2 l-0.9,2.0 M662.2,421.4 l-0.9,1.6 M674.1,422.2 l-0.5,1.8 M661.7,440.2 l1.4,-1.4 M576.1,374.0 l-0.9,-1.8 M576.1,374.0 l1.1,-1.6 M571.5,375.3 l-2.0,0.0 M571.5,375.3 l-1.4,-1.4 M573.5,385.9 l-1.4,1.4 M573.5,385.9 l0.5,2.0 M571.5,375.3 l-1.4,1.4 M677.1,376.5 l1.4,-1.6 M677.1,376.5 l1.4,1.4 M677.1,376.5 l2.0,0.0 M665.5,371.2 l-0.5,-2.0 M665.5,371.2 l1.4,-1.6 M665.1,388.0 l0.0,2.0 M665.1,388.0 l1.4,1.6 M627.1,464.7 l-1.4,1.4 M627.1,464.7 l1.4,1.4 M619.2,460.1 l-2.0,0.5 M619.2,460.1 l-1.4,-1.4 M636.4,458.9 l2.0,0.7 M636.4,458.9 l1.4,-1.4 M593.5,377.9 l-0.5,-2.0 M599.5,377.3 l0.0,-2.0 M605.6,376.8 l0.5,-2.0 M586.3,389.9 l-2.0,0.9 M590.1,399.8 l-1.8,1.4 M611.0,380.2 l0.7,1.8 M602.2,397.4 l0.9,1.8 M646.9,377.8 l-0.7,-2.0 M651.3,376.7 l-0.5,-2.0 M662.5,397.6 l1.8,0.9 M661.4,408.0 l1.6,1.1 M655.9,406.8 l-1.4,1.4 M639.7,374.4 l0.0,-2.0 M611.3,436.2 l-1.8,1.4 M615.1,441.8 l-1.8,1.1 M638.1,442.8 l1.6,1.1 M647.2,437.6 l1.6,1.1 M620.6,442.7 l-1.4,1.4 M588.3,411.6 l-1.6,0.9 M611.3,435.8 l0.5,-1.6 M576.1,374.0 l-1.8,-0.7 M573.5,385.9 l-2.0,0.2 M665.5,371.2 l-1.8,-0.9 M677.1,376.5 l0.5,-2.0 M665.1,388.0 l-1.6,1.4 M627.1,464.7 l0.0,2.0 M619.2,460.1 l-0.9,1.8 M636.4,458.9 l0.7,1.8 M599.5,377.3 l-1.4,-1.6 M648.0,394.6 l-1.8,0.5 M650.6,402.0 l-1.8,0.9 M624.6,434.5 l0.0,-1.8 M632.7,434.9 l0.0,-1.8 M640.7,435.6 l0.5,-1.8 " stroke="#b69a6a" stroke-width="1.5" stroke-linecap="round" fill="none"/>
<path d="M619.0,349.5 l-1.2,-2.4 M630.1,347.4 l0.0,-2.7 M631.8,348.4 l2.1,-1.5 M638.4,357.4 l2.7,-0.6 M637.2,359.6 l1.2,2.1 M613.0,360.0 l-2.7,0.6 M614.2,357.8 l-1.2,-2.1 M621.0,353.5 l1.2,2.4 M632.0,366.8 l1.5,1.8 M621.5,370.1 l0.9,2.1 M578.8,421.6 l-1.2,-2.4 M572.8,433.0 l-2.7,0.0 M573.5,431.5 l-1.8,-1.8 M580.7,443.8 l-1.2,2.7 M592.4,444.7 l2.4,2.4 M586.9,423.2 l-0.9,-2.1 M595.6,431.6 l0.9,-2.4 M583.2,440.0 l1.8,-1.8 M589.4,444.7 l-1.2,2.4 M675.1,419.9 l1.2,-2.7 M681.2,430.4 l2.7,0.0 M680.4,431.9 l1.8,1.8 M674.0,442.6 l1.2,2.7 M660.7,442.4 l-1.2,2.7 M661.2,423.2 l-1.2,2.1 M673.6,424.2 l-0.6,2.4 M663.2,438.7 l1.8,-1.8 M575.1,372.0 l-1.2,-2.4 M577.4,372.3 l1.5,-2.1 M569.2,375.3 l-2.7,0.0 M570.0,373.8 l-1.8,-1.8 M572.0,387.4 l-1.8,1.8 M574.0,388.1 l0.6,2.7 M570.0,376.8 l-1.8,1.8 M678.6,374.8 l1.8,-2.1 M678.6,378.0 l1.8,1.8 M679.4,376.5 l2.7,0.0 M665.0,369.0 l-0.6,-2.7 M667.0,369.5 l1.8,-2.1 M665.1,390.2 l0.0,2.7 M666.6,389.7 l1.8,2.1 M625.6,466.2 l-1.8,1.8 M628.6,466.2 l1.8,1.8 M617.0,460.6 l-2.7,0.6 M617.7,458.6 l-1.8,-1.8 M638.6,459.7 l2.7,0.9 M637.9,457.4 l1.8,-1.8 M593.0,375.7 l-0.6,-2.7 M599.5,375.1 l0.0,-2.7 M606.1,374.5 l0.6,-2.7 M584.0,390.9 l-2.7,1.2 M588.1,401.3 l-2.4,1.8 M611.8,382.2 l0.9,2.4 M603.2,399.4 l1.2,2.4 M646.2,375.6 l-0.9,-2.7 M650.8,374.5 l-0.6,-2.7 M664.5,398.6 l2.4,1.2 M663.2,409.3 l2.1,1.5 M654.4,408.3 l-1.8,1.8 M639.7,372.1 l0.0,-2.7 M609.3,437.7 l-2.4,1.8 M613.1,443.1 l-2.4,1.5 M639.8,444.1 l2.1,1.5 M649.0,438.8 l2.1,1.5 M619.1,444.2 l-1.8,1.8 M586.5,412.6 l-2.1,1.2 M611.8,434.0 l0.6,-2.1 M574.1,373.3 l-2.4,-0.9 M571.2,386.1 l-2.7,0.3 M663.5,370.2 l-2.4,-1.2 M677.6,374.3 l0.6,-2.7 M663.4,389.5 l-2.1,1.8 M627.1,467.0 l0.0,2.7 M618.2,462.1 l-1.2,2.4 M637.1,460.9 l0.9,2.4 M598.0,375.6 l-1.8,-2.1 M646.0,395.1 l-2.4,0.6 M648.6,403.0 l-2.4,1.2 M624.6,432.5 l0.0,-2.4 M632.7,432.9 l0.0,-2.4 M641.2,433.6 l0.6,-2.4 " stroke="#f5f5f5" stroke-width="1.5" stroke-linecap="round" fill="none"/>
<path d="M603.2,400.4 l-4.0,3.0 M603.2,400.4 l-4.5,-0.5 M614.8,403.9 l-2.0,4.5 M631.4,398.1 l1.0,-4.5 M647.5,391.4 l2.0,-4.0 M626.6,433.3 l-4.0,1.0 M603.2,400.4 l-2.0,-4.0 M620.3,387.9 l-1.0,-4.5 M620.3,387.9 l3.0,-3.0 M641.7,390.2 l-2.0,-4.5 M643.1,411.7 l4.5,0.0 M643.1,411.7 l1.0,4.0 M630.4,427.6 l4.5,0.5 M617.4,414.0 l-4.0,2.5 M617.4,414.0 l-2.0,4.0 M634.1,408.9 l2.0,-4.0 M627.8,416.9 l-3.0,3.0 " stroke="#a3a3a3" stroke-width="2.3" stroke-linecap="round" fill="none"/>
<path d="M614.8,403.9 L621.8,395.3 L631.4,398.1 L634.1,408.9 L627.8,416.9 L617.4,414.0 L614.8,403.9 M603.2,399.5 L614.8,403.0 M602.8,401.3 L614.4,404.8 M631.4,398.1 L641.7,390.2 L647.5,391.4 M634.1,408.9 L643.1,411.7 M627.8,416.9 L630.4,427.6 L626.6,433.3 M621.8,395.3 L620.3,387.9" stroke="#b8a888" stroke-width="3.4" stroke-linecap="round" stroke-linejoin="round" fill="none"/>
<path d="M614.8,403.9 L621.8,395.3 L631.4,398.1 L634.1,408.9 L627.8,416.9 L617.4,414.0 L614.8,403.9 M603.2,399.5 L614.8,403.0 M602.8,401.3 L614.4,404.8 M631.4,398.1 L641.7,390.2 L647.5,391.4 M634.1,408.9 L643.1,411.7 M627.8,416.9 L630.4,427.6 L626.6,433.3 M621.8,395.3 L620.3,387.9" stroke="#efe4d2" stroke-width="2.1" stroke-linecap="round" stroke-linejoin="round" fill="none"/>
<path d="M603.2,400.4 l-4.0,3.0 M603.2,400.4 l-4.5,-0.5 M614.8,403.9 l-2.0,4.5 M631.4,398.1 l1.0,-4.5 M647.5,391.4 l2.0,-4.0 M626.6,433.3 l-4.0,1.0 M603.2,400.4 l-2.0,-4.0 M620.3,387.9 l-1.0,-4.5 M620.3,387.9 l3.0,-3.0 M641.7,390.2 l-2.0,-4.5 M643.1,411.7 l4.5,0.0 M643.1,411.7 l1.0,4.0 M630.4,427.6 l4.5,0.5 M617.4,414.0 l-4.0,2.5 M617.4,414.0 l-2.0,4.0 M634.1,408.9 l2.0,-4.0 M627.8,416.9 l-3.0,3.0 " stroke="#f5f5f5" stroke-width="1.2" stroke-linecap="round" fill="none"/>
<circle cx="648.0" cy="391.6" r="1.5" fill="#eab0b0" stroke="#c87878" stroke-width="0.6"/>
<circle cx="626.6" cy="434.4" r="1.5" fill="#eab0b0" stroke="#c87878" stroke-width="0.6"/>
<path d="M620.0,351.5 L630.1,349.7 L636.2,357.9 L630.8,365.3 L620.7,368.3 L615.2,359.5 L620.0,351.5 M579.8,423.6 L587.6,424.9 L594.9,433.6 L590.4,442.7 L581.7,441.5 L575.0,433.0 L579.8,423.6 M661.9,422.5 L673.5,422.6 L676.9,430.4 L672.8,440.7 L661.6,440.6 L658.8,432.8 L661.9,422.5 M620.7,368.3 L615.1,374.0 L611.0,380.2 L604.6,385.8 M593.5,377.9 L605.6,376.8 L610.4,384.1 L602.2,397.4 L590.1,399.8 L586.3,389.9 L593.5,377.9 M603.3,380.6 L592.6,395.8 M598.5,378.7 L589.5,392.3 M590.1,399.8 L588.3,411.6 L592.0,415.4 L587.6,424.9 M587.5,385.4 L578.0,379.0 M587.0,388.4 L578.0,382.1 M578.0,380.6 L576.1,374.0 M578.0,380.6 L571.5,375.3 M578.0,380.6 L573.5,385.9 M594.9,433.6 L602.1,435.6 L611.3,435.8 M611.3,436.2 L647.2,437.6 M615.1,441.8 L638.1,442.8 M617.1,439.1 L643.3,440.3 M611.3,436.2 L615.1,441.8 M638.1,442.8 L647.2,437.6 M647.2,437.6 L649.0,433.3 L658.7,432.6 M626.2,442.8 L627.1,458.0 M629.2,442.8 L629.8,457.6 M628.3,458.0 L627.1,464.7 M628.3,458.0 L619.2,460.1 M628.3,458.0 L636.4,458.9 M662.2,421.4 L660.4,414.5 L661.4,408.0 M646.9,377.8 L655.9,406.8 M651.3,376.7 L661.4,408.0 M656.8,384.9 L662.5,397.6 M646.9,377.8 L651.3,376.7 L656.8,384.9 M655.9,406.8 L661.4,408.0 L662.5,397.6 M646.9,377.8 L639.7,374.4 L636.4,373.2 L630.8,365.3 M657.9,384.9 L670.0,376.9 M659.1,387.9 L670.4,380.3 M670.2,378.6 L677.1,376.5 M670.2,378.6 L665.5,371.2 M670.2,378.6 L665.1,388.0" stroke="#7a6036" stroke-width="3.2" stroke-linecap="round" stroke-linejoin="round" fill="none"/>
<path d="M620.0,351.5 L630.1,349.7 L636.2,357.9 L630.8,365.3 L620.7,368.3 L615.2,359.5 L620.0,351.5 M579.8,423.6 L587.6,424.9 L594.9,433.6 L590.4,442.7 L581.7,441.5 L575.0,433.0 L579.8,423.6 M661.9,422.5 L673.5,422.6 L676.9,430.4 L672.8,440.7 L661.6,440.6 L658.8,432.8 L661.9,422.5 M620.7,368.3 L615.1,374.0 L611.0,380.2 L604.6,385.8 M593.5,377.9 L605.6,376.8 L610.4,384.1 L602.2,397.4 L590.1,399.8 L586.3,389.9 L593.5,377.9 M603.3,380.6 L592.6,395.8 M598.5,378.7 L589.5,392.3 M590.1,399.8 L588.3,411.6 L592.0,415.4 L587.6,424.9 M587.5,385.4 L578.0,379.0 M587.0,388.4 L578.0,382.1 M578.0,380.6 L576.1,374.0 M578.0,380.6 L571.5,375.3 M578.0,380.6 L573.5,385.9 M594.9,433.6 L602.1,435.6 L611.3,435.8 M611.3,436.2 L647.2,437.6 M615.1,441.8 L638.1,442.8 M617.1,439.1 L643.3,440.3 M611.3,436.2 L615.1,441.8 M638.1,442.8 L647.2,437.6 M647.2,437.6 L649.0,433.3 L658.7,432.6 M626.2,442.8 L627.1,458.0 M629.2,442.8 L629.8,457.6 M628.3,458.0 L627.1,464.7 M628.3,458.0 L619.2,460.1 M628.3,458.0 L636.4,458.9 M662.2,421.4 L660.4,414.5 L661.4,408.0 M646.9,377.8 L655.9,406.8 M651.3,376.7 L661.4,408.0 M656.8,384.9 L662.5,397.6 M646.9,377.8 L651.3,376.7 L656.8,384.9 M655.9,406.8 L661.4,408.0 L662.5,397.6 M646.9,377.8 L639.7,374.4 L636.4,373.2 L630.8,365.3 M657.9,384.9 L670.0,376.9 M659.1,387.9 L670.4,380.3 M670.2,378.6 L677.1,376.5 M670.2,378.6 L665.5,371.2 M670.2,378.6 L665.1,388.0" stroke="#b69a6a" stroke-width="1.9" stroke-linecap="round" stroke-linejoin="round" fill="none"/>
<path d="M616.2,372.5 L614.0,375.4 M592.7,413.7 L591.3,417.0 M600.3,435.6 L603.9,435.6 M648.5,435.0 L649.5,431.5 M660.7,416.3 L660.0,412.8 M637.5,374.6 L635.3,371.7 M588.1,386.1 L591.5,387.5 M596.5,390.5 L599.9,391.5 M656.4,385.8 L659.5,384.0 M627.5,446.2 L627.5,449.8 " stroke="#b04848" stroke-width="3.0" stroke-linecap="round" fill="none"/>
<path d="M616.2,372.5 L614.0,375.4 M592.7,413.7 L591.3,417.0 M600.3,435.6 L603.9,435.6 M648.5,435.0 L649.5,431.5 M660.7,416.3 L660.0,412.8 M637.5,374.6 L635.3,371.7 M588.1,386.1 L591.5,387.5 M596.5,390.5 L599.9,391.5 M656.4,385.8 L659.5,384.0 M627.5,446.2 L627.5,449.8 " stroke="#ee8a8a" stroke-width="1.7" stroke-linecap="round" fill="none"/>
<path d="M616.4,395.9 l-2.0,-4.5 M622.4,396.5 l1.0,-4.5 M619.1,405.2 l-4.5,1.0 M621.9,430.9 l-4.0,2.0 M621.9,430.9 l0.0,4.5 M624.0,432.0 l3.0,3.0 " stroke="#8f8f8f" stroke-width="2.4" stroke-linecap="round" fill="none"/>
<path d="M615.6,394.1 l-1.2,-2.7 M622.8,394.7 l0.6,-2.7 M617.3,405.6 l-2.7,0.6 M620.3,431.7 l-2.4,1.2 M621.9,432.7 l0.0,2.7 M625.2,433.2 l1.8,1.8 " stroke="#f2f2f2" stroke-width="1.3" stroke-linecap="round" fill="none"/>
<path d="M616.4,395.9 L622.4,396.5 L631.1,407.4 L632.2,416.7 L626.2,414.5 L619.1,405.2 L616.4,395.9 M632.2,416.7 L626.2,421.1 L636.0,423.8 M626.2,421.1 L621.9,430.9" stroke="#2b4682" stroke-width="3.2" stroke-linecap="round" stroke-linejoin="round" fill="none"/>
<path d="M616.4,395.9 L622.4,396.5 L631.1,407.4 L632.2,416.7 L626.2,414.5 L619.1,405.2 L616.4,395.9 M632.2,416.7 L626.2,421.1 L636.0,423.8 M626.2,421.1 L621.9,430.9" stroke="#4d6fb2" stroke-width="1.9" stroke-linecap="round" stroke-linejoin="round" fill="none"/>
<path d="M618.7,398.7 L623.0,399.2 L629.3,407.0 L630.1,413.7 L625.7,412.1 L620.6,405.4 Z" stroke="#2b4682" stroke-width="2.4" fill="none"/>
<path d="M618.7,398.7 L623.0,399.2 L629.3,407.0 L630.1,413.7 L625.7,412.1 L620.6,405.4 Z" stroke="#4d6fb2" stroke-width="1.3" fill="none"/>
<circle cx="636.6" cy="426.0" r="2.4" fill="#e01810" stroke="#8a0a05" stroke-width="0.7"/>
<circle cx="643.2" cy="423.8" r="2.2" fill="#e01810" stroke="#8a0a05" stroke-width="0.7"/>
<circle cx="630.0" cy="436.4" r="1.8" fill="#e01810" stroke="#8a0a05" stroke-width="0.7"/>
<path d="M632.8,435.8 L638.8,432.0" stroke="#44aaf0" stroke-width="1" stroke-dasharray="1.2,0.9"/>
<path d="M460.7,403.5 l3.6,0" stroke="#a00c08" stroke-width="3.4" stroke-linecap="round"/><path d="M460.7,403.5 l3.6,0" stroke="#e01810" stroke-width="2.0" stroke-linecap="round"/>
<path d="M524.7,377.5 l3.6,0" stroke="#a00c08" stroke-width="3.4" stroke-linecap="round"/><path d="M524.7,377.5 l3.6,0" stroke="#e01810" stroke-width="2.0" stroke-linecap="round"/>
<path d="M585.2,401.5 l3.6,0" stroke="#a00c08" stroke-width="3.4" stroke-linecap="round"/><path d="M585.2,401.5 l3.6,0" stroke="#e01810" stroke-width="2.0" stroke-linecap="round"/>
<path d="M647.7,376.5 l3.6,0" stroke="#a00c08" stroke-width="3.4" stroke-linecap="round"/><path d="M647.7,376.5 l3.6,0" stroke="#e01810" stroke-width="2.0" stroke-linecap="round"/>
<text x="511.4" y="120.9" font-size="7.9" fill="#ee2a26">1.83 &#197;</text>
<text x="636.9" y="119.9" font-size="7.9" fill="#44aaf0">1.76 &#197;</text>
<text x="515.4" y="289.7" font-size="7.9" fill="#ee2a26">1.83 &#197;</text>
<text x="641.7" y="291.6" font-size="7.9" fill="#44aaf0">1.78 &#197;</text>
<text x="521.4" y="458" font-size="7.9" fill="#ee2a26">1.67 &#197;</text>
<text x="637.7" y="456.5" font-size="7.9" fill="#44aaf0">1.66 &#197;</text>
</svg></body></html>
